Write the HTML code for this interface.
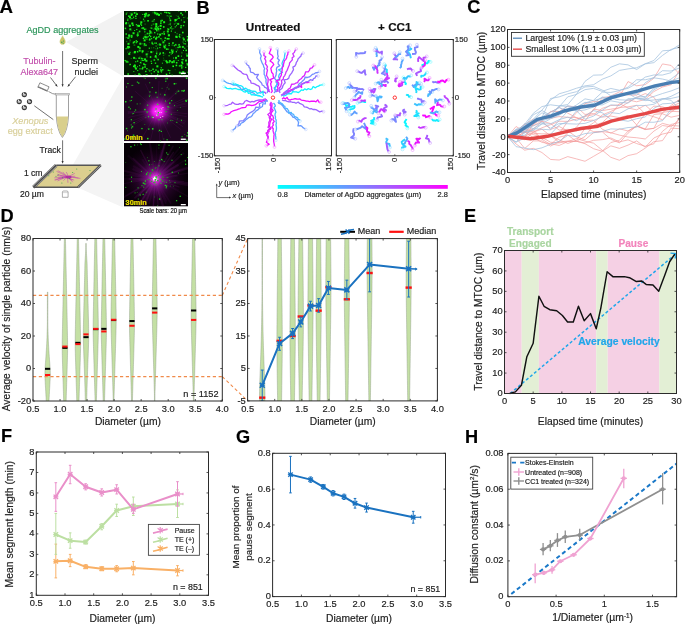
<!DOCTYPE html><html><head><meta charset="utf-8"><style>html,body{margin:0;padding:0;background:#fff;}svg{display:block;will-change:transform;}text{font-family:"Liberation Sans",sans-serif;}</style></head><body>
<svg width="685" height="624" viewBox="0 0 685 624">
<defs><radialGradient id="bead" cx="40%" cy="35%" r="70%"><stop offset="0" stop-color="#f0f0f0"/><stop offset="0.45" stop-color="#808080"/><stop offset="1" stop-color="#202020"/></radialGradient><radialGradient id="glow2" cx="50%" cy="50%" r="50%"><stop offset="0" stop-color="#ff50ff"/><stop offset="0.22" stop-color="#f818f8" stop-opacity="0.95"/><stop offset="0.42" stop-color="#c010c8" stop-opacity="0.6"/><stop offset="0.7" stop-color="#701078" stop-opacity="0.25"/><stop offset="1" stop-color="#400848" stop-opacity="0"/></radialGradient><radialGradient id="glow3" cx="50%" cy="50%" r="50%"><stop offset="0" stop-color="#ffd0ff"/><stop offset="0.15" stop-color="#f030f0" stop-opacity="0.95"/><stop offset="0.45" stop-color="#a018a8" stop-opacity="0.5"/><stop offset="1" stop-color="#500058" stop-opacity="0"/></radialGradient><radialGradient id="glow3b" cx="50%" cy="50%" r="50%"><stop offset="0" stop-color="#a020a8" stop-opacity="0.6"/><stop offset="0.5" stop-color="#701078" stop-opacity="0.3"/><stop offset="1" stop-color="#400040" stop-opacity="0"/></radialGradient><linearGradient id="cbar" x1="0" x2="1" y1="0" y2="0"><stop offset="0" stop-color="#00ffff"/><stop offset="1" stop-color="#ff00ff"/></linearGradient><clipPath id="clipI1"><rect x="124" y="11" width="64" height="64.3"/></clipPath><clipPath id="clipI2"><rect x="124" y="77.1" width="64" height="64.1"/></clipPath><clipPath id="clipI3"><rect x="124" y="143" width="64" height="63.6"/></clipPath></defs>
<path d="M66 42 L123.2 11 L123.2 76.5 Z" fill="#f2f2f2" stroke="none" stroke-width="1"/>
<path d="M72.5 165.5 L123.2 76.8 L123.2 207.5 L77.5 187.5 Z" fill="#f4f4f4" stroke="none" stroke-width="1"/>
<text x="-0.6" y="13.4" font-size="18.7" text-anchor="start" fill="#000" font-weight="bold" stroke="#000" stroke-width="0.18">A</text>
<text x="26.5" y="32.8" font-size="9.3" text-anchor="start" fill="#2b955a" stroke="#2b955a" stroke-width="0.18" textLength="72" lengthAdjust="spacingAndGlyphs">AgDD aggregates</text>
<path d="M62.6 35.6 C61.6 38 59.8 39.6 59.8 41.7 C59.8 43.4 61.1 44.6 62.6 44.6 C64.1 44.6 65.4 43.4 65.4 41.7 C65.4 39.6 63.6 38 62.6 35.6 Z" fill="#c9c565" stroke="#d8d49a" stroke-width="0.4"/>
<circle cx="61.8" cy="42.3" r="0.7" fill="#2e9a5c"/><circle cx="63.5" cy="41" r="0.6" fill="#2e9a5c"/><circle cx="63.2" cy="43.2" r="0.5" fill="#2e9a5c"/>
<text transform="translate(23.3 63.6) scale(0.94 1)" x="0" y="0" font-size="9.6" text-anchor="start" fill="#c24fac" stroke="#c24fac" stroke-width="0.19047619047619047">Tubulin-</text>
<text transform="translate(20.4 74.6) scale(0.94 1)" x="0" y="0" font-size="9.6" text-anchor="start" fill="#c24fac" stroke="#c24fac" stroke-width="0.19047619047619047">Alexa647</text>
<text transform="translate(71.6 63.6) scale(0.94 1)" x="0" y="0" font-size="9.6" text-anchor="start" fill="#2a2a2a" stroke="#2a2a2a" stroke-width="0.19047619047619047">Sperm</text>
<text transform="translate(74.5 74.6) scale(0.94 1)" x="0" y="0" font-size="9.6" text-anchor="start" fill="#2a2a2a" stroke="#2a2a2a" stroke-width="0.19047619047619047">nuclei</text>
<line x1="62.6" y1="51" x2="62.6" y2="86.5" stroke="#333" stroke-width="0.7"/>
<path d="M62.6 86.5 L61.5 84.3 L63.7 84.3 Z" fill="#333" stroke="none" stroke-width="1"/>
<line x1="50.5" y1="77.5" x2="57.3" y2="86.5" stroke="#333" stroke-width="0.7"/>
<path d="M57.3 86.5 L55.1 85.41 L56.85 84.08 Z" fill="#333" stroke="none" stroke-width="1"/>
<line x1="75.5" y1="76.8" x2="67.8" y2="86.5" stroke="#333" stroke-width="0.7"/>
<path d="M67.8 86.5 L68.31 84.09 L70.03 85.46 Z" fill="#333" stroke="none" stroke-width="1"/>
<g transform="rotate(24 43.5 87)"><rect x="38.5" y="84.6" width="10" height="4.2" fill="#fff" stroke="#555" stroke-width="0.6"/><line x1="38" y1="89.4" x2="49" y2="89.4" stroke="#666" stroke-width="0.9"/></g>
<path d="M48.5 91.5 L52.5 93.6 L55.5 94.2" fill="none" stroke="#666" stroke-width="0.7"/>
<path d="M56.3 95 L56.3 116 Q57.2 131 62.4 137.4 Q67.6 131 68.5 116 L68.5 95" fill="#fff" stroke="#777" stroke-width="0.7"/>
<path d="M56.65 116.4 L68.15 116.4 Q67.3 130.6 62.4 136.9 Q57.5 130.6 56.65 116.4 Z" fill="#d9cf8c"/>
<rect x="55.2" y="93.6" width="14.2" height="1.4" fill="#e2e2e2" stroke="#8a8a8a" stroke-width="0.5"/>
<circle cx="24.3" cy="94.6" r="2.6" fill="#3a3a3a"/>
<ellipse cx="24.3" cy="94.8" rx="1.7" ry="0.9" fill="#d8d8d8"/>
<circle cx="23.7" cy="93.3" r="0.7" fill="#fff"/>
<circle cx="19.2" cy="101.6" r="2.6" fill="#3a3a3a"/>
<ellipse cx="19.2" cy="101.8" rx="1.7" ry="0.9" fill="#d8d8d8"/>
<circle cx="18.6" cy="100.3" r="0.7" fill="#fff"/>
<circle cx="29.5" cy="101.6" r="2.6" fill="#3a3a3a"/>
<ellipse cx="29.5" cy="101.8" rx="1.7" ry="0.9" fill="#d8d8d8"/>
<circle cx="28.9" cy="100.3" r="0.7" fill="#fff"/>
<circle cx="24.3" cy="107.6" r="2.6" fill="#3a3a3a"/>
<ellipse cx="24.3" cy="107.8" rx="1.7" ry="0.9" fill="#d8d8d8"/>
<circle cx="23.7" cy="106.3" r="0.7" fill="#fff"/>
<line x1="34.3" y1="105.8" x2="53.3" y2="119.6" stroke="#333" stroke-width="0.7"/>
<text x="12.2" y="123.7" font-size="9.2" text-anchor="start" fill="#d8cf9a" font-style="italic" stroke="#d8cf9a" stroke-width="0.18">Xenopus</text>
<text x="7.7" y="134" font-size="9.1" text-anchor="start" fill="#d8cf9a" stroke="#d8cf9a" stroke-width="0.18">egg extract</text>
<text x="39.6" y="152.6" font-size="8.6" text-anchor="start" fill="#222" stroke="#222" stroke-width="0.18">Track</text>
<line x1="62.6" y1="140.3" x2="62.6" y2="163.3" stroke="#333" stroke-width="0.7"/>
<path d="M62.6 163.3 L61.5 161.1 L63.7 161.1 Z" fill="#333" stroke="none" stroke-width="1"/>
<path d="M33.4 187.3 L56.2 165.2 L100.8 165.2 L78 187.3 Z" fill="#dccf8f"/>
<path d="M33.4 187.3 L56.2 165.2" stroke="#4a4a4a" stroke-width="3.4"/>
<path d="M33.4 187.3 L56.2 165.2" stroke="#f4f4f4" stroke-width="0.55" transform="translate(0.75 0.75)"/>
<path d="M33.4 187.3 L56.2 165.2" stroke="#f4f4f4" stroke-width="0.55" transform="translate(-0.75 -0.75)"/>
<line x1="56.2" y1="165.3" x2="100.8" y2="165.3" stroke="#555" stroke-width="1.4"/>
<line x1="33.4" y1="187.2" x2="78" y2="187.2" stroke="#555" stroke-width="1.6"/>
<path d="M78 187.3 L100.8 165.2" stroke="#4a4a4a" stroke-width="2.4"/>
<path d="M78 187.3 L100.8 165.2" stroke="#eee" stroke-width="0.5"/>
<path d="M67.5 176.8 Q65.83 177.84 63.55 180.59" stroke="#c040b0" stroke-width="0.55" fill="none"/>
<path d="M67.5 176.8 Q61.4 176.24 57.07 175.65" stroke="#c040b0" stroke-width="0.55" fill="none"/>
<path d="M67.5 176.8 Q72.13 176.61 78.48 178.07" stroke="#c040b0" stroke-width="0.55" fill="none"/>
<path d="M67.5 176.8 Q60.19 177.86 54.39 180.03" stroke="#c040b0" stroke-width="0.55" fill="none"/>
<path d="M67.5 176.8 Q62.16 173.87 56.51 171.36" stroke="#c040b0" stroke-width="0.55" fill="none"/>
<path d="M67.5 176.8 Q72.13 176.1 75.32 176.24" stroke="#c040b0" stroke-width="0.55" fill="none"/>
<path d="M67.5 176.8 Q69.75 179.04 72.76 180.02" stroke="#c040b0" stroke-width="0.55" fill="none"/>
<path d="M67.5 176.8 Q70.43 179.28 72.81 182.28" stroke="#c040b0" stroke-width="0.55" fill="none"/>
<path d="M67.5 176.8 Q62.77 175.64 59.81 175.66" stroke="#c040b0" stroke-width="0.55" fill="none"/>
<path d="M67.5 176.8 Q64.75 174.53 62.74 171.91" stroke="#c040b0" stroke-width="0.55" fill="none"/>
<path d="M67.5 176.8 Q63.24 177.9 57.81 178.21" stroke="#c040b0" stroke-width="0.55" fill="none"/>
<path d="M67.5 176.8 Q67.78 180.55 67.96 182.81" stroke="#c040b0" stroke-width="0.55" fill="none"/>
<path d="M67.5 176.8 Q67.82 173.65 66.21 172.03" stroke="#c040b0" stroke-width="0.55" fill="none"/>
<path d="M67.5 176.8 Q60.66 178.45 55.2 180.14" stroke="#c040b0" stroke-width="0.55" fill="none"/>
<path d="M67.5 176.8 Q74.5 177.73 80.44 178.36" stroke="#c040b0" stroke-width="0.55" fill="none"/>
<path d="M67.5 176.8 Q71.52 175.26 74.77 173.33" stroke="#c040b0" stroke-width="0.55" fill="none"/>
<path d="M67.5 176.8 Q63.14 176.36 57.43 174.15" stroke="#c040b0" stroke-width="0.55" fill="none"/>
<path d="M67.5 176.8 Q60.05 177.72 54.36 177.84" stroke="#c040b0" stroke-width="0.55" fill="none"/>
<path d="M67.5 176.8 Q63.27 173.27 57.75 170.6" stroke="#c040b0" stroke-width="0.55" fill="none"/>
<path d="M67.5 176.8 Q61.52 178.83 57.44 181.01" stroke="#c040b0" stroke-width="0.55" fill="none"/>
<path d="M67.5 176.8 Q68.72 179.12 71.7 180.36" stroke="#c040b0" stroke-width="0.55" fill="none"/>
<path d="M67.5 176.8 Q70.61 179.23 74.15 180.17" stroke="#c040b0" stroke-width="0.55" fill="none"/>
<ellipse cx="68.5" cy="177" rx="3" ry="1.6" fill="#b0309f"/>
<circle cx="48.79" cy="175.64" r="0.5" fill="#2ea04a"/>
<circle cx="70.82" cy="183.02" r="0.5" fill="#2ea04a"/>
<circle cx="58.09" cy="175.06" r="0.5" fill="#2ea04a"/>
<circle cx="61.86" cy="183.03" r="0.5" fill="#2ea04a"/>
<circle cx="90.01" cy="170.57" r="0.5" fill="#2ea04a"/>
<circle cx="53.28" cy="171.94" r="0.5" fill="#2ea04a"/>
<circle cx="55.97" cy="176.24" r="0.5" fill="#2ea04a"/>
<circle cx="72.69" cy="172.47" r="0.5" fill="#2ea04a"/>
<circle cx="62.35" cy="177.63" r="0.5" fill="#2ea04a"/>
<circle cx="69.23" cy="178.5" r="0.5" fill="#2ea04a"/>
<circle cx="76.78" cy="168.92" r="0.5" fill="#2ea04a"/>
<text x="23.9" y="175.5" font-size="8.6" text-anchor="start" fill="#222" stroke="#222" stroke-width="0.18">1 cm</text>
<text x="19.9" y="197.4" font-size="8.6" text-anchor="start" fill="#222" stroke="#222" stroke-width="0.18">20 µm</text>
<path d="M62.4 197.3 L62.4 192.2 Q62.4 191 63.6 191 L66.9 191 Q68.1 191 68.1 192.2 L68.1 197.3 Z" fill="#fff" stroke="#777" stroke-width="0.6"/>
<line x1="62.4" y1="192.6" x2="68.1" y2="192.6" stroke="#999" stroke-width="0.4"/>
<g clip-path="url(#clipI1)">
<rect x="124" y="11" width="64" height="64.3" fill="#021c02" stroke="none" stroke-width="1"/>
<rect x="152.95" y="46.99" width="1.4" height="1.4" fill="#0a620a"/>
<rect x="156.5" y="48.77" width="1" height="1" fill="#0a790a"/>
<rect x="156.76" y="51.5" width="1" height="1" fill="#0a4c0a"/>
<rect x="152.58" y="20.12" width="1.8" height="1.8" fill="#0a790a"/>
<rect x="180.98" y="51.8" width="1.8" height="1.8" fill="#0a5f0a"/>
<rect x="185.74" y="53.05" width="1.8" height="1.8" fill="#0a6f0a"/>
<rect x="134.08" y="11.96" width="1.8" height="1.8" fill="#0a4a0a"/>
<rect x="127.81" y="23.23" width="1" height="1" fill="#0a6c0a"/>
<rect x="125.93" y="40.83" width="1.4" height="1.4" fill="#0a6b0a"/>
<rect x="177.92" y="44.38" width="1.8" height="1.8" fill="#0a580a"/>
<rect x="155.99" y="53.6" width="1.4" height="1.4" fill="#0a6f0a"/>
<rect x="141.8" y="75.15" width="1" height="1" fill="#0a730a"/>
<rect x="140.26" y="59.74" width="1.8" height="1.8" fill="#0a580a"/>
<rect x="125.9" y="47.21" width="1" height="1" fill="#0a5f0a"/>
<rect x="130.9" y="29.71" width="1" height="1" fill="#0a470a"/>
<rect x="178.23" y="11.04" width="1" height="1" fill="#0a810a"/>
<rect x="182.26" y="41.22" width="1.8" height="1.8" fill="#0a5f0a"/>
<rect x="150.87" y="47.41" width="1" height="1" fill="#0a770a"/>
<rect x="167.19" y="32.66" width="1.4" height="1.4" fill="#0a5b0a"/>
<rect x="124.97" y="37.37" width="1" height="1" fill="#0a4e0a"/>
<rect x="139.77" y="17.5" width="1" height="1" fill="#0a630a"/>
<rect x="175.01" y="22.42" width="1.8" height="1.8" fill="#0a520a"/>
<rect x="152.64" y="23.26" width="1.8" height="1.8" fill="#0a770a"/>
<rect x="132.38" y="52.39" width="1" height="1" fill="#0a5f0a"/>
<rect x="150.93" y="24.69" width="1.4" height="1.4" fill="#0a7d0a"/>
<rect x="186.14" y="62.66" width="1.4" height="1.4" fill="#0a7e0a"/>
<rect x="125.26" y="23.04" width="1.8" height="1.8" fill="#0a6f0a"/>
<rect x="160.93" y="13.71" width="1" height="1" fill="#0a530a"/>
<rect x="152.26" y="11.62" width="1.8" height="1.8" fill="#0a5b0a"/>
<rect x="177.14" y="35.83" width="1" height="1" fill="#0a4b0a"/>
<rect x="137.36" y="51.93" width="1" height="1" fill="#0a6c0a"/>
<rect x="147.6" y="51" width="1" height="1" fill="#0a6b0a"/>
<rect x="154.96" y="47.94" width="1.4" height="1.4" fill="#0a510a"/>
<rect x="164.14" y="30.99" width="1" height="1" fill="#0a7a0a"/>
<rect x="163.07" y="57.64" width="1" height="1" fill="#0a750a"/>
<rect x="164.25" y="46.62" width="1.8" height="1.8" fill="#0a820a"/>
<rect x="148.85" y="42.03" width="1" height="1" fill="#0a600a"/>
<rect x="127.03" y="18.01" width="1.8" height="1.8" fill="#0a560a"/>
<rect x="139.26" y="56.3" width="1.4" height="1.4" fill="#0a600a"/>
<rect x="176.72" y="49.35" width="1.4" height="1.4" fill="#0a670a"/>
<rect x="135.23" y="57.32" width="1" height="1" fill="#0a4e0a"/>
<rect x="138.62" y="46.97" width="1.8" height="1.8" fill="#0a6d0a"/>
<rect x="128.74" y="24.66" width="1" height="1" fill="#0a750a"/>
<rect x="125.06" y="28.31" width="1.4" height="1.4" fill="#0a550a"/>
<rect x="127.87" y="22.33" width="1.4" height="1.4" fill="#0a670a"/>
<rect x="160.62" y="19.46" width="1.4" height="1.4" fill="#0a4e0a"/>
<rect x="181.02" y="74.05" width="1.8" height="1.8" fill="#0a740a"/>
<rect x="168.24" y="48.58" width="1" height="1" fill="#0a6b0a"/>
<rect x="126.25" y="12.15" width="1.4" height="1.4" fill="#0a720a"/>
<rect x="143.96" y="13.16" width="1.8" height="1.8" fill="#0a6e0a"/>
<rect x="128.79" y="15.33" width="1.4" height="1.4" fill="#0a5a0a"/>
<rect x="132.74" y="15.66" width="1.4" height="1.4" fill="#0a680a"/>
<rect x="147.54" y="13.86" width="1.8" height="1.8" fill="#0a750a"/>
<rect x="169.04" y="62.01" width="1.4" height="1.4" fill="#0a5c0a"/>
<rect x="129.44" y="41.43" width="1" height="1" fill="#0a7d0a"/>
<rect x="178.87" y="71.71" width="1" height="1" fill="#0a7d0a"/>
<rect x="156" y="11.93" width="1.8" height="1.8" fill="#0a5e0a"/>
<rect x="148.27" y="11.8" width="1" height="1" fill="#0a4b0a"/>
<rect x="129.8" y="18.43" width="1.4" height="1.4" fill="#0a7e0a"/>
<rect x="150.64" y="32.23" width="1.8" height="1.8" fill="#0a720a"/>
<rect x="161.18" y="39.33" width="1.8" height="1.8" fill="#0a4b0a"/>
<rect x="157.2" y="44.08" width="1.4" height="1.4" fill="#0a6c0a"/>
<rect x="129.61" y="12.43" width="1.8" height="1.8" fill="#0a4d0a"/>
<rect x="155.82" y="50.51" width="1.4" height="1.4" fill="#0a560a"/>
<rect x="181.37" y="34.66" width="1" height="1" fill="#0a710a"/>
<rect x="163.15" y="44.33" width="1.4" height="1.4" fill="#0a700a"/>
<rect x="183.54" y="43.04" width="1" height="1" fill="#0a5a0a"/>
<rect x="149.9" y="27.11" width="1.8" height="1.8" fill="#0a610a"/>
<rect x="175.44" y="59.52" width="1" height="1" fill="#0a7e0a"/>
<rect x="137.71" y="25.12" width="1.4" height="1.4" fill="#0a530a"/>
<rect x="132.72" y="42.92" width="1" height="1" fill="#0a730a"/>
<rect x="128.1" y="74.04" width="1" height="1" fill="#0a4d0a"/>
<rect x="152.84" y="28.69" width="1" height="1" fill="#0a7b0a"/>
<rect x="150.5" y="51.23" width="1.4" height="1.4" fill="#0a710a"/>
<rect x="144.18" y="64.96" width="1.8" height="1.8" fill="#0a620a"/>
<rect x="144.5" y="64.29" width="1.4" height="1.4" fill="#0a7d0a"/>
<rect x="162.88" y="54.61" width="1.4" height="1.4" fill="#0a6a0a"/>
<rect x="146.67" y="52.75" width="1.8" height="1.8" fill="#0a470a"/>
<rect x="165.02" y="37.05" width="1" height="1" fill="#0a470a"/>
<rect x="173.23" y="28.13" width="1" height="1" fill="#0a780a"/>
<rect x="127" y="51.46" width="1.4" height="1.4" fill="#0a4c0a"/>
<rect x="164.32" y="53.12" width="1.4" height="1.4" fill="#0a4a0a"/>
<rect x="167.81" y="23.82" width="1.4" height="1.4" fill="#0a560a"/>
<rect x="135.44" y="11.69" width="1.4" height="1.4" fill="#0a680a"/>
<rect x="169.71" y="22.52" width="1.4" height="1.4" fill="#0a770a"/>
<rect x="146.13" y="55.84" width="1.8" height="1.8" fill="#0a660a"/>
<rect x="163.32" y="59.62" width="1.4" height="1.4" fill="#0a7c0a"/>
<rect x="174.68" y="69.27" width="1" height="1" fill="#0a600a"/>
<rect x="183.69" y="57.45" width="1" height="1" fill="#0a620a"/>
<rect x="153.03" y="51.22" width="1" height="1" fill="#0a5e0a"/>
<rect x="159.2" y="52.97" width="1.8" height="1.8" fill="#0a780a"/>
<rect x="176.44" y="33.06" width="1.4" height="1.4" fill="#0a6f0a"/>
<rect x="186.87" y="17.36" width="1.8" height="1.8" fill="#0a810a"/>
<rect x="169.93" y="24.71" width="1.4" height="1.4" fill="#0a4b0a"/>
<rect x="186.55" y="45.53" width="1.4" height="1.4" fill="#0a560a"/>
<rect x="182.24" y="66.03" width="1.4" height="1.4" fill="#0a660a"/>
<rect x="129.3" y="39.35" width="1.8" height="1.8" fill="#0a600a"/>
<rect x="173.17" y="42.34" width="1" height="1" fill="#0a530a"/>
<rect x="175.78" y="15.12" width="1" height="1" fill="#0a510a"/>
<rect x="158.12" y="55.15" width="1" height="1" fill="#0a640a"/>
<rect x="133.52" y="44.21" width="1.8" height="1.8" fill="#0a670a"/>
<rect x="177.76" y="55.33" width="1.4" height="1.4" fill="#0a6b0a"/>
<rect x="184.75" y="16.53" width="1" height="1" fill="#0a620a"/>
<rect x="157.71" y="29.66" width="1.8" height="1.8" fill="#0a690a"/>
<rect x="164.89" y="44.61" width="1.8" height="1.8" fill="#0a560a"/>
<rect x="143.95" y="35.51" width="1.8" height="1.8" fill="#0a530a"/>
<rect x="143.49" y="20.08" width="1.8" height="1.8" fill="#0a670a"/>
<rect x="141.47" y="43" width="1.4" height="1.4" fill="#0a680a"/>
<rect x="131.31" y="11.32" width="1.4" height="1.4" fill="#0a470a"/>
<rect x="158.45" y="13.83" width="1.4" height="1.4" fill="#0a680a"/>
<rect x="175.27" y="47.19" width="1.4" height="1.4" fill="#0a4b0a"/>
<rect x="168.22" y="15.24" width="1.8" height="1.8" fill="#0a630a"/>
<rect x="150.48" y="72.53" width="1.4" height="1.4" fill="#0a570a"/>
<rect x="139.76" y="42.7" width="1.4" height="1.4" fill="#0a610a"/>
<rect x="181.66" y="71.16" width="1.4" height="1.4" fill="#0a670a"/>
<rect x="144.3" y="23.31" width="1.8" height="1.8" fill="#0a470a"/>
<rect x="183.22" y="19.32" width="1" height="1" fill="#0a480a"/>
<rect x="136.42" y="25.61" width="1.8" height="1.8" fill="#0a580a"/>
<rect x="144.61" y="33.85" width="1.8" height="1.8" fill="#0a650a"/>
<rect x="130.71" y="58" width="1" height="1" fill="#0a7c0a"/>
<rect x="156.67" y="27.11" width="1.2" height="1.2" fill="#19f819"/>
<rect x="180.24" y="12.49" width="1.6" height="1.6" fill="#19f819"/>
<rect x="163.41" y="45.61" width="2" height="2" fill="#19ff19"/>
<rect x="137.97" y="24.9" width="2" height="2" fill="#19fe19"/>
<rect x="161.55" y="19.77" width="1.4" height="1.4" fill="#19e219"/>
<rect x="144.22" y="31.25" width="1.2" height="1.2" fill="#19e419"/>
<rect x="173.81" y="23.51" width="1" height="1" fill="#19df19"/>
<rect x="180.89" y="19.52" width="1" height="1" fill="#19e719"/>
<rect x="148.83" y="38.96" width="1.6" height="1.6" fill="#19f919"/>
<rect x="174.56" y="19.1" width="1.6" height="1.6" fill="#19ff19"/>
<rect x="167.85" y="12.14" width="1.2" height="1.2" fill="#19fb19"/>
<rect x="167.67" y="69.6" width="1.4" height="1.4" fill="#19de19"/>
<rect x="169.1" y="51.81" width="1.4" height="1.4" fill="#19f719"/>
<rect x="187.91" y="64.56" width="1" height="1" fill="#19f519"/>
<rect x="130.8" y="13.41" width="2" height="2" fill="#19fe19"/>
<rect x="156.95" y="47.57" width="1.2" height="1.2" fill="#19e319"/>
<rect x="135.81" y="24.11" width="1.2" height="1.2" fill="#19e919"/>
<rect x="183.32" y="17.12" width="1" height="1" fill="#19df19"/>
<rect x="184.9" y="40.71" width="1" height="1" fill="#19eb19"/>
<rect x="149.02" y="38.42" width="1.4" height="1.4" fill="#19f219"/>
<rect x="137.45" y="34.99" width="1" height="1" fill="#19e319"/>
<rect x="135.6" y="40.19" width="1.4" height="1.4" fill="#19f019"/>
<rect x="183" y="49.89" width="1" height="1" fill="#19f719"/>
<rect x="174.71" y="31.81" width="1" height="1" fill="#19ff19"/>
<rect x="184.13" y="47.63" width="1.2" height="1.2" fill="#19f719"/>
<rect x="161.42" y="32.92" width="1.4" height="1.4" fill="#19e819"/>
<rect x="182.32" y="58.87" width="1.2" height="1.2" fill="#19f019"/>
<rect x="132.53" y="32.21" width="2" height="2" fill="#19ee19"/>
<rect x="173.11" y="60.2" width="1.6" height="1.6" fill="#19e419"/>
<rect x="170.25" y="15.54" width="1.4" height="1.4" fill="#19ea19"/>
<rect x="154.01" y="11.68" width="1.4" height="1.4" fill="#19ff19"/>
<rect x="181.77" y="14.19" width="1.4" height="1.4" fill="#19ea19"/>
<rect x="145.62" y="53.42" width="2" height="2" fill="#19e219"/>
<rect x="158.12" y="36.05" width="1.6" height="1.6" fill="#19e419"/>
<rect x="168.88" y="59.98" width="2" height="2" fill="#19d819"/>
<rect x="131.35" y="17.95" width="1.2" height="1.2" fill="#19e719"/>
<rect x="152.39" y="43.46" width="1.2" height="1.2" fill="#19ef19"/>
<rect x="124.69" y="27.63" width="1.4" height="1.4" fill="#19ec19"/>
<rect x="159.2" y="43.65" width="2" height="2" fill="#19fb19"/>
<rect x="178.17" y="17.41" width="1.6" height="1.6" fill="#19db19"/>
<rect x="159.16" y="53.98" width="1" height="1" fill="#19ef19"/>
<rect x="183.53" y="21.28" width="1.6" height="1.6" fill="#19e119"/>
<rect x="178.76" y="45.85" width="2" height="2" fill="#19da19"/>
<rect x="151.49" y="42.8" width="1.4" height="1.4" fill="#19f819"/>
<rect x="149.51" y="31.09" width="2" height="2" fill="#19e919"/>
<rect x="154.93" y="28.35" width="1.4" height="1.4" fill="#19e919"/>
<rect x="125.72" y="60.67" width="2" height="2" fill="#19d919"/>
<rect x="164.51" y="37.29" width="1.6" height="1.6" fill="#19da19"/>
<rect x="181.44" y="59.12" width="1" height="1" fill="#19fc19"/>
<rect x="187.28" y="71.73" width="1" height="1" fill="#19e519"/>
<rect x="151.49" y="41.71" width="1.2" height="1.2" fill="#19d919"/>
<rect x="157.5" y="71.27" width="1.6" height="1.6" fill="#19e019"/>
<rect x="186.64" y="63.51" width="2" height="2" fill="#19de19"/>
<rect x="127.23" y="37.82" width="1" height="1" fill="#19e419"/>
<rect x="179.11" y="33.94" width="1.2" height="1.2" fill="#19de19"/>
<rect x="147.25" y="19.99" width="1.6" height="1.6" fill="#19f419"/>
<rect x="162.47" y="52.13" width="1.6" height="1.6" fill="#19ee19"/>
<rect x="173.79" y="45.13" width="1.2" height="1.2" fill="#19e919"/>
<rect x="170.99" y="26.33" width="1" height="1" fill="#19f719"/>
<rect x="181.13" y="61.43" width="2" height="2" fill="#19ed19"/>
<rect x="141.58" y="50.21" width="2" height="2" fill="#19fc19"/>
<rect x="136.16" y="28.92" width="1.2" height="1.2" fill="#19e319"/>
<rect x="184.92" y="43.29" width="1.2" height="1.2" fill="#19d919"/>
<rect x="164.22" y="11.61" width="1.4" height="1.4" fill="#19f219"/>
<rect x="125.72" y="13.45" width="1.2" height="1.2" fill="#19f919"/>
<rect x="141.81" y="59.6" width="1.2" height="1.2" fill="#19fa19"/>
<rect x="139.02" y="74.11" width="1.6" height="1.6" fill="#19f519"/>
<rect x="146.66" y="32.75" width="1.6" height="1.6" fill="#19df19"/>
<rect x="177.67" y="15.78" width="1" height="1" fill="#19f319"/>
<rect x="175.79" y="51.11" width="1.2" height="1.2" fill="#19f319"/>
<rect x="151.16" y="27.59" width="1.2" height="1.2" fill="#19ee19"/>
<rect x="133.82" y="64.78" width="2" height="2" fill="#19eb19"/>
<rect x="142.62" y="59.8" width="1.2" height="1.2" fill="#19f219"/>
<rect x="165.84" y="48.33" width="1.6" height="1.6" fill="#19eb19"/>
<rect x="129.02" y="16.34" width="2" height="2" fill="#19fb19"/>
<rect x="155.03" y="55.07" width="1.4" height="1.4" fill="#19d719"/>
<rect x="128.87" y="24.71" width="2" height="2" fill="#19dc19"/>
<rect x="168.49" y="42.81" width="1.4" height="1.4" fill="#19e919"/>
<rect x="180.43" y="25.07" width="1.4" height="1.4" fill="#19ee19"/>
<rect x="182" y="31.73" width="1.6" height="1.6" fill="#19fb19"/>
<rect x="162.07" y="69.02" width="1.4" height="1.4" fill="#19f319"/>
<rect x="157.93" y="74.81" width="1.6" height="1.6" fill="#19eb19"/>
<rect x="138.16" y="73.23" width="2" height="2" fill="#19e619"/>
<rect x="129.39" y="64.27" width="1" height="1" fill="#19ee19"/>
<rect x="167.33" y="48.6" width="1.2" height="1.2" fill="#19fb19"/>
<rect x="147.57" y="36.09" width="1.2" height="1.2" fill="#19fc19"/>
<rect x="160.02" y="22.35" width="1.6" height="1.6" fill="#19e919"/>
<rect x="175.96" y="25.23" width="1" height="1" fill="#19f919"/>
<rect x="134.16" y="30.03" width="1" height="1" fill="#19f219"/>
<rect x="128.1" y="46.16" width="2" height="2" fill="#19dc19"/>
<rect x="145.41" y="28.6" width="1" height="1" fill="#19eb19"/>
<rect x="129.42" y="51.77" width="1.2" height="1.2" fill="#19dd19"/>
<rect x="171.73" y="52.73" width="1.2" height="1.2" fill="#19e519"/>
<rect x="155.3" y="69.37" width="1.4" height="1.4" fill="#19f419"/>
<rect x="149.24" y="32.72" width="1.4" height="1.4" fill="#19df19"/>
<rect x="155.59" y="45.55" width="1" height="1" fill="#19fe19"/>
<rect x="182.56" y="37.4" width="1.4" height="1.4" fill="#19d719"/>
<rect x="175.58" y="64.62" width="1.6" height="1.6" fill="#19f919"/>
<rect x="164.98" y="44.68" width="1" height="1" fill="#19de19"/>
<rect x="150.98" y="38.04" width="1.2" height="1.2" fill="#19e619"/>
<rect x="171.44" y="74.72" width="1.6" height="1.6" fill="#19e119"/>
<rect x="144.54" y="36.03" width="2" height="2" fill="#19e919"/>
<rect x="141.54" y="67.98" width="1.6" height="1.6" fill="#19ea19"/>
<rect x="170.77" y="30.52" width="1.2" height="1.2" fill="#19e219"/>
<rect x="182.38" y="59.43" width="1" height="1" fill="#19fc19"/>
<rect x="154.79" y="62.47" width="1.4" height="1.4" fill="#19dd19"/>
<rect x="136.65" y="34.1" width="2" height="2" fill="#19e619"/>
<rect x="162.4" y="41.34" width="2" height="2" fill="#19e519"/>
<rect x="152.28" y="68.52" width="1.6" height="1.6" fill="#19e219"/>
<rect x="182.28" y="71.27" width="2" height="2" fill="#19fa19"/>
<rect x="154.69" y="27.75" width="1.6" height="1.6" fill="#19ec19"/>
<rect x="166.26" y="60.62" width="1" height="1" fill="#19f519"/>
<rect x="179.2" y="36.68" width="1.2" height="1.2" fill="#19df19"/>
<rect x="175.29" y="35.75" width="2" height="2" fill="#19f819"/>
<rect x="173.55" y="61.65" width="1" height="1" fill="#19e619"/>
<rect x="181.1" y="67.2" width="1.4" height="1.4" fill="#19f319"/>
<rect x="174.99" y="56.86" width="2" height="2" fill="#19e119"/>
<rect x="150.61" y="60.64" width="1.2" height="1.2" fill="#19e719"/>
<rect x="182.12" y="63.08" width="1.2" height="1.2" fill="#19ff19"/>
<rect x="171.47" y="50.83" width="2" height="2" fill="#19f919"/>
<rect x="127.39" y="47.77" width="1.2" height="1.2" fill="#19d719"/>
<rect x="137.08" y="69.91" width="1.2" height="1.2" fill="#19df19"/>
<rect x="129.28" y="28.36" width="2" height="2" fill="#19dd19"/>
<rect x="180.94" y="55.6" width="1" height="1" fill="#19fc19"/>
<rect x="158.78" y="43.53" width="1" height="1" fill="#19e319"/>
<rect x="150.69" y="69.95" width="1" height="1" fill="#19f319"/>
<rect x="137.34" y="45.94" width="2" height="2" fill="#19f619"/>
<rect x="134.08" y="64.5" width="1.4" height="1.4" fill="#19eb19"/>
<rect x="143.89" y="15.89" width="1.4" height="1.4" fill="#19f419"/>
<rect x="166.7" y="15.31" width="1" height="1" fill="#19df19"/>
<rect x="130.77" y="36.35" width="1.6" height="1.6" fill="#19de19"/>
<rect x="165.85" y="11.79" width="1.6" height="1.6" fill="#19f519"/>
<rect x="139.2" y="47.27" width="1.6" height="1.6" fill="#19d719"/>
<rect x="178.79" y="65.3" width="1.2" height="1.2" fill="#19fe19"/>
<rect x="133.74" y="51.37" width="2" height="2" fill="#19ea19"/>
<rect x="185.06" y="59.54" width="2" height="2" fill="#19dc19"/>
<rect x="140.41" y="23.86" width="1" height="1" fill="#19ec19"/>
<rect x="143.82" y="28.61" width="1.6" height="1.6" fill="#19ff19"/>
<rect x="145.23" y="64.17" width="1" height="1" fill="#19dd19"/>
<rect x="133.01" y="17.07" width="1.2" height="1.2" fill="#19e219"/>
<rect x="136.36" y="13.35" width="1.6" height="1.6" fill="#19fc19"/>
<rect x="169.05" y="17.46" width="1" height="1" fill="#19e119"/>
<rect x="187.19" y="38.89" width="1" height="1" fill="#19ec19"/>
<rect x="182.92" y="38.46" width="2" height="2" fill="#19df19"/>
<rect x="165.42" y="60.31" width="1.6" height="1.6" fill="#19f519"/>
<rect x="145.21" y="37.5" width="1" height="1" fill="#19f019"/>
<rect x="163.24" y="31.43" width="1.2" height="1.2" fill="#19fd19"/>
<rect x="157.91" y="27.76" width="1.2" height="1.2" fill="#19ec19"/>
<rect x="143.63" y="39.37" width="2" height="2" fill="#19ef19"/>
<rect x="137.11" y="32.4" width="1.4" height="1.4" fill="#19dd19"/>
<rect x="163.13" y="21.18" width="2" height="2" fill="#19ea19"/>
<rect x="159.09" y="33.67" width="2" height="2" fill="#19f719"/>
<rect x="133.07" y="56.87" width="2" height="2" fill="#19e319"/>
<rect x="160.31" y="12.72" width="1.2" height="1.2" fill="#19dc19"/>
<rect x="132.72" y="41.73" width="1.6" height="1.6" fill="#19ec19"/>
<rect x="145.07" y="70.74" width="1.4" height="1.4" fill="#19e819"/>
<rect x="153.63" y="18.97" width="1.2" height="1.2" fill="#19e619"/>
<rect x="181.86" y="45.94" width="2" height="2" fill="#19db19"/>
<rect x="159.86" y="28" width="1.4" height="1.4" fill="#19fd19"/>
<rect x="133.32" y="71.06" width="1" height="1" fill="#19e919"/>
<rect x="167.84" y="34.38" width="2" height="2" fill="#19ee19"/>
<rect x="177.17" y="22.93" width="2" height="2" fill="#19db19"/>
<rect x="153.08" y="36.94" width="1.2" height="1.2" fill="#19ea19"/>
<rect x="172.39" y="65.49" width="1.6" height="1.6" fill="#19fe19"/>
<rect x="161.88" y="62.69" width="1" height="1" fill="#19e119"/>
<rect x="136.77" y="41.09" width="1.2" height="1.2" fill="#19f819"/>
<rect x="148.73" y="47.62" width="1.2" height="1.2" fill="#19ec19"/>
<rect x="157.27" y="27.95" width="2" height="2" fill="#19ec19"/>
<rect x="127.42" y="61.41" width="1.2" height="1.2" fill="#19f019"/>
<rect x="185.4" y="49.59" width="1.6" height="1.6" fill="#19ed19"/>
<rect x="150.33" y="51.11" width="2" height="2" fill="#19f119"/>
<rect x="172.11" y="42.24" width="1.6" height="1.6" fill="#19f119"/>
<rect x="176.81" y="18.55" width="1" height="1" fill="#19f819"/>
<rect x="145.14" y="44.48" width="1.6" height="1.6" fill="#19d819"/>
<rect x="144.52" y="14.52" width="2" height="2" fill="#19f219"/>
<rect x="170.85" y="49.42" width="1.4" height="1.4" fill="#19fc19"/>
<rect x="180.13" y="26.71" width="1.6" height="1.6" fill="#19e619"/>
<rect x="156.17" y="36.51" width="1" height="1" fill="#19f519"/>
<rect x="168.47" y="44.84" width="1.2" height="1.2" fill="#19f919"/>
<rect x="143.6" y="36.43" width="1.2" height="1.2" fill="#19db19"/>
<rect x="187.95" y="57.99" width="1.4" height="1.4" fill="#19f919"/>
<rect x="150.97" y="62.78" width="1.2" height="1.2" fill="#19f119"/>
<rect x="160.28" y="69.09" width="1" height="1" fill="#19f819"/>
<rect x="174.71" y="18.96" width="2" height="2" fill="#19fb19"/>
<rect x="184.86" y="11.04" width="1.2" height="1.2" fill="#19ea19"/>
<rect x="125.53" y="22.06" width="1.6" height="1.6" fill="#19f319"/>
<rect x="176.19" y="36.54" width="1.4" height="1.4" fill="#19fc19"/>
<rect x="138.77" y="30.69" width="1.6" height="1.6" fill="#19eb19"/>
<rect x="143.7" y="43.05" width="1.6" height="1.6" fill="#19e419"/>
<rect x="136.97" y="66.23" width="1" height="1" fill="#19e319"/>
<rect x="144.22" y="66.25" width="1.6" height="1.6" fill="#19d819"/>
<rect x="135" y="67.57" width="2" height="2" fill="#19e319"/>
<rect x="158.12" y="26.19" width="1" height="1" fill="#19dd19"/>
<rect x="143.59" y="63.58" width="1.4" height="1.4" fill="#19f119"/>
<rect x="169.64" y="19.67" width="1.6" height="1.6" fill="#19f119"/>
<rect x="129.06" y="25.35" width="1.4" height="1.4" fill="#19de19"/>
<rect x="169.47" y="23.63" width="1.2" height="1.2" fill="#19e619"/>
<rect x="156.09" y="30" width="1.4" height="1.4" fill="#19ee19"/>
<rect x="175.44" y="44.72" width="1" height="1" fill="#19fc19"/>
<rect x="157.02" y="73.83" width="1.2" height="1.2" fill="#19e519"/>
<rect x="141.72" y="52.15" width="1" height="1" fill="#19f419"/>
<rect x="186.91" y="39.31" width="2" height="2" fill="#19db19"/>
<rect x="157.97" y="13.92" width="2" height="2" fill="#19fc19"/>
<rect x="142.21" y="27.13" width="2" height="2" fill="#19dc19"/>
<rect x="134.53" y="74.55" width="1.2" height="1.2" fill="#19e619"/>
<rect x="135.48" y="58.21" width="1" height="1" fill="#19e219"/>
<rect x="174.58" y="20.69" width="1" height="1" fill="#19fe19"/>
<rect x="153.54" y="59.26" width="1.6" height="1.6" fill="#19d719"/>
<rect x="183.47" y="43.14" width="1.2" height="1.2" fill="#19db19"/>
<rect x="159.58" y="52.47" width="1.4" height="1.4" fill="#19eb19"/>
<rect x="166.13" y="61.35" width="2" height="2" fill="#19e919"/>
<rect x="156.36" y="65.36" width="2" height="2" fill="#19f919"/>
<rect x="135.13" y="61.13" width="1.2" height="1.2" fill="#19de19"/>
<rect x="162.92" y="26.13" width="1.6" height="1.6" fill="#19fa19"/>
<rect x="173.47" y="61.58" width="1.2" height="1.2" fill="#19e719"/>
<rect x="155.3" y="25.23" width="2" height="2" fill="#19fd19"/>
<rect x="155.93" y="13.27" width="2" height="2" fill="#19da19"/>
<rect x="160.65" y="67.13" width="1.2" height="1.2" fill="#19eb19"/>
<rect x="133.72" y="12.14" width="1.6" height="1.6" fill="#19f219"/>
<rect x="156.24" y="57.5" width="1" height="1" fill="#19db19"/>
<rect x="131.31" y="22.46" width="2" height="2" fill="#19fc19"/>
<rect x="174.66" y="26.3" width="1.2" height="1.2" fill="#19da19"/>
<rect x="143.9" y="13.72" width="1.4" height="1.4" fill="#19fe19"/>
<rect x="171.26" y="61.2" width="2" height="2" fill="#19f619"/>
<rect x="129.66" y="63.76" width="1.2" height="1.2" fill="#19ef19"/>
<rect x="140.31" y="21.28" width="2" height="2" fill="#19f419"/>
<rect x="127.91" y="37.4" width="1.4" height="1.4" fill="#19e419"/>
<rect x="169.04" y="72.55" width="1.2" height="1.2" fill="#19f619"/>
<rect x="172.35" y="49.63" width="1.2" height="1.2" fill="#19e019"/>
<rect x="171.65" y="44.54" width="1" height="1" fill="#19d719"/>
<rect x="139.4" y="68.23" width="1.2" height="1.2" fill="#19dc19"/>
<rect x="149.15" y="30.17" width="1.6" height="1.6" fill="#19db19"/>
<rect x="186.19" y="54.71" width="2" height="2" fill="#19e519"/>
<rect x="142.92" y="18.64" width="1.2" height="1.2" fill="#19f119"/>
<rect x="153.54" y="70.96" width="1.4" height="1.4" fill="#19ea19"/>
<rect x="145.57" y="74.09" width="2" height="2" fill="#19e419"/>
<rect x="126.54" y="36.92" width="1" height="1" fill="#19ec19"/>
<rect x="160.31" y="69.64" width="2" height="2" fill="#19e219"/>
<rect x="153.61" y="36.27" width="1.2" height="1.2" fill="#19ef19"/>
<rect x="148.24" y="14.17" width="1.6" height="1.6" fill="#19ed19"/>
<rect x="139.78" y="62.01" width="1.2" height="1.2" fill="#19f519"/>
<rect x="137.03" y="24.79" width="1.6" height="1.6" fill="#19ea19"/>
<rect x="154.24" y="42.52" width="1.2" height="1.2" fill="#19f619"/>
<rect x="137.09" y="35.62" width="1" height="1" fill="#19da19"/>
<rect x="168.25" y="34.33" width="1.4" height="1.4" fill="#19fe19"/>
<rect x="125.19" y="22.71" width="1.4" height="1.4" fill="#19f719"/>
<rect x="149.15" y="70.39" width="1.2" height="1.2" fill="#19e819"/>
<rect x="130.62" y="14.68" width="1.4" height="1.4" fill="#19df19"/>
<rect x="173" y="57.52" width="1" height="1" fill="#19d819"/>
<rect x="187.87" y="64.94" width="1.6" height="1.6" fill="#19dc19"/>
<rect x="178.69" y="35.52" width="1.4" height="1.4" fill="#19f819"/>
<rect x="166.83" y="30.43" width="2" height="2" fill="#19e619"/>
<rect x="155.26" y="23.07" width="2" height="2" fill="#19fd19"/>
<rect x="132.17" y="24.41" width="1.6" height="1.6" fill="#19f219"/>
<rect x="154.63" y="55.63" width="2" height="2" fill="#19fa19"/>
<rect x="140.67" y="57.65" width="1.6" height="1.6" fill="#19e019"/>
<rect x="180.33" y="64.66" width="2" height="2" fill="#19f319"/>
<rect x="149.94" y="35.85" width="1.4" height="1.4" fill="#19e519"/>
<rect x="130.57" y="34.82" width="2" height="2" fill="#19e419"/>
<rect x="132.98" y="65.54" width="1.6" height="1.6" fill="#19fb19"/>
<rect x="124.73" y="59.97" width="1.4" height="1.4" fill="#19db19"/>
<rect x="182.82" y="24.9" width="1.4" height="1.4" fill="#19de19"/>
<rect x="185.13" y="66.84" width="1.2" height="1.2" fill="#19ff19"/>
<rect x="140.61" y="62.41" width="1" height="1" fill="#19f019"/>
<rect x="155.55" y="42.5" width="1.4" height="1.4" fill="#19e919"/>
<rect x="155.82" y="28.99" width="1.2" height="1.2" fill="#19f019"/>
<rect x="136.92" y="60.4" width="1.4" height="1.4" fill="#19e619"/>
<rect x="157.31" y="58.76" width="1.6" height="1.6" fill="#19e019"/>
<rect x="154.61" y="27.53" width="2" height="2" fill="#19ea19"/>
<rect x="168.81" y="12.48" width="1.6" height="1.6" fill="#19de19"/>
<rect x="147.31" y="15.05" width="1.6" height="1.6" fill="#19e819"/>
<rect x="127.5" y="42.86" width="2" height="2" fill="#19ea19"/>
<rect x="154.01" y="31.93" width="1.4" height="1.4" fill="#19db19"/>
<rect x="125.51" y="33.32" width="1.4" height="1.4" fill="#19fb19"/>
<rect x="143.03" y="63.41" width="1.2" height="1.2" fill="#19f519"/>
<rect x="148.6" y="32.95" width="1.4" height="1.4" fill="#19d819"/>
<rect x="160.87" y="71.6" width="1" height="1" fill="#19ff19"/>
<rect x="127.05" y="45.91" width="2" height="2" fill="#19f119"/>
<rect x="128.07" y="15.39" width="1.6" height="1.6" fill="#19f319"/>
<rect x="148.44" y="69.49" width="1" height="1" fill="#19df19"/>
<rect x="167.74" y="28.54" width="1.6" height="1.6" fill="#19ee19"/>
<rect x="154.27" y="12.36" width="2" height="2" fill="#19e319"/>
<rect x="141.27" y="27.6" width="1.2" height="1.2" fill="#19e619"/>
<rect x="157.32" y="70.57" width="1.6" height="1.6" fill="#19d719"/>
<rect x="139.32" y="42.74" width="2" height="2" fill="#19dc19"/>
<rect x="163.96" y="47.06" width="1.4" height="1.4" fill="#19e719"/>
<rect x="146.19" y="67.99" width="1.4" height="1.4" fill="#19e419"/>
<rect x="168.5" y="55.15" width="1.2" height="1.2" fill="#19e119"/>
<rect x="134.21" y="50.97" width="1.6" height="1.6" fill="#19fb19"/>
<rect x="142.8" y="37.67" width="1.4" height="1.4" fill="#19f919"/>
<rect x="155.9" y="52.55" width="1.4" height="1.4" fill="#19eb19"/>
<rect x="169.2" y="69.99" width="1.2" height="1.2" fill="#19db19"/>
<rect x="187.31" y="63.59" width="1.4" height="1.4" fill="#19de19"/>
<rect x="178.33" y="43.94" width="1.6" height="1.6" fill="#19d919"/>
<rect x="134.4" y="66.7" width="1.6" height="1.6" fill="#19da19"/>
<rect x="146.06" y="36.55" width="1.6" height="1.6" fill="#19e719"/>
<rect x="169.82" y="27.19" width="1.4" height="1.4" fill="#19e219"/>
<rect x="145.37" y="59.82" width="2" height="2" fill="#19df19"/>
<rect x="160.32" y="38.04" width="1.2" height="1.2" fill="#19fe19"/>
<rect x="171.38" y="28.29" width="1.2" height="1.2" fill="#19df19"/>
<rect x="136.85" y="50.94" width="1.4" height="1.4" fill="#19e519"/>
<rect x="165.73" y="73.62" width="1.6" height="1.6" fill="#19fc19"/>
<rect x="168.41" y="61.85" width="1.2" height="1.2" fill="#19e819"/>
<rect x="168.01" y="37.96" width="1.6" height="1.6" fill="#19ef19"/>
<rect x="183.74" y="74.58" width="1" height="1" fill="#19e119"/>
<rect x="169.65" y="18.61" width="1" height="1" fill="#19e319"/>
<rect x="142.31" y="58.02" width="1" height="1" fill="#19f019"/>
<rect x="145.12" y="12.71" width="2" height="2" fill="#19f519"/>
<rect x="134.96" y="15.33" width="1.6" height="1.6" fill="#19e919"/>
<rect x="138.31" y="57.42" width="1.6" height="1.6" fill="#19e019"/>
<rect x="186.78" y="36.04" width="1.2" height="1.2" fill="#19f919"/>
<rect x="142.09" y="66.73" width="1.6" height="1.6" fill="#19e219"/>
<rect x="177.37" y="46.76" width="1.4" height="1.4" fill="#19f619"/>
<rect x="151.69" y="20.76" width="1" height="1" fill="#19e819"/>
<rect x="160.22" y="20.24" width="1.6" height="1.6" fill="#19e819"/>
<rect x="144.62" y="16.21" width="1.2" height="1.2" fill="#19ee19"/>
<rect x="159.29" y="46.94" width="1.2" height="1.2" fill="#19db19"/>
<rect x="124.46" y="59.91" width="1" height="1" fill="#19d719"/>
<rect x="135.68" y="42.09" width="1.2" height="1.2" fill="#19f119"/>
<rect x="154.99" y="37.66" width="2" height="2" fill="#19f019"/>
<rect x="159.67" y="24.82" width="2" height="2" fill="#19fe19"/>
<rect x="140.16" y="23.13" width="1.4" height="1.4" fill="#19e619"/>
<rect x="187.63" y="39.5" width="1" height="1" fill="#19e219"/>
<rect x="178.87" y="71.74" width="2" height="2" fill="#19de19"/>
<rect x="167.19" y="28.43" width="1" height="1" fill="#19fa19"/>
<rect x="143.84" y="44.07" width="1" height="1" fill="#19e419"/>
<rect x="128.08" y="34.44" width="2" height="2" fill="#19e719"/>
<rect x="175.85" y="61.94" width="1.6" height="1.6" fill="#19f019"/>
<rect x="143.71" y="45.17" width="1" height="1" fill="#19f519"/>
<rect x="149.74" y="56.35" width="1.4" height="1.4" fill="#19fe19"/>
<rect x="125.5" y="48.09" width="1.2" height="1.2" fill="#19eb19"/>
<rect x="148.86" y="34.75" width="1.4" height="1.4" fill="#19ee19"/>
<rect x="164.12" y="39.92" width="1.4" height="1.4" fill="#19e819"/>
<rect x="128.27" y="53.01" width="2" height="2" fill="#19dd19"/>
<rect x="140.94" y="24.74" width="1.2" height="1.2" fill="#19e419"/>
<rect x="127" y="19.41" width="1.4" height="1.4" fill="#19e419"/>
<rect x="135.35" y="17.8" width="1.2" height="1.2" fill="#19ee19"/>
<rect x="146.42" y="38.7" width="1" height="1" fill="#19f019"/>
<rect x="156.16" y="36.94" width="1.4" height="1.4" fill="#19f919"/>
<rect x="177.75" y="59.96" width="1" height="1" fill="#19e219"/>
<rect x="144.54" y="59.49" width="1" height="1" fill="#19fc19"/>
<rect x="187.2" y="38.66" width="1.2" height="1.2" fill="#19f619"/>
<rect x="150.13" y="56.4" width="1.2" height="1.2" fill="#19e819"/>
<rect x="128.48" y="36.08" width="1.4" height="1.4" fill="#19e219"/>
<rect x="173.77" y="44.76" width="1" height="1" fill="#19e019"/>
<rect x="170.73" y="53.6" width="1" height="1" fill="#19e419"/>
<rect x="163.45" y="33.16" width="1.6" height="1.6" fill="#19ff19"/>
<rect x="151.14" y="73.33" width="1" height="1" fill="#19de19"/>
<rect x="177.6" y="55.36" width="1.6" height="1.6" fill="#19f219"/>
<rect x="166.59" y="37.97" width="1.6" height="1.6" fill="#19f719"/>
<rect x="138.72" y="49.62" width="2" height="2" fill="#19d919"/>
<rect x="156.97" y="13.07" width="1.6" height="1.6" fill="#19f319"/>
<rect x="142.19" y="13.97" width="1" height="1" fill="#19eb19"/>
<rect x="133.72" y="41.14" width="1.4" height="1.4" fill="#19fe19"/>
<rect x="144.03" y="58.37" width="2" height="2" fill="#19f019"/>
<rect x="127.36" y="73.25" width="1.6" height="1.6" fill="#19de19"/>
<rect x="138.98" y="65.03" width="1.2" height="1.2" fill="#19de19"/>
<rect x="175.05" y="43.9" width="1.4" height="1.4" fill="#19db19"/>
<rect x="135.83" y="13.46" width="1.4" height="1.4" fill="#19e719"/>
<rect x="157.13" y="33.43" width="1.2" height="1.2" fill="#19f919"/>
</g>
<rect x="180.8" y="72.6" width="5" height="1.4" fill="#fff" stroke="none" stroke-width="1"/>
<g clip-path="url(#clipI2)">
<rect x="124" y="77.1" width="64" height="64.1" fill="#1f0621" stroke="none" stroke-width="1"/>
<line x1="157.7" y1="111" x2="187.58" y2="113.7" stroke="#a018a8" stroke-width="0.7" stroke-opacity="0.18"/>
<line x1="157.7" y1="111" x2="130.81" y2="124.31" stroke="#a018a8" stroke-width="0.7" stroke-opacity="0.18"/>
<line x1="157.7" y1="111" x2="127.77" y2="113.06" stroke="#a018a8" stroke-width="0.7" stroke-opacity="0.18"/>
<line x1="157.7" y1="111" x2="186.84" y2="103.86" stroke="#a018a8" stroke-width="0.7" stroke-opacity="0.18"/>
<line x1="157.7" y1="111" x2="159.86" y2="140.92" stroke="#a018a8" stroke-width="0.7" stroke-opacity="0.18"/>
<line x1="157.7" y1="111" x2="181.14" y2="129.72" stroke="#a018a8" stroke-width="0.7" stroke-opacity="0.18"/>
<line x1="157.7" y1="111" x2="129.77" y2="121.96" stroke="#a018a8" stroke-width="0.7" stroke-opacity="0.18"/>
<line x1="157.7" y1="111" x2="159.03" y2="81.03" stroke="#a018a8" stroke-width="0.7" stroke-opacity="0.18"/>
<line x1="157.7" y1="111" x2="179.15" y2="90.03" stroke="#a018a8" stroke-width="0.7" stroke-opacity="0.18"/>
<line x1="157.7" y1="111" x2="184.67" y2="124.14" stroke="#a018a8" stroke-width="0.7" stroke-opacity="0.18"/>
<line x1="157.7" y1="111" x2="127.71" y2="111.63" stroke="#a018a8" stroke-width="0.7" stroke-opacity="0.18"/>
<line x1="157.7" y1="111" x2="185.87" y2="121.33" stroke="#a018a8" stroke-width="0.7" stroke-opacity="0.18"/>
<line x1="157.7" y1="111" x2="178.23" y2="89.12" stroke="#a018a8" stroke-width="0.7" stroke-opacity="0.18"/>
<line x1="157.7" y1="111" x2="187.26" y2="105.88" stroke="#a018a8" stroke-width="0.7" stroke-opacity="0.18"/>
<line x1="157.7" y1="111" x2="185.18" y2="123.04" stroke="#a018a8" stroke-width="0.7" stroke-opacity="0.18"/>
<line x1="157.7" y1="111" x2="185.71" y2="100.25" stroke="#a018a8" stroke-width="0.7" stroke-opacity="0.18"/>
<line x1="157.7" y1="111" x2="169.03" y2="83.22" stroke="#a018a8" stroke-width="0.7" stroke-opacity="0.18"/>
<line x1="157.7" y1="111" x2="170.72" y2="138.03" stroke="#a018a8" stroke-width="0.7" stroke-opacity="0.18"/>
<line x1="157.7" y1="111" x2="142.63" y2="136.94" stroke="#a018a8" stroke-width="0.7" stroke-opacity="0.18"/>
<line x1="157.7" y1="111" x2="184.75" y2="98.03" stroke="#a018a8" stroke-width="0.7" stroke-opacity="0.18"/>
<line x1="157.7" y1="111" x2="186.52" y2="102.68" stroke="#a018a8" stroke-width="0.7" stroke-opacity="0.18"/>
<line x1="157.7" y1="111" x2="163.4" y2="140.45" stroke="#a018a8" stroke-width="0.7" stroke-opacity="0.18"/>
<line x1="157.7" y1="111" x2="150.51" y2="140.13" stroke="#a018a8" stroke-width="0.7" stroke-opacity="0.18"/>
<line x1="157.7" y1="111" x2="131.78" y2="126.1" stroke="#a018a8" stroke-width="0.7" stroke-opacity="0.18"/>
<line x1="157.7" y1="111" x2="135.12" y2="91.25" stroke="#a018a8" stroke-width="0.7" stroke-opacity="0.18"/>
<line x1="157.7" y1="111" x2="187.13" y2="116.84" stroke="#a018a8" stroke-width="0.7" stroke-opacity="0.18"/>
<line x1="157.7" y1="111" x2="145.25" y2="83.71" stroke="#a018a8" stroke-width="0.7" stroke-opacity="0.18"/>
<line x1="157.7" y1="111" x2="128.39" y2="117.42" stroke="#a018a8" stroke-width="0.7" stroke-opacity="0.18"/>
<line x1="157.7" y1="111" x2="127.77" y2="113.04" stroke="#a018a8" stroke-width="0.7" stroke-opacity="0.18"/>
<line x1="157.7" y1="111" x2="183.2" y2="126.8" stroke="#a018a8" stroke-width="0.7" stroke-opacity="0.18"/>
<circle cx="157.7" cy="111" r="22" fill="url(#glow2)"/>
<rect x="165.53" y="111.06" width="1.1" height="1.1" fill="#1ec31e"/>
<rect x="159.84" y="140.64" width="1.3" height="1.3" fill="#1eab1e"/>
<rect x="176.26" y="121.79" width="1.1" height="1.1" fill="#1ec41e"/>
<rect x="168.47" y="88.56" width="0.9" height="0.9" fill="#1ebf1e"/>
<rect x="168.4" y="106.85" width="0.9" height="0.9" fill="#1ecd1e"/>
<rect x="131.43" y="137.23" width="1.5" height="1.5" fill="#1ed71e"/>
<rect x="143.66" y="77.51" width="0.7" height="0.7" fill="#1ec41e"/>
<rect x="171.12" y="100.06" width="1.1" height="1.1" fill="#1ede1e"/>
<rect x="136.81" y="81.57" width="1.1" height="1.1" fill="#1ee01e"/>
<rect x="147.98" y="116.21" width="1.1" height="1.1" fill="#1ee41e"/>
<rect x="132.56" y="84.91" width="0.7" height="0.7" fill="#1ed61e"/>
<rect x="156.89" y="103.74" width="1.3" height="1.3" fill="#1ef41e"/>
<rect x="131.52" y="84.88" width="1.1" height="1.1" fill="#1eb41e"/>
<rect x="167.31" y="106.12" width="1.3" height="1.3" fill="#1edb1e"/>
<rect x="136.72" y="103.5" width="0.9" height="0.9" fill="#1ee31e"/>
<rect x="164.94" y="100.49" width="1.1" height="1.1" fill="#1ece1e"/>
<rect x="161.39" y="119.14" width="1.1" height="1.1" fill="#1ecf1e"/>
<rect x="166.35" y="77.81" width="1.5" height="1.5" fill="#1ec91e"/>
<rect x="124.97" y="100.99" width="1.5" height="1.5" fill="#1eca1e"/>
<rect x="148.84" y="94.81" width="0.7" height="0.7" fill="#1ef51e"/>
<rect x="130.68" y="119.08" width="1.3" height="1.3" fill="#1ec41e"/>
<rect x="129.66" y="100.27" width="1.1" height="1.1" fill="#1ead1e"/>
<rect x="170.28" y="119.83" width="1.1" height="1.1" fill="#1eac1e"/>
<rect x="166.75" y="86.97" width="0.7" height="0.7" fill="#1ed81e"/>
<rect x="134.91" y="109.37" width="1.3" height="1.3" fill="#1eb11e"/>
<rect x="186.11" y="139.49" width="1.3" height="1.3" fill="#1ee11e"/>
<rect x="177.03" y="118.6" width="0.7" height="0.7" fill="#1eb11e"/>
<rect x="128.26" y="106.58" width="1.3" height="1.3" fill="#1ec51e"/>
<rect x="157.14" y="114.39" width="1.3" height="1.3" fill="#1ed91e"/>
<rect x="177.14" y="110" width="0.7" height="0.7" fill="#1eb41e"/>
<rect x="124.23" y="138.33" width="1.5" height="1.5" fill="#1eca1e"/>
<rect x="166.46" y="139.07" width="1.3" height="1.3" fill="#1eb91e"/>
<rect x="151.72" y="86.97" width="1.1" height="1.1" fill="#1ed81e"/>
<rect x="184.45" y="134.33" width="0.7" height="0.7" fill="#1eb71e"/>
<rect x="146.47" y="111.3" width="1.5" height="1.5" fill="#1eb81e"/>
<rect x="173.68" y="83.03" width="1.5" height="1.5" fill="#1ef21e"/>
<rect x="131.97" y="113.34" width="0.9" height="0.9" fill="#1eb51e"/>
<rect x="156.62" y="96.74" width="1.1" height="1.1" fill="#1ec91e"/>
<rect x="139.79" y="103.49" width="0.7" height="0.7" fill="#1ec51e"/>
<rect x="161.69" y="87.89" width="0.7" height="0.7" fill="#1ee41e"/>
<rect x="132.81" y="134.51" width="1.5" height="1.5" fill="#1ebd1e"/>
<rect x="133.21" y="113.12" width="0.9" height="0.9" fill="#1ede1e"/>
<rect x="163.55" y="138.66" width="0.7" height="0.7" fill="#1ede1e"/>
<rect x="176.63" y="91.65" width="0.7" height="0.7" fill="#1eda1e"/>
<rect x="134.02" y="110.99" width="0.7" height="0.7" fill="#1edd1e"/>
<rect x="131.06" y="96.25" width="1.5" height="1.5" fill="#1eaf1e"/>
<rect x="148.94" y="96.17" width="0.9" height="0.9" fill="#1ecb1e"/>
<rect x="158.35" y="119.06" width="1.3" height="1.3" fill="#1ed41e"/>
<rect x="181.32" y="90.03" width="1.5" height="1.5" fill="#1ebb1e"/>
<rect x="160.35" y="109.06" width="0.7" height="0.7" fill="#1edc1e"/>
<rect x="164.04" y="94.11" width="1.5" height="1.5" fill="#1ecb1e"/>
<rect x="138.08" y="82.41" width="1.3" height="1.3" fill="#1edb1e"/>
<rect x="146.94" y="104.55" width="1.3" height="1.3" fill="#1eb81e"/>
<rect x="127.17" y="130.48" width="0.7" height="0.7" fill="#1ebe1e"/>
<rect x="157.78" y="112.04" width="1.3" height="1.3" fill="#1ec61e"/>
<rect x="167.2" y="122.64" width="0.7" height="0.7" fill="#1ed21e"/>
<rect x="147.01" y="137.86" width="1.5" height="1.5" fill="#1eed1e"/>
<rect x="155.19" y="77.57" width="1.3" height="1.3" fill="#1ef51e"/>
<rect x="185.84" y="77.45" width="1.5" height="1.5" fill="#1ed71e"/>
<rect x="185.49" y="100.4" width="1.5" height="1.5" fill="#1ed91e"/>
<rect x="177.77" y="90.43" width="1.5" height="1.5" fill="#1eb11e"/>
<rect x="144.17" y="108.85" width="1.5" height="1.5" fill="#1ed61e"/>
<rect x="127.39" y="82.94" width="1.1" height="1.1" fill="#1ef51e"/>
<rect x="141.29" y="127.92" width="1.3" height="1.3" fill="#1ed91e"/>
<rect x="149.75" y="95.29" width="0.7" height="0.7" fill="#1eb41e"/>
<rect x="149.39" y="91.42" width="1.1" height="1.1" fill="#1ed41e"/>
<rect x="126.08" y="86.56" width="0.9" height="0.9" fill="#1ece1e"/>
<rect x="165.11" y="80.63" width="1.3" height="1.3" fill="#1eb01e"/>
<rect x="149.29" y="82.36" width="0.9" height="0.9" fill="#1ed51e"/>
<rect x="164.88" y="78.43" width="0.9" height="0.9" fill="#1ef41e"/>
<rect x="159" y="129.72" width="1.3" height="1.3" fill="#1edf1e"/>
<rect x="145.47" y="117.03" width="0.7" height="0.7" fill="#1ec01e"/>
<rect x="174.01" y="105.19" width="0.9" height="0.9" fill="#1eda1e"/>
<rect x="172.44" y="120.34" width="0.7" height="0.7" fill="#1ee21e"/>
<rect x="144.47" y="124.02" width="0.7" height="0.7" fill="#1eb81e"/>
<rect x="185.22" y="99.78" width="1.5" height="1.5" fill="#1eb81e"/>
<rect x="168.99" y="102.42" width="1.5" height="1.5" fill="#1eb81e"/>
<rect x="183.03" y="90.51" width="1.3" height="1.3" fill="#1ed31e"/>
<rect x="158.33" y="130.71" width="0.7" height="0.7" fill="#1ebd1e"/>
<rect x="179.92" y="107.23" width="0.7" height="0.7" fill="#1ee11e"/>
<rect x="183.55" y="89.82" width="1.3" height="1.3" fill="#1ee91e"/>
<rect x="151.95" y="128.12" width="1.5" height="1.5" fill="#1ee71e"/>
<rect x="130.73" y="124.51" width="0.9" height="0.9" fill="#1ef41e"/>
<rect x="144.74" y="77.94" width="0.9" height="0.9" fill="#1ed61e"/>
<rect x="148.13" y="128.39" width="1.3" height="1.3" fill="#1ee31e"/>
<rect x="160.75" y="130.91" width="1.1" height="1.1" fill="#1ef41e"/>
<rect x="133.46" y="122.05" width="1.3" height="1.3" fill="#1ed31e"/>
<rect x="129.79" y="108.33" width="1.1" height="1.1" fill="#1ed61e"/>
<rect x="170.75" y="113.8" width="1.1" height="1.1" fill="#1eb21e"/>
<rect x="175.37" y="93.31" width="0.9" height="0.9" fill="#1ec51e"/>
<rect x="151.69" y="116.53" width="1.5" height="1.5" fill="#1ec11e"/>
<rect x="186.45" y="135.22" width="1.3" height="1.3" fill="#1edb1e"/>
<rect x="155.16" y="91.8" width="1.5" height="1.5" fill="#1eb71e"/>
<rect x="167.48" y="109.04" width="0.9" height="0.9" fill="#1eae1e"/>
<rect x="187.58" y="99.52" width="0.9" height="0.9" fill="#1ef01e"/>
<rect x="155.37" y="108.33" width="1.3" height="1.3" fill="#1ed71e"/>
<rect x="175.57" y="83.25" width="0.9" height="0.9" fill="#1ec51e"/>
<rect x="187.11" y="132.11" width="1.5" height="1.5" fill="#1ed61e"/>
<rect x="131.73" y="125.95" width="1.5" height="1.5" fill="#1ebf1e"/>
<rect x="181.56" y="136.13" width="1.1" height="1.1" fill="#1ed81e"/>
<rect x="130.97" y="127.4" width="1.1" height="1.1" fill="#1ecb1e"/>
<rect x="131.07" y="99.91" width="0.9" height="0.9" fill="#1eee1e"/>
<rect x="180.92" y="119.74" width="1.1" height="1.1" fill="#1eca1e"/>
<rect x="159.89" y="93.81" width="0.7" height="0.7" fill="#1ecc1e"/>
<rect x="125.86" y="127.79" width="1.5" height="1.5" fill="#1ebd1e"/>
<rect x="162.49" y="107.08" width="0.9" height="0.9" fill="#ffd0ff"/>
<rect x="162.32" y="116.11" width="0.9" height="0.9" fill="#ffd0ff"/>
<rect x="159.31" y="112.07" width="0.9" height="0.9" fill="#ffd0ff"/>
<rect x="160.81" y="111.95" width="0.9" height="0.9" fill="#ffd0ff"/>
<rect x="159.92" y="116.95" width="0.9" height="0.9" fill="#ffd0ff"/>
<rect x="161.3" y="108.38" width="0.9" height="0.9" fill="#ffd0ff"/>
<rect x="152.65" y="117.18" width="0.9" height="0.9" fill="#ffd0ff"/>
<rect x="156.35" y="115.23" width="0.9" height="0.9" fill="#ffd0ff"/>
<rect x="154.8" y="110.89" width="0.9" height="0.9" fill="#ffd0ff"/>
<rect x="156.45" y="114.48" width="0.9" height="0.9" fill="#ffd0ff"/>
</g>
<text x="125.6" y="139.6" font-size="7.3" text-anchor="start" fill="#ece000" font-weight="bold" stroke="#ece000" stroke-width="0.18">0min</text>
<rect x="180.8" y="138.6" width="5" height="1.3" fill="#fff" stroke="none" stroke-width="1"/>
<g clip-path="url(#clipI3)">
<rect x="124" y="143" width="64" height="63.6" fill="#060006" stroke="none" stroke-width="1"/>
<circle cx="155.2" cy="178.8" r="34" fill="url(#glow3b)"/>
<line x1="155.2" y1="178.8" x2="186.74" y2="167.14" stroke="#a020a8" stroke-width="1.79" stroke-opacity="0.09"/>
<line x1="155.2" y1="178.8" x2="160.1" y2="222.37" stroke="#a020a8" stroke-width="1.15" stroke-opacity="0.14"/>
<line x1="155.2" y1="178.8" x2="142.17" y2="159.06" stroke="#a020a8" stroke-width="2.26" stroke-opacity="0.07"/>
<line x1="155.2" y1="178.8" x2="132.51" y2="168.91" stroke="#a020a8" stroke-width="2.38" stroke-opacity="0.09"/>
<line x1="155.2" y1="178.8" x2="171.45" y2="161.95" stroke="#a020a8" stroke-width="1.93" stroke-opacity="0.07"/>
<line x1="155.2" y1="178.8" x2="189.72" y2="185.31" stroke="#a020a8" stroke-width="2.38" stroke-opacity="0.12"/>
<line x1="155.2" y1="178.8" x2="179.81" y2="147.2" stroke="#a020a8" stroke-width="1.73" stroke-opacity="0.07"/>
<line x1="155.2" y1="178.8" x2="129.33" y2="174.37" stroke="#a020a8" stroke-width="1.74" stroke-opacity="0.09"/>
<line x1="155.2" y1="178.8" x2="128.66" y2="178.97" stroke="#a020a8" stroke-width="1.99" stroke-opacity="0.1"/>
<line x1="155.2" y1="178.8" x2="131.48" y2="180.91" stroke="#a020a8" stroke-width="1.68" stroke-opacity="0.11"/>
<line x1="155.2" y1="178.8" x2="189.6" y2="172.81" stroke="#a020a8" stroke-width="1.19" stroke-opacity="0.09"/>
<line x1="155.2" y1="178.8" x2="135.65" y2="211.56" stroke="#a020a8" stroke-width="2.31" stroke-opacity="0.15"/>
<line x1="155.2" y1="178.8" x2="196.36" y2="165.41" stroke="#a020a8" stroke-width="2.2" stroke-opacity="0.14"/>
<line x1="155.2" y1="178.8" x2="188.2" y2="183.01" stroke="#a020a8" stroke-width="1.83" stroke-opacity="0.12"/>
<line x1="155.2" y1="178.8" x2="127.78" y2="155.31" stroke="#a020a8" stroke-width="2.31" stroke-opacity="0.07"/>
<line x1="155.2" y1="178.8" x2="111.45" y2="173.48" stroke="#a020a8" stroke-width="1.04" stroke-opacity="0.07"/>
<line x1="155.2" y1="178.8" x2="185.14" y2="146.54" stroke="#a020a8" stroke-width="1.03" stroke-opacity="0.06"/>
<line x1="155.2" y1="178.8" x2="173.37" y2="145.62" stroke="#a020a8" stroke-width="1.73" stroke-opacity="0.11"/>
<line x1="155.2" y1="178.8" x2="157.08" y2="138.26" stroke="#a020a8" stroke-width="1" stroke-opacity="0.07"/>
<line x1="155.2" y1="178.8" x2="167.37" y2="136.07" stroke="#a020a8" stroke-width="2.17" stroke-opacity="0.1"/>
<line x1="155.2" y1="178.8" x2="139.85" y2="204.55" stroke="#a020a8" stroke-width="1.02" stroke-opacity="0.13"/>
<line x1="155.2" y1="178.8" x2="152.47" y2="214.16" stroke="#a020a8" stroke-width="1.74" stroke-opacity="0.09"/>
<line x1="155.2" y1="178.8" x2="140.44" y2="149.88" stroke="#a020a8" stroke-width="1.33" stroke-opacity="0.14"/>
<line x1="155.2" y1="178.8" x2="166.65" y2="201.53" stroke="#a020a8" stroke-width="1.35" stroke-opacity="0.1"/>
<line x1="155.2" y1="178.8" x2="161.43" y2="149.8" stroke="#a020a8" stroke-width="1.33" stroke-opacity="0.12"/>
<line x1="155.2" y1="178.8" x2="153.01" y2="212.75" stroke="#a020a8" stroke-width="1.36" stroke-opacity="0.14"/>
<line x1="155.2" y1="178.8" x2="166.13" y2="203.86" stroke="#a020a8" stroke-width="1.42" stroke-opacity="0.09"/>
<line x1="155.2" y1="178.8" x2="149.67" y2="141.71" stroke="#a020a8" stroke-width="2.11" stroke-opacity="0.11"/>
<line x1="155.2" y1="178.8" x2="190.04" y2="197.55" stroke="#a020a8" stroke-width="1.34" stroke-opacity="0.08"/>
<line x1="155.2" y1="178.8" x2="116.76" y2="201.74" stroke="#a020a8" stroke-width="1.52" stroke-opacity="0.09"/>
<line x1="155.2" y1="178.8" x2="193.16" y2="155.04" stroke="#a020a8" stroke-width="1.54" stroke-opacity="0.07"/>
<line x1="155.2" y1="178.8" x2="165.05" y2="140.04" stroke="#a020a8" stroke-width="1.47" stroke-opacity="0.13"/>
<line x1="155.2" y1="178.8" x2="134.41" y2="198.45" stroke="#a020a8" stroke-width="1.83" stroke-opacity="0.13"/>
<line x1="155.2" y1="178.8" x2="114.85" y2="184.97" stroke="#a020a8" stroke-width="1.02" stroke-opacity="0.1"/>
<line x1="155.2" y1="178.8" x2="138.03" y2="194.84" stroke="#a020a8" stroke-width="2.28" stroke-opacity="0.07"/>
<line x1="155.2" y1="178.8" x2="166.82" y2="219.36" stroke="#a020a8" stroke-width="2.34" stroke-opacity="0.14"/>
<line x1="155.2" y1="178.8" x2="131.5" y2="215.17" stroke="#a020a8" stroke-width="1.2" stroke-opacity="0.12"/>
<line x1="155.2" y1="178.8" x2="180.1" y2="169.94" stroke="#a020a8" stroke-width="1.19" stroke-opacity="0.12"/>
<line x1="155.2" y1="178.8" x2="183.84" y2="152.75" stroke="#a020a8" stroke-width="2.33" stroke-opacity="0.1"/>
<line x1="155.2" y1="178.8" x2="137.99" y2="196.6" stroke="#a020a8" stroke-width="1.38" stroke-opacity="0.14"/>
<line x1="155.2" y1="178.8" x2="178.84" y2="190.22" stroke="#a020a8" stroke-width="1.49" stroke-opacity="0.06"/>
<line x1="155.2" y1="178.8" x2="146.02" y2="203.34" stroke="#a020a8" stroke-width="1.17" stroke-opacity="0.11"/>
<line x1="155.2" y1="178.8" x2="121.26" y2="170.01" stroke="#a020a8" stroke-width="2.07" stroke-opacity="0.11"/>
<line x1="155.2" y1="178.8" x2="177.77" y2="171.01" stroke="#a020a8" stroke-width="1.31" stroke-opacity="0.07"/>
<line x1="155.2" y1="178.8" x2="140.8" y2="215.58" stroke="#a020a8" stroke-width="2.29" stroke-opacity="0.11"/>
<line x1="155.2" y1="178.8" x2="171.01" y2="203.82" stroke="#a020a8" stroke-width="1.8" stroke-opacity="0.09"/>
<line x1="155.2" y1="178.8" x2="166.99" y2="136.03" stroke="#a020a8" stroke-width="1.64" stroke-opacity="0.11"/>
<line x1="155.2" y1="178.8" x2="173.75" y2="151.87" stroke="#a020a8" stroke-width="1.27" stroke-opacity="0.14"/>
<line x1="155.2" y1="178.8" x2="177.54" y2="175.68" stroke="#a020a8" stroke-width="2.07" stroke-opacity="0.1"/>
<line x1="155.2" y1="178.8" x2="179.59" y2="187.05" stroke="#a020a8" stroke-width="1.24" stroke-opacity="0.13"/>
<line x1="155.2" y1="178.8" x2="160.57" y2="200.6" stroke="#a020a8" stroke-width="1.31" stroke-opacity="0.13"/>
<line x1="155.2" y1="178.8" x2="118.19" y2="178.99" stroke="#a020a8" stroke-width="1.65" stroke-opacity="0.08"/>
<line x1="155.2" y1="178.8" x2="184.07" y2="181.56" stroke="#a020a8" stroke-width="1.06" stroke-opacity="0.08"/>
<line x1="155.2" y1="178.8" x2="132.81" y2="158.1" stroke="#a020a8" stroke-width="1.66" stroke-opacity="0.12"/>
<line x1="155.2" y1="178.8" x2="142.84" y2="206.36" stroke="#a020a8" stroke-width="2.24" stroke-opacity="0.11"/>
<line x1="155.2" y1="178.8" x2="125.36" y2="195.96" stroke="#a020a8" stroke-width="1.64" stroke-opacity="0.09"/>
<line x1="155.2" y1="178.8" x2="178.64" y2="164.68" stroke="#a020a8" stroke-width="2.31" stroke-opacity="0.14"/>
<line x1="155.2" y1="178.8" x2="174.18" y2="161.42" stroke="#a020a8" stroke-width="1.71" stroke-opacity="0.15"/>
<line x1="155.2" y1="178.8" x2="148.96" y2="203.97" stroke="#a020a8" stroke-width="2.01" stroke-opacity="0.08"/>
<line x1="155.2" y1="178.8" x2="133.03" y2="165.95" stroke="#a020a8" stroke-width="2.33" stroke-opacity="0.09"/>
<circle cx="155.2" cy="178.8" r="18" fill="url(#glow3)"/>
<circle cx="155.2" cy="178.8" r="2.2" fill="#ffe8ff"/>
<rect x="145.88" y="192.12" width="0.7" height="0.7" fill="#1ed51e"/>
<rect x="154.86" y="167.46" width="1.3" height="1.3" fill="#1e961e"/>
<rect x="148.34" y="178.9" width="1.3" height="1.3" fill="#1e9d1e"/>
<rect x="164.68" y="184.81" width="1.3" height="1.3" fill="#1ed31e"/>
<rect x="161.79" y="179.94" width="1.3" height="1.3" fill="#1e9c1e"/>
<rect x="157.56" y="180.19" width="0.7" height="0.7" fill="#1eb41e"/>
<rect x="166.17" y="181.74" width="0.9" height="0.9" fill="#1ed61e"/>
<rect x="160.44" y="182.73" width="1.1" height="1.1" fill="#1edd1e"/>
<rect x="158.19" y="175.16" width="0.9" height="0.9" fill="#1ebb1e"/>
<rect x="154.47" y="180.45" width="1.1" height="1.1" fill="#1eaf1e"/>
<rect x="143.86" y="182.8" width="1.1" height="1.1" fill="#1ea61e"/>
<rect x="148.92" y="164.26" width="1.1" height="1.1" fill="#1ebc1e"/>
<rect x="156.21" y="176.45" width="1.1" height="1.1" fill="#1eb51e"/>
<rect x="162.58" y="180.9" width="0.7" height="0.7" fill="#1ed71e"/>
<rect x="150.25" y="172.49" width="1.3" height="1.3" fill="#1e9e1e"/>
<rect x="167.35" y="176.98" width="0.9" height="0.9" fill="#1ea41e"/>
<rect x="154.7" y="179.22" width="1.1" height="1.1" fill="#1ead1e"/>
<rect x="146.97" y="171.96" width="1.1" height="1.1" fill="#1ea61e"/>
<rect x="155.1" y="178.84" width="1.3" height="1.3" fill="#1ec81e"/>
<rect x="159.46" y="159.94" width="0.7" height="0.7" fill="#1ede1e"/>
<rect x="156.42" y="178.17" width="0.9" height="0.9" fill="#1ec71e"/>
<rect x="151.54" y="164.14" width="0.7" height="0.7" fill="#1e981e"/>
<rect x="166.49" y="177.32" width="0.9" height="0.9" fill="#1ea51e"/>
<rect x="151.7" y="169.19" width="1.3" height="1.3" fill="#1ebe1e"/>
<rect x="174.41" y="182.08" width="1.1" height="1.1" fill="#1ea31e"/>
<rect x="153.2" y="182.41" width="0.7" height="0.7" fill="#1e991e"/>
<rect x="149.29" y="173.3" width="1.3" height="1.3" fill="#1e9d1e"/>
<rect x="139.71" y="205.66" width="1.1" height="1.1" fill="#1eb11e"/>
<rect x="169.72" y="182.08" width="0.7" height="0.7" fill="#1ed21e"/>
<rect x="155.29" y="176.68" width="0.9" height="0.9" fill="#1eba1e"/>
<rect x="155.49" y="184.17" width="1.1" height="1.1" fill="#1ec81e"/>
<rect x="169.93" y="185.73" width="0.7" height="0.7" fill="#1ec31e"/>
<rect x="159.73" y="173.09" width="1.3" height="1.3" fill="#1eb11e"/>
<rect x="134.6" y="192.47" width="0.9" height="0.9" fill="#1ed21e"/>
<rect x="151.08" y="180.76" width="1.3" height="1.3" fill="#1ecb1e"/>
<rect x="155.41" y="176.17" width="1.1" height="1.1" fill="#1ee11e"/>
<rect x="112.59" y="171.3" width="0.9" height="0.9" fill="#1ead1e"/>
<rect x="156.36" y="167.4" width="0.7" height="0.7" fill="#1ea91e"/>
<rect x="158.41" y="165.3" width="1.1" height="1.1" fill="#1eb81e"/>
<rect x="158.53" y="147.65" width="0.7" height="0.7" fill="#1e9d1e"/>
<rect x="165.65" y="187.07" width="1.3" height="1.3" fill="#1eae1e"/>
<rect x="158.77" y="177.75" width="0.7" height="0.7" fill="#1edc1e"/>
<rect x="152.02" y="170.07" width="1.3" height="1.3" fill="#1ea61e"/>
<rect x="159.64" y="178.67" width="1.3" height="1.3" fill="#1edf1e"/>
<rect x="156.04" y="176.87" width="0.9" height="0.9" fill="#1eca1e"/>
<rect x="164.31" y="181.53" width="0.9" height="0.9" fill="#1eb51e"/>
<rect x="168.99" y="180.26" width="0.7" height="0.7" fill="#1ec81e"/>
<rect x="154.59" y="173.87" width="0.7" height="0.7" fill="#1eb01e"/>
<rect x="130.94" y="180.84" width="1.1" height="1.1" fill="#1ea51e"/>
<rect x="151.46" y="185.06" width="0.7" height="0.7" fill="#1eb21e"/>
<rect x="145.81" y="173.87" width="1.3" height="1.3" fill="#1eae1e"/>
<rect x="154.37" y="196.64" width="0.7" height="0.7" fill="#1eb81e"/>
<rect x="144.35" y="183.34" width="1.3" height="1.3" fill="#1ecd1e"/>
<rect x="153.62" y="182.42" width="0.7" height="0.7" fill="#1eca1e"/>
<rect x="165.9" y="185.5" width="1.3" height="1.3" fill="#1edc1e"/>
<rect x="142.71" y="182.46" width="1.3" height="1.3" fill="#1ed61e"/>
<rect x="136.82" y="191.9" width="0.7" height="0.7" fill="#1eb31e"/>
<rect x="154.23" y="182.03" width="1.3" height="1.3" fill="#1ecd1e"/>
<rect x="153.15" y="177.3" width="0.7" height="0.7" fill="#1edb1e"/>
<rect x="146.1" y="173.28" width="1.1" height="1.1" fill="#1ede1e"/>
<rect x="154.71" y="179.09" width="1.3" height="1.3" fill="#1eb71e"/>
<rect x="157.16" y="180.05" width="1.3" height="1.3" fill="#1eb21e"/>
<rect x="162.12" y="176.83" width="1.3" height="1.3" fill="#1e9d1e"/>
<rect x="146.92" y="178.9" width="0.7" height="0.7" fill="#1eb11e"/>
<rect x="149.5" y="175.17" width="1.1" height="1.1" fill="#1ec41e"/>
<rect x="161.05" y="158.85" width="1.3" height="1.3" fill="#1edb1e"/>
<rect x="134.06" y="144.59" width="1.1" height="1.1" fill="#1ed71e"/>
<rect x="184.82" y="160.29" width="1.1" height="1.1" fill="#1ed91e"/>
<rect x="185.01" y="163.6" width="1.3" height="1.3" fill="#1ed41e"/>
<rect x="142.51" y="193.78" width="1.3" height="1.3" fill="#1ea81e"/>
<rect x="130.28" y="146.04" width="1.3" height="1.3" fill="#1ed91e"/>
<rect x="159.66" y="170.7" width="0.7" height="0.7" fill="#1ebb1e"/>
<rect x="146.57" y="190.81" width="0.7" height="0.7" fill="#1e971e"/>
<rect x="143.22" y="186.59" width="1.1" height="1.1" fill="#1eb11e"/>
<rect x="148.33" y="160.24" width="1.1" height="1.1" fill="#1ee01e"/>
<rect x="158.39" y="144.52" width="1.1" height="1.1" fill="#1ec81e"/>
<rect x="166.06" y="152.36" width="1.1" height="1.1" fill="#1eb51e"/>
<rect x="137.22" y="144.6" width="0.7" height="0.7" fill="#1e991e"/>
<rect x="171.3" y="159.66" width="1.3" height="1.3" fill="#1e9d1e"/>
<rect x="168.5" y="144.77" width="1.1" height="1.1" fill="#1ec01e"/>
<rect x="137.52" y="187.32" width="1.1" height="1.1" fill="#1ec11e"/>
<rect x="175.94" y="199.98" width="1.3" height="1.3" fill="#1ebe1e"/>
<rect x="125.77" y="200.8" width="1.1" height="1.1" fill="#1ed61e"/>
<rect x="187.17" y="157.07" width="0.9" height="0.9" fill="#1ebe1e"/>
<rect x="133.61" y="203.75" width="1.1" height="1.1" fill="#1ece1e"/>
<rect x="180.75" y="154.06" width="0.9" height="0.9" fill="#1ee11e"/>
<rect x="167.33" y="153.8" width="1.1" height="1.1" fill="#1ec21e"/>
<rect x="137.83" y="198.61" width="0.9" height="0.9" fill="#1ed31e"/>
<rect x="147.31" y="157.41" width="0.7" height="0.7" fill="#1e9e1e"/>
<rect x="173.07" y="185.86" width="0.7" height="0.7" fill="#1ea21e"/>
<rect x="144.74" y="180.39" width="1.3" height="1.3" fill="#1eda1e"/>
<rect x="179.19" y="146.95" width="0.7" height="0.7" fill="#1ecb1e"/>
<rect x="125.34" y="186.91" width="0.9" height="0.9" fill="#1edc1e"/>
<rect x="141.45" y="185.02" width="1.1" height="1.1" fill="#1e9c1e"/>
<rect x="153.92" y="161.21" width="0.7" height="0.7" fill="#1ec31e"/>
<rect x="139.98" y="143.22" width="1.1" height="1.1" fill="#1ebc1e"/>
<rect x="140.7" y="144.02" width="1.1" height="1.1" fill="#1ecb1e"/>
<rect x="161.89" y="159.93" width="0.7" height="0.7" fill="#1eaa1e"/>
<rect x="178.15" y="172.55" width="0.9" height="0.9" fill="#1ebd1e"/>
<rect x="158.88" y="198.46" width="1.3" height="1.3" fill="#1ed61e"/>
<rect x="139.63" y="194.46" width="1.1" height="1.1" fill="#1ed61e"/>
<rect x="141" y="170.97" width="0.9" height="0.9" fill="#1eba1e"/>
<rect x="125.42" y="161.97" width="0.7" height="0.7" fill="#1e9b1e"/>
<rect x="163.7" y="160.99" width="0.9" height="0.9" fill="#1ec51e"/>
<rect x="179.59" y="195.68" width="1.3" height="1.3" fill="#1ec51e"/>
<rect x="171.65" y="171.64" width="1.3" height="1.3" fill="#1ed61e"/>
<rect x="159.38" y="198.47" width="0.9" height="0.9" fill="#1e9f1e"/>
<rect x="131.01" y="176.66" width="1.1" height="1.1" fill="#1edb1e"/>
<rect x="151.3" y="178.04" width="0.7" height="0.7" fill="#1ebb1e"/>
<rect x="157.08" y="205.39" width="0.7" height="0.7" fill="#1eda1e"/>
</g>
<text x="125.6" y="205.2" font-size="7.3" text-anchor="start" fill="#ece000" font-weight="bold" stroke="#ece000" stroke-width="0.18">30min</text>
<rect x="180.8" y="204" width="5" height="1.3" fill="#fff" stroke="none" stroke-width="1"/>
<text transform="translate(186.8 212.7) scale(0.93 1)" x="0" y="0" font-size="6.3" text-anchor="end" fill="#111" stroke="#111" stroke-width="0.1935483870967742">Scale bars: 20 µm</text>
<text x="196.5" y="13.6" font-size="18.2" text-anchor="start" fill="#000" font-weight="bold" stroke="#000" stroke-width="0.18">B</text>
<text x="273" y="30.8" font-size="11.7" text-anchor="middle" fill="#111" font-weight="bold" stroke="#111" stroke-width="0.18">Untreated</text>
<text x="394.8" y="30.8" font-size="11.7" text-anchor="middle" fill="#111" font-weight="bold" stroke="#111" stroke-width="0.18">+ CC1</text>
<path d="M259.5 49 L259.83 50.8 L259.66 52.71 L260.55 54.39 L261.27 56.11 L260.45 58.15 L260.98 59.91 L261.63 61.65 L262.27 63.38 L263.4 65.02 L263.72 66.82 L264.68 68.49 L264.03 70.49 L264.23 72.32 L264.12 74.21 L265.07 75.89 L265.31 77.71 L266.16 79.4 L265.94 81.32 L266.21 83.13 L266.75 84.89 L267.59 86.58 L267.96 88.37 L269.12 90 L268.5 92" fill="none" stroke="#6699ff" stroke-width="1.3" fill="none" stroke-linejoin="round"/>
<circle cx="259.5" cy="49" r="1.4" fill="#fff" fill-opacity="0.6" stroke="#6699ff" stroke-opacity="0.45" stroke-width="0.5"/>
<path d="M270.4 47.7 L270.92 49.58 L270.01 51.48 L269.2 53.38 L272 55.23 L273.24 57.1 L271.89 59.01 L270.02 60.92 L272.7 62.77 L273.74 64.65 L272.08 66.56 L270.84 68.46 L271.3 70.34 L271.63 72.23 L273.15 74.09 L273.11 75.98 L274.02 77.86 L269.73 79.8 L271.66 81.66 L270.63 83.57 L270.94 85.45 L271.6 87.33 L271.61 89.22 L272.31 91.09 L271 93" fill="none" stroke="#f20dff" stroke-width="1.3" fill="none" stroke-linejoin="round"/>
<circle cx="270.4" cy="47.7" r="1.4" fill="#fff" fill-opacity="0.6" stroke="#f20dff" stroke-opacity="0.45" stroke-width="0.5"/>
<path d="M277.2 49 L277.8 50.89 L277.62 52.72 L277.7 54.57 L278.2 56.44 L277.37 58.23 L279.39 60.22 L278.2 61.97 L278.14 63.81 L279.79 65.78 L276.86 67.41 L276.33 69.21 L276.68 71.08 L276.22 72.89 L276.14 74.73 L275.49 76.52 L274.43 78.29 L276.28 80.26 L275.96 82.08 L277.91 84.07 L276.04 85.78 L274.92 87.54 L274.64 89.36 L275.54 91.27 L274 93" fill="none" stroke="#738cff" stroke-width="1.3" fill="none" stroke-linejoin="round"/>
<circle cx="277.2" cy="49" r="1.4" fill="#fff" fill-opacity="0.6" stroke="#738cff" stroke-opacity="0.45" stroke-width="0.5"/>
<path d="M296.3 49 L295.06 50.58 L294.39 52.39 L292.78 53.83 L294 56.4 L292.14 57.74 L292.33 59.89 L290.94 61.41 L289.55 62.94 L289.35 64.94 L288.48 66.67 L287.83 68.49 L287.16 70.3 L286.07 71.94 L285.51 73.8 L284.77 75.59 L283.48 77.15 L283.29 79.16 L281.38 80.47 L281.87 82.74 L281.21 84.56 L280.71 86.44 L279.27 87.94 L279.13 89.97 L279 92" fill="none" stroke="#cc33ff" stroke-width="1.3" fill="none" stroke-linejoin="round"/>
<circle cx="296.3" cy="49" r="1.4" fill="#fff" fill-opacity="0.6" stroke="#cc33ff" stroke-opacity="0.45" stroke-width="0.5"/>
<path d="M303.1 53.1 L301.35 54.31 L300.81 56.21 L299.35 57.59 L298.02 59.04 L297.44 60.92 L296.32 62.49 L295.85 64.44 L294.81 66.06 L292.87 67.16 L293.51 69.74 L292.52 71.39 L291.6 73.08 L290.33 74.57 L289.31 76.19 L288.79 78.11 L287.09 79.35 L284.03 79.79 L285.21 82.7 L283.93 84.18 L282.87 85.78 L282.39 87.72 L281.05 89.17 L279.23 90.33 L280 93" fill="none" stroke="#9966ff" stroke-width="1.3" fill="none" stroke-linejoin="round"/>
<circle cx="303.1" cy="53.1" r="1.4" fill="#fff" fill-opacity="0.6" stroke="#9966ff" stroke-opacity="0.45" stroke-width="0.5"/>
<path d="M232.2 65.4 L234.04 66.08 L235.22 67.55 L236.62 68.75 L237.94 70.04 L239.61 70.92 L241.22 71.88 L242.43 73.31 L244.17 74.1 L246.42 74.29 L247.44 75.95 L247.92 78.24 L249.03 79.78 L250.56 80.83 L251.12 83.02 L253.22 83.4 L255.04 84.11 L256.63 85.08 L258.44 85.79 L259.64 87.23 L259.77 89.94 L260.55 91.88 L262.66 92.23 L265.06 92.26 L266 94" fill="none" stroke="#a659ff" stroke-width="1.3" fill="none" stroke-linejoin="round"/>
<circle cx="232.2" cy="65.4" r="1.4" fill="#fff" fill-opacity="0.6" stroke="#a659ff" stroke-opacity="0.45" stroke-width="0.5"/>
<path d="M245.9 62.1 L246.31 63.71 L247.28 64.94 L248.76 65.81 L249.13 67.45 L250.24 68.58 L250.21 70.48 L250.6 72.11 L252.69 72.57 L254.02 73.55 L255.14 74.67 L258.41 74.32 L256.6 77.45 L257.46 78.75 L258.54 79.9 L259.58 81.08 L260.78 82.14 L261.71 83.4 L262.18 84.97 L263.82 85.73 L264.56 87.11 L266.25 87.85 L267.27 89.04 L267.95 90.46 L267 93" fill="none" stroke="#8080ff" stroke-width="1.3" fill="none" stroke-linejoin="round"/>
<circle cx="245.9" cy="62.1" r="1.4" fill="#fff" fill-opacity="0.6" stroke="#8080ff" stroke-opacity="0.45" stroke-width="0.5"/>
<path d="M314.5 64.9 L313.19 66.25 L312.08 67.82 L310.09 68.42 L309.4 70.45 L308.18 71.91 L305.57 71.81 L305.05 74.04 L304.17 75.86 L302.53 76.85 L301.53 78.54 L299.93 79.56 L298.49 80.78 L297.62 82.62 L295.66 83.24 L294 84.19 L291.53 84.26 L290.89 86.35 L290.04 88.22 L288.37 89.17 L287.12 90.58 L285.53 91.61 L284.01 92.74 L282.83 94.23 L281 95" fill="none" stroke="#d926ff" stroke-width="1.3" fill="none" stroke-linejoin="round"/>
<circle cx="314.5" cy="64.9" r="1.4" fill="#fff" fill-opacity="0.6" stroke="#d926ff" stroke-opacity="0.45" stroke-width="0.5"/>
<path d="M319.4 71.4 L317.9 72.58 L315.76 72.77 L314.15 73.77 L312.3 74.41 L310.93 75.79 L309.43 76.97 L307.5 77.48 L305.09 77.25 L304.3 79.53 L302.8 80.71 L301.49 82.19 L299.87 83.18 L298.5 84.57 L297.76 86.94 L295.67 87.2 L294.02 88.15 L292.53 89.34 L290.94 90.38 L289.07 90.99 L286.68 90.77 L285.52 92.48 L284.02 93.67 L282.77 95.24 L281 96" fill="none" stroke="#738cff" stroke-width="1.3" fill="none" stroke-linejoin="round"/>
<circle cx="319.4" cy="71.4" r="1.4" fill="#fff" fill-opacity="0.6" stroke="#738cff" stroke-opacity="0.45" stroke-width="0.5"/>
<path d="M222.7 80.4 L224.29 80.95 L225.68 82 L227.14 82.88 L228.74 83.43 L230.48 83.62 L232 84.36 L233.54 85.04 L235.31 85.18 L237.01 85.47 L238.39 86.53 L239.88 87.35 L240.88 89.33 L242.83 89.04 L244.35 89.77 L245.81 90.62 L247.28 91.48 L249.39 90.81 L250.63 92.22 L252.29 92.59 L253.89 93.15 L255.12 94.57 L256.65 95.29 L258.4 95.46 L260 96" fill="none" stroke="#59a6ff" stroke-width="1.3" fill="none" stroke-linejoin="round"/>
<circle cx="222.7" cy="80.4" r="1.4" fill="#fff" fill-opacity="0.6" stroke="#59a6ff" stroke-opacity="0.45" stroke-width="0.5"/>
<path d="M224.1 86.6 L225.62 87.4 L227.08 88.44 L228.77 88.63 L230.57 88.37 L232.12 89.07 L233.98 88.64 L235.75 88.49 L237.32 89.14 L238.9 89.69 L240.63 89.72 L242.15 90.52 L243.61 91.59 L245.21 92.1 L247.33 90.66 L248.34 93.36 L250.2 92.91 L251.4 94.91 L253.18 94.75 L254.82 95.1 L256.56 95.1 L258.1 95.86 L259.82 95.91 L261.35 96.69 L263 97" fill="none" stroke="#0df2ff" stroke-width="1.3" fill="none" stroke-linejoin="round"/>
<circle cx="224.1" cy="86.6" r="1.4" fill="#fff" fill-opacity="0.6" stroke="#0df2ff" stroke-opacity="0.45" stroke-width="0.5"/>
<path d="M323.5 84.5 L321.79 84.9 L320.04 85.15 L318.49 86.11 L316.82 86.67 L315.33 87.82 L313.13 86.52 L311.95 88.79 L310.33 89.5 L308.26 88.63 L306.77 89.8 L304.69 88.9 L303.26 90.3 L301.35 89.96 L299.93 91.39 L298.45 92.61 L296.41 91.86 L294.62 91.97 L292.7 91.62 L291.48 93.74 L289.61 93.58 L287.84 93.77 L286.32 94.83 L284.74 95.69 L283 96" fill="none" stroke="#0df2ff" stroke-width="1.3" fill="none" stroke-linejoin="round"/>
<circle cx="323.5" cy="84.5" r="1.4" fill="#fff" fill-opacity="0.6" stroke="#0df2ff" stroke-opacity="0.45" stroke-width="0.5"/>
<path d="M309.9 81.7 L308.81 82.32 L307.56 82.62 L306.09 82.46 L304.79 82.64 L303.59 83.05 L302.53 83.71 L301.35 84.16 L301.63 87.54 L299.38 85.81 L298.36 86.57 L297.24 87.13 L296.19 87.82 L295.03 88.29 L293.98 88.99 L292.74 89.32 L291.54 89.71 L290.37 90.17 L289.38 90.97 L288.18 91.37 L287.34 92.49 L286.36 93.34 L285.17 93.75 L284.07 94.35 L283 95" fill="none" stroke="#f20dff" stroke-width="1.3" fill="none" stroke-linejoin="round"/>
<circle cx="309.9" cy="81.7" r="1.4" fill="#fff" fill-opacity="0.6" stroke="#f20dff" stroke-opacity="0.45" stroke-width="0.5"/>
<path d="M224.1 105.7 L225.89 105.69 L227.61 105.26 L229.28 104.48 L231.02 104.22 L232.5 102.25 L234.55 103.86 L236.43 104.46 L238.22 104.41 L239.88 103.64 L241.74 104.06 L243.46 103.63 L244.88 101.28 L246.54 100.46 L248.48 101.39 L250.38 102.08 L252.06 101.4 L253.93 101.89 L255.55 100.85 L257.25 100.28 L259 100 L260.76 99.81 L262.58 99.99 L264.24 99.2 L266 99" fill="none" stroke="#a659ff" stroke-width="1.3" fill="none" stroke-linejoin="round"/>
<circle cx="224.1" cy="105.7" r="1.4" fill="#fff" fill-opacity="0.6" stroke="#a659ff" stroke-opacity="0.45" stroke-width="0.5"/>
<path d="M224.1 114.4 L225.93 113.92 L227.99 114.06 L229.75 113.37 L231.2 111.76 L232.92 110.97 L234.75 110.47 L236.59 109.99 L238.29 109.12 L240.09 108.52 L241.83 107.77 L243.81 107.7 L245.67 107.29 L246.89 105.03 L248.82 104.83 L251.05 105.48 L253.04 105.46 L254.88 104.97 L256.51 103.89 L258 102.42 L259.57 101.19 L261.71 101.56 L263.38 100.61 L265.2 100.08 L267 99.5" fill="none" stroke="#f20dff" stroke-width="1.3" fill="none" stroke-linejoin="round"/>
<circle cx="224.1" cy="114.4" r="1.4" fill="#fff" fill-opacity="0.6" stroke="#f20dff" stroke-opacity="0.45" stroke-width="0.5"/>
<path d="M320.8 102.2 L319.15 102.52 L317.73 99.9 L315.95 101.77 L314.37 101.23 L312.74 101.25 L311.11 101.26 L309.46 101.52 L307.86 101.18 L306.24 101.09 L304.64 100.74 L303.04 100.39 L301.43 100.19 L299.91 98.88 L298.26 99.17 L296.65 99.01 L295.04 98.72 L293.38 99.2 L291.74 99.29 L290.04 100.14 L288.45 99.72 L287.02 97.36 L285.26 99 L283.73 97.73 L282 99" fill="none" stroke="#f20dff" stroke-width="1.3" fill="none" stroke-linejoin="round"/>
<circle cx="320.8" cy="102.2" r="1.4" fill="#fff" fill-opacity="0.6" stroke="#f20dff" stroke-opacity="0.45" stroke-width="0.5"/>
<path d="M323.5 111.7 L321.8 111.12 L319.73 111.83 L318.12 110.92 L316.54 109.89 L314.8 109.45 L312.92 109.49 L311.32 108.56 L309.39 108.79 L307.83 107.71 L306.15 107.04 L304.31 106.94 L303 104.95 L301.39 104.05 L299.68 103.49 L298.22 102.04 L296.02 103.24 L294.38 102.45 L292.53 102.38 L290.84 101.74 L288.93 101.9 L287.24 101.29 L285.57 100.58 L283.7 100.58 L282 100" fill="none" stroke="#9966ff" stroke-width="1.3" fill="none" stroke-linejoin="round"/>
<circle cx="323.5" cy="111.7" r="1.4" fill="#fff" fill-opacity="0.6" stroke="#9966ff" stroke-opacity="0.45" stroke-width="0.5"/>
<path d="M232.2 130.8 L233.61 129.46 L235.21 128.35 L236.03 126.3 L238.26 125.94 L240.05 125.07 L241.05 123.23 L242.93 122.45 L244.45 121.25 L245.81 119.85 L247.36 118.67 L248.88 117.46 L250.91 116.87 L252.26 115.46 L253.2 113.56 L254.79 112.44 L256.03 110.89 L257.76 109.94 L259.14 108.56 L260.76 107.48 L262.45 106.47 L262.77 103.81 L265.35 103.89 L265.39 100.9 L268 101" fill="none" stroke="#6699ff" stroke-width="1.3" fill="none" stroke-linejoin="round"/>
<circle cx="232.2" cy="130.8" r="1.4" fill="#fff" fill-opacity="0.6" stroke="#6699ff" stroke-opacity="0.45" stroke-width="0.5"/>
<path d="M266.3 145.8 L269.23 144.29 L266.4 142.21 L267.12 140.48 L267.57 138.72 L268.37 137 L267.68 135.13 L265.98 133.17 L269.08 131.67 L268.78 129.84 L271.03 128.26 L269.4 126.3 L269.75 124.53 L270 122.76 L270.62 121.02 L271.62 119.31 L269.97 117.35 L271 115.65 L270.93 113.85 L271.3 112.08 L270.12 110.16 L270.67 108.42 L271.36 106.69 L270.81 104.83 L270.5 103" fill="none" stroke="#f20dff" stroke-width="1.3" fill="none" stroke-linejoin="round"/>
<circle cx="266.3" cy="145.8" r="1.4" fill="#fff" fill-opacity="0.6" stroke="#f20dff" stroke-opacity="0.45" stroke-width="0.5"/>
<path d="M275.8 140.3 L275.83 138.74 L275.86 137.18 L275.47 135.64 L275.54 134.08 L275.2 132.54 L276.11 130.92 L276.36 129.34 L276.49 127.78 L276.23 126.23 L275.99 124.69 L276.41 123.1 L276.02 121.57 L276.19 119.99 L275.3 118.49 L275.57 116.91 L275.02 115.39 L275.09 113.82 L275.9 112.21 L275.4 110.68 L274.81 109.16 L273.83 107.66 L275.38 106 L274.81 104.48 L273.5 103" fill="none" stroke="#4cb2ff" stroke-width="1.3" fill="none" stroke-linejoin="round"/>
<circle cx="275.8" cy="140.3" r="1.4" fill="#fff" fill-opacity="0.6" stroke="#4cb2ff" stroke-opacity="0.45" stroke-width="0.5"/>
<path d="M305.8 129.4 L304.44 128.46 L302.93 127.68 L301.9 126.4 L300.47 125.54 L297.9 125.83 L298.57 122.83 L298.03 121.06 L297.05 119.74 L295.67 118.83 L294.63 117.56 L292.83 117.07 L291.97 115.62 L290.69 114.61 L289.89 113.1 L288.32 112.39 L286.8 111.61 L285.88 110.22 L284.84 108.96 L283.8 107.7 L283.03 106.17 L281.88 105.01 L280.61 103.98 L278.82 103.48 L278 102" fill="none" stroke="#6699ff" stroke-width="1.3" fill="none" stroke-linejoin="round"/>
<circle cx="305.8" cy="129.4" r="1.4" fill="#fff" fill-opacity="0.6" stroke="#6699ff" stroke-opacity="0.45" stroke-width="0.5"/>
<path d="M274.5 147.1 L274.41 145.26 L274.07 143.44 L273.7 141.62 L273.6 139.78 L273.85 137.92 L273.86 136.08 L274.19 134.21 L273.45 132.41 L272.97 130.6 L273.3 128.73 L271.88 126.97 L273.36 125.04 L272.74 123.24 L274.33 121.3 L272.9 119.54 L273.47 117.66 L272.75 115.86 L270.6 114.14 L271.7 112.23 L273.18 110.31 L271.6 108.55 L271.89 106.69 L272 104.84 L272 103" fill="none" stroke="#e619ff" stroke-width="1.3" fill="none" stroke-linejoin="round"/>
<circle cx="274.5" cy="147.1" r="1.4" fill="#fff" fill-opacity="0.6" stroke="#e619ff" stroke-opacity="0.45" stroke-width="0.5"/>
<path d="M285 52 L284.97 53.75 L284.63 55.42 L284.49 57.14 L284.08 58.8 L283.25 60.36 L282.46 61.93 L282.01 63.59 L282.65 65.48 L282.13 67.11 L281.53 68.73 L278.58 69.82 L282.46 72.44 L279.92 73.62 L279.01 75.17 L278.63 76.83 L279.66 78.81 L277.35 80.05 L277.74 81.89 L277.1 83.49 L276.6 85.13 L276.16 86.78 L274.1 88.07 L277.36 90.56 L276 92" fill="none" stroke="#33ccff" stroke-width="1.3" fill="none" stroke-linejoin="round"/>
<circle cx="285" cy="52" r="1.4" fill="#fff" fill-opacity="0.6" stroke="#33ccff" stroke-opacity="0.45" stroke-width="0.5"/>
<path d="M268 140 L268.15 138.42 L267.85 136.79 L266.79 135.1 L268.18 133.63 L267.52 131.97 L267.74 130.4 L270.44 129.05 L267.96 127.22 L268.76 125.7 L268.94 124.12 L268.76 122.51 L269.46 120.97 L270 119.43 L269.26 117.76 L269.31 116.17 L267.75 114.43 L269.86 113.03 L270.52 111.49 L271.4 109.98 L270.87 108.33 L271.41 106.78 L270.02 105.06 L270.4 103.5 L271.5 102" fill="none" stroke="#d926ff" stroke-width="1.3" fill="none" stroke-linejoin="round"/>
<circle cx="268" cy="140" r="1.4" fill="#fff" fill-opacity="0.6" stroke="#d926ff" stroke-opacity="0.45" stroke-width="0.5"/>
<path d="M237 126 L238.01 124.64 L239.06 123.32 L239.36 121.15 L241.29 120.85 L243.48 120.85 L244.34 119.32 L245.76 118.43 L246.56 116.82 L247.24 115.08 L248.48 113.99 L249.8 112.99 L251.26 112.14 L252.76 111.35 L254.03 110.29 L255.14 109.04 L255.72 107.2 L258.12 107.43 L259.91 106.97 L259.34 103.79 L260.84 103 L262.56 102.46 L264.13 101.74 L265.66 100.97 L267 100" fill="none" stroke="#8080ff" stroke-width="1.3" fill="none" stroke-linejoin="round"/>
<circle cx="237" cy="126" r="1.4" fill="#fff" fill-opacity="0.6" stroke="#8080ff" stroke-opacity="0.45" stroke-width="0.5"/>
<path d="M300 121 L299.53 119.72 L298.15 119.35 L297.75 118 L296.69 117.31 L295.48 116.77 L294.22 116.28 L293.89 114.86 L292.97 114.03 L291.68 113.57 L291.16 112.34 L288.57 113.18 L288.9 111.1 L288.17 110.08 L287.54 108.96 L286.31 108.44 L284.95 108.05 L284.88 106.37 L283.72 105.78 L283.03 104.72 L282.21 103.79 L281.07 103.18 L280.09 102.41 L278.89 101.86 L279 100" fill="none" stroke="#4cb2ff" stroke-width="1.3" fill="none" stroke-linejoin="round"/>
<circle cx="300" cy="121" r="1.4" fill="#fff" fill-opacity="0.6" stroke="#4cb2ff" stroke-opacity="0.45" stroke-width="0.5"/>
<path d="M233 82 L233.43 84.5 L235.3 83.8 L236.55 84.47 L237.9 84.91 L239.17 85.56 L240.69 85.63 L241.96 86.27 L243.06 87.27 L243.86 88.94 L245.8 88.1 L246.89 89.13 L248.13 89.82 L249.63 89.94 L250.84 90.7 L252.15 91.24 L253.73 91.2 L255.2 91.37 L256.33 92.33 L257.37 93.47 L259.29 92.65 L260.6 93.19 L263.05 91.22 L263.06 94.64 L264 96" fill="none" stroke="#1ae6ff" stroke-width="1.3" fill="none" stroke-linejoin="round"/>
<circle cx="233" cy="82" r="1.4" fill="#fff" fill-opacity="0.6" stroke="#1ae6ff" stroke-opacity="0.45" stroke-width="0.5"/>
<path d="M318 76 L315.98 75.81 L315.15 77.87 L313.58 78.53 L312.65 80.4 L310.38 79.72 L309.05 80.85 L307.58 81.7 L305.8 81.96 L304.48 83.1 L302.96 83.83 L301.38 84.48 L299.87 85.25 L298.95 87.14 L297.34 87.73 L295.71 88.27 L294.18 89 L292.94 90.29 L291.22 90.66 L289.8 91.61 L288.51 92.8 L286.61 92.84 L285.1 93.61 L283.39 94 L282 95" fill="none" stroke="#8c73ff" stroke-width="1.3" fill="none" stroke-linejoin="round"/>
<circle cx="318" cy="76" r="1.4" fill="#fff" fill-opacity="0.6" stroke="#8c73ff" stroke-opacity="0.45" stroke-width="0.5"/>
<path d="M264 52 L264.12 53.69 L263.81 55.44 L265.82 56.84 L264.63 58.72 L265.7 60.27 L265.88 61.94 L265.26 63.74 L266.57 65.25 L267.47 66.82 L266.76 68.63 L267.47 70.23 L267.04 71.99 L266.68 73.75 L266.56 75.47 L267.45 77.05 L268.23 78.63 L268.05 80.36 L268.01 82.07 L267.45 83.86 L267.66 85.53 L268.14 87.17 L268.13 88.87 L268.17 90.57 L270 92" fill="none" stroke="#d926ff" stroke-width="1.3" fill="none" stroke-linejoin="round"/>
<circle cx="264" cy="52" r="1.4" fill="#fff" fill-opacity="0.6" stroke="#d926ff" stroke-opacity="0.45" stroke-width="0.5"/>
<path d="M289 51 L287.92 52.54 L287.79 54.35 L286.92 55.96 L286.69 57.74 L285.81 59.34 L284.37 60.77 L283.99 62.52 L283.51 64.23 L283.43 66.06 L282.33 67.59 L282.2 69.41 L281.99 71.2 L281.36 72.87 L281.44 74.75 L280.72 76.4 L279.68 77.95 L279.67 79.8 L276.55 80.74 L278.83 83.26 L278.63 85.06 L277.52 86.59 L277.99 88.58 L277.22 90.21 L277 92" fill="none" stroke="#e619ff" stroke-width="1.3" fill="none" stroke-linejoin="round"/>
<circle cx="289" cy="51" r="1.4" fill="#fff" fill-opacity="0.6" stroke="#e619ff" stroke-opacity="0.45" stroke-width="0.5"/>
<circle cx="272.95" cy="97.65" r="1.7" fill="none" stroke="#ff1a1a" stroke-width="0.9"/>
<path d="M384.56 71.89 L385.36 72.9 L387 73.18 L387.11 74.8 L387.68 76.03 L384.39 80.67 L389.7 77.7" fill="none" stroke="#ca35ff" stroke-width="1.9" fill="none" stroke-linejoin="round"/>
<circle cx="384.56" cy="71.89" r="1.5" fill="#fff" fill-opacity="0.6" stroke="#ca35ff" stroke-opacity="0.5" stroke-width="0.55"/>
<path d="M430.53 61.94 L428.52 60.96 L427.61 63.18 L425.9 63.08 L424.53 63.97 L423.23 65.07 L421.53 65.01" fill="none" stroke="#09f6ff" stroke-width="1.9" fill="none" stroke-linejoin="round"/>
<circle cx="430.53" cy="61.94" r="1.5" fill="#fff" fill-opacity="0.6" stroke="#09f6ff" stroke-opacity="0.5" stroke-width="0.55"/>
<path d="M422.95 104.34 L421.5 104.12 L420 104.49 L418.55 104.27 L416.99 105.31 L415.6 104.38 L414.2 103.58" fill="none" stroke="#3cc3ff" stroke-width="1.9" fill="none" stroke-linejoin="round"/>
<circle cx="422.95" cy="104.34" r="1.5" fill="#fff" fill-opacity="0.6" stroke="#3cc3ff" stroke-opacity="0.5" stroke-width="0.55"/>
<path d="M421.09 83.87 L419.65 84.52 L418.11 83.98 L416.62 83.97 L415.2 84.84 L413.91 87.11 L412.2 84.65" fill="none" stroke="#6897ff" stroke-width="1.9" fill="none" stroke-linejoin="round"/>
<circle cx="421.09" cy="83.87" r="1.5" fill="#fff" fill-opacity="0.6" stroke="#6897ff" stroke-opacity="0.5" stroke-width="0.55"/>
<path d="M394.29 53.3 L394.65 54.52 L395.41 55.52 L396.51 56.33 L393.53 59.39 L396.54 59.14 L397.89 59.81" fill="none" stroke="#9f60ff" stroke-width="1.9" fill="none" stroke-linejoin="round"/>
<circle cx="394.29" cy="53.3" r="1.5" fill="#fff" fill-opacity="0.6" stroke="#9f60ff" stroke-opacity="0.5" stroke-width="0.55"/>
<path d="M379.47 63.21 L379.55 65.02 L377.83 65.61 L377.21 66.94 L376.69 68.34 L372.88 67.52 L374.59 70.43" fill="none" stroke="#6897ff" stroke-width="1.9" fill="none" stroke-linejoin="round"/>
<circle cx="379.47" cy="63.21" r="1.5" fill="#fff" fill-opacity="0.6" stroke="#6897ff" stroke-opacity="0.5" stroke-width="0.55"/>
<path d="M343.5 103.09 L345.19 103.54 L346.27 106.11 L348.33 105.25 L349.72 106.76 L351.51 106.85 L353.58 105.95" fill="none" stroke="#0df2ff" stroke-width="1.9" fill="none" stroke-linejoin="round"/>
<circle cx="343.5" cy="103.09" r="1.5" fill="#fff" fill-opacity="0.6" stroke="#0df2ff" stroke-opacity="0.5" stroke-width="0.55"/>
<path d="M444.21 106.53 L442.51 106.61 L441.05 106.37 L440.42 105.03 L439.13 104.56 L437.01 105.19 L437.94 101.79" fill="none" stroke="#e11eff" stroke-width="1.9" fill="none" stroke-linejoin="round"/>
<circle cx="444.21" cy="106.53" r="1.5" fill="#fff" fill-opacity="0.6" stroke="#e11eff" stroke-opacity="0.5" stroke-width="0.55"/>
<path d="M379.71 87.58 L380.46 86.56 L381.35 85.77 L382.27 85.02 L383.66 85.05 L385.7 86.13 L385.7 83.9" fill="none" stroke="#d926ff" stroke-width="1.9" fill="none" stroke-linejoin="round"/>
<circle cx="379.71" cy="87.58" r="1.5" fill="#fff" fill-opacity="0.6" stroke="#d926ff" stroke-opacity="0.5" stroke-width="0.55"/>
<path d="M370.07 91.52 L371.43 92.38 L371.87 90.19 L372.86 89.83 L373.73 89.05 L374.8 88.95 L376.13 89.67" fill="none" stroke="#7e81ff" stroke-width="1.9" fill="none" stroke-linejoin="round"/>
<circle cx="370.07" cy="91.52" r="1.5" fill="#fff" fill-opacity="0.6" stroke="#7e81ff" stroke-opacity="0.5" stroke-width="0.55"/>
<path d="M396.66 76.44 L396.66 77.34 L396.78 78.25 L395.26 79.11 L395.67 80.02 L394.96 80.9 L396.51 81.84" fill="none" stroke="#b54aff" stroke-width="1.9" fill="none" stroke-linejoin="round"/>
<circle cx="396.66" cy="76.44" r="1.5" fill="#fff" fill-opacity="0.6" stroke="#b54aff" stroke-opacity="0.5" stroke-width="0.55"/>
<path d="M375.72 83.57 L377.64 82.5 L379.15 82.16 L379.4 84.08 L381.2 83.24 L381.84 84.45 L381.77 86.95" fill="none" stroke="#4fb0ff" stroke-width="1.9" fill="none" stroke-linejoin="round"/>
<circle cx="375.72" cy="83.57" r="1.5" fill="#fff" fill-opacity="0.6" stroke="#4fb0ff" stroke-opacity="0.5" stroke-width="0.55"/>
<path d="M403.45 77.42 L403.47 78.76 L404.63 79.8 L404.59 81.16 L404.86 82.43 L405.93 83.49 L405.43 84.97" fill="none" stroke="#05faff" stroke-width="1.9" fill="none" stroke-linejoin="round"/>
<circle cx="403.45" cy="77.42" r="1.5" fill="#fff" fill-opacity="0.6" stroke="#05faff" stroke-opacity="0.5" stroke-width="0.55"/>
<path d="M346.65 111.31 L346.25 109.7 L344.96 107.69 L347.72 107.45 L349.22 106.65 L348.95 105.09 L349.82 104.02" fill="none" stroke="#629dff" stroke-width="1.9" fill="none" stroke-linejoin="round"/>
<circle cx="346.65" cy="111.31" r="1.5" fill="#fff" fill-opacity="0.6" stroke="#629dff" stroke-opacity="0.5" stroke-width="0.55"/>
<path d="M425.33 60.23 L424.94 61.87 L424.93 63.73 L424.69 65.46 L423.07 66.37 L422.08 67.66 L420.44 68.56" fill="none" stroke="#ea15ff" stroke-width="1.9" fill="none" stroke-linejoin="round"/>
<circle cx="425.33" cy="60.23" r="1.5" fill="#fff" fill-opacity="0.6" stroke="#ea15ff" stroke-opacity="0.5" stroke-width="0.55"/>
<path d="M369.67 88.91 L370.66 90.49 L371.63 91.6 L372.5 90.86 L373.5 92.57 L374.37 91.82 L375.11 88.62" fill="none" stroke="#bd42ff" stroke-width="1.9" fill="none" stroke-linejoin="round"/>
<circle cx="369.67" cy="88.91" r="1.5" fill="#fff" fill-opacity="0.6" stroke="#bd42ff" stroke-opacity="0.5" stroke-width="0.55"/>
<path d="M413.04 70.94 L412.12 70.39 L411.34 69.28 L410.48 68.46 L409.34 68.74 L408.28 68.74 L407.04 69.38" fill="none" stroke="#ae51ff" stroke-width="1.9" fill="none" stroke-linejoin="round"/>
<circle cx="413.04" cy="70.94" r="1.5" fill="#fff" fill-opacity="0.6" stroke="#ae51ff" stroke-opacity="0.5" stroke-width="0.55"/>
<path d="M407.32 128.4 L407.81 126.77 L405.49 125.38 L406.05 123.74 L404.54 122.28 L405.59 120.6 L406.54 118.94" fill="none" stroke="#09f6ff" stroke-width="1.9" fill="none" stroke-linejoin="round"/>
<circle cx="407.32" cy="128.4" r="1.5" fill="#fff" fill-opacity="0.6" stroke="#09f6ff" stroke-opacity="0.5" stroke-width="0.55"/>
<path d="M426.98 72.51 L425.78 73.11 L425.21 74.41 L424.19 75.21 L423.07 75.89 L421.26 75.8 L421.18 77.65" fill="none" stroke="#22ddff" stroke-width="1.9" fill="none" stroke-linejoin="round"/>
<circle cx="426.98" cy="72.51" r="1.5" fill="#fff" fill-opacity="0.6" stroke="#22ddff" stroke-opacity="0.5" stroke-width="0.55"/>
<path d="M449.26 103.7 L449.1 101.92 L448.28 100.53 L447.58 99.06 L446.15 98.02 L444.84 96.9 L444.41 95.28" fill="none" stroke="#be41ff" stroke-width="1.9" fill="none" stroke-linejoin="round"/>
<circle cx="449.26" cy="103.7" r="1.5" fill="#fff" fill-opacity="0.6" stroke="#be41ff" stroke-opacity="0.5" stroke-width="0.55"/>
<path d="M374.83 124.03 L370.78 123.23 L373.56 121.85 L371.05 120.92 L373.97 119.52 L374.13 118.37 L374.25 117.21" fill="none" stroke="#12edff" stroke-width="1.9" fill="none" stroke-linejoin="round"/>
<circle cx="374.83" cy="124.03" r="1.5" fill="#fff" fill-opacity="0.6" stroke="#12edff" stroke-opacity="0.5" stroke-width="0.55"/>
<path d="M357.94 121.56 L359.27 120.72 L361.35 121.75 L362.23 119.77 L363.55 118.92 L364.89 118.1 L366.56 118.12" fill="none" stroke="#ba45ff" stroke-width="1.9" fill="none" stroke-linejoin="round"/>
<circle cx="357.94" cy="121.56" r="1.5" fill="#fff" fill-opacity="0.6" stroke="#ba45ff" stroke-opacity="0.5" stroke-width="0.55"/>
<path d="M411.13 75.45 L409.98 76.45 L408.39 76.1 L407.22 77.04 L406.26 78.69 L404.52 77.84 L403.1 78.02" fill="none" stroke="#37c8ff" stroke-width="1.9" fill="none" stroke-linejoin="round"/>
<circle cx="411.13" cy="75.45" r="1.5" fill="#fff" fill-opacity="0.6" stroke="#37c8ff" stroke-opacity="0.5" stroke-width="0.55"/>
<path d="M384.61 111.33 L386 110.17 L383.56 109.07 L384.37 107.92 L386.83 106.75 L386.38 105.62 L384.5 104.51" fill="none" stroke="#a55aff" stroke-width="1.9" fill="none" stroke-linejoin="round"/>
<circle cx="384.61" cy="111.33" r="1.5" fill="#fff" fill-opacity="0.6" stroke="#a55aff" stroke-opacity="0.5" stroke-width="0.55"/>
<path d="M376.01 110.32 L374.56 109.48 L376.88 108.42 L376.15 107.54 L378.29 106.5 L375.7 105.72 L375.71 104.8" fill="none" stroke="#8a75ff" stroke-width="1.9" fill="none" stroke-linejoin="round"/>
<circle cx="376.01" cy="110.32" r="1.5" fill="#fff" fill-opacity="0.6" stroke="#8a75ff" stroke-opacity="0.5" stroke-width="0.55"/>
<path d="M425.65 127.68 L424.49 127.04 L423.22 127.26 L421.93 127.55 L420.64 127.89 L419.44 127.55 L418.31 126.67" fill="none" stroke="#c53aff" stroke-width="1.9" fill="none" stroke-linejoin="round"/>
<circle cx="425.65" cy="127.68" r="1.5" fill="#fff" fill-opacity="0.6" stroke="#c53aff" stroke-opacity="0.5" stroke-width="0.55"/>
<path d="M403.27 80.48 L403.34 82.07 L401.84 82.28 L402.28 84.2 L401.94 85.43 L400.8 85.95 L398.71 85.63" fill="none" stroke="#ba45ff" stroke-width="1.9" fill="none" stroke-linejoin="round"/>
<circle cx="403.27" cy="80.48" r="1.5" fill="#fff" fill-opacity="0.6" stroke="#ba45ff" stroke-opacity="0.5" stroke-width="0.55"/>
<path d="M342.37 103.33 L343.49 103.99 L344.88 103.49 L346.23 103.18 L347.56 102.93 L348.71 103.45 L349.61 105.03" fill="none" stroke="#5ea1ff" stroke-width="1.9" fill="none" stroke-linejoin="round"/>
<circle cx="342.37" cy="103.33" r="1.5" fill="#fff" fill-opacity="0.6" stroke="#5ea1ff" stroke-opacity="0.5" stroke-width="0.55"/>
<path d="M408.61 47.7 L411.37 48.95 L406.53 51.85 L409.18 53.13 L410.14 54.77 L410.43 56.56 L410.92 58.3" fill="none" stroke="#33ccff" stroke-width="1.9" fill="none" stroke-linejoin="round"/>
<circle cx="408.61" cy="47.7" r="1.5" fill="#fff" fill-opacity="0.6" stroke="#33ccff" stroke-opacity="0.5" stroke-width="0.55"/>
<path d="M404.77 146.36 L403.11 144.51 L405.01 143.12 L405.44 141.55 L406.7 140.08 L407.38 138.53 L406.05 136.72" fill="none" stroke="#55aaff" stroke-width="1.9" fill="none" stroke-linejoin="round"/>
<circle cx="404.77" cy="146.36" r="1.5" fill="#fff" fill-opacity="0.6" stroke="#55aaff" stroke-opacity="0.5" stroke-width="0.55"/>
<path d="M354.36 97.49 L355.28 95.93 L356.2 94.37 L357.67 93.52 L358.47 91.82 L362.16 93.83 L362.33 91.31" fill="none" stroke="#5fa0ff" stroke-width="1.9" fill="none" stroke-linejoin="round"/>
<circle cx="354.36" cy="97.49" r="1.5" fill="#fff" fill-opacity="0.6" stroke="#5fa0ff" stroke-opacity="0.5" stroke-width="0.55"/>
<path d="M349.2 110.91 L349.68 109.63 L351.07 109.15 L352.73 108.9 L353.9 108.23 L354.62 107.15 L354.28 105.15" fill="none" stroke="#16e9ff" stroke-width="1.9" fill="none" stroke-linejoin="round"/>
<circle cx="349.2" cy="110.91" r="1.5" fill="#fff" fill-opacity="0.6" stroke="#16e9ff" stroke-opacity="0.5" stroke-width="0.55"/>
<path d="M418.24 117.48 L418.65 116.03 L414.24 116.06 L418.73 113.36 L416.27 112.79 L416.83 111.3 L416.01 110.22" fill="none" stroke="#1de2ff" stroke-width="1.9" fill="none" stroke-linejoin="round"/>
<circle cx="418.24" cy="117.48" r="1.5" fill="#fff" fill-opacity="0.6" stroke="#1de2ff" stroke-opacity="0.5" stroke-width="0.55"/>
<path d="M442.87 100.39 L441.07 99.59 L439.59 99.55 L438.4 100.19 L437.44 101.36 L435.09 99.27 L435.45 103.55" fill="none" stroke="#5ba4ff" stroke-width="1.9" fill="none" stroke-linejoin="round"/>
<circle cx="442.87" cy="100.39" r="1.5" fill="#fff" fill-opacity="0.6" stroke="#5ba4ff" stroke-opacity="0.5" stroke-width="0.55"/>
<path d="M345.79 88.1 L347.07 87.56 L348.35 86.74 L349.62 88.03 L350.9 87.02 L352.17 87.99 L353.44 88.12" fill="none" stroke="#57a8ff" stroke-width="1.9" fill="none" stroke-linejoin="round"/>
<circle cx="345.79" cy="88.1" r="1.5" fill="#fff" fill-opacity="0.6" stroke="#57a8ff" stroke-opacity="0.5" stroke-width="0.55"/>
<path d="M349.8 114.63 L351.15 114.95 L352.35 114.14 L353.52 113.09 L354.62 111.6 L356.14 113.18 L357.51 113.6" fill="none" stroke="#5fa0ff" stroke-width="1.9" fill="none" stroke-linejoin="round"/>
<circle cx="349.8" cy="114.63" r="1.5" fill="#fff" fill-opacity="0.6" stroke="#5fa0ff" stroke-opacity="0.5" stroke-width="0.55"/>
<path d="M419.53 82.68 L418.42 83.09 L416.5 82.04 L416.85 85.08 L416.08 86.1 L415.16 86.85 L413.39 86.07" fill="none" stroke="#37c8ff" stroke-width="1.9" fill="none" stroke-linejoin="round"/>
<circle cx="419.53" cy="82.68" r="1.5" fill="#fff" fill-opacity="0.6" stroke="#37c8ff" stroke-opacity="0.5" stroke-width="0.55"/>
<path d="M375.67 47.89 L377.05 49.32 L375.53 50.98 L376.83 52.41 L376.45 53.98 L376.9 55.47 L376.42 57.05" fill="none" stroke="#54abff" stroke-width="1.9" fill="none" stroke-linejoin="round"/>
<circle cx="375.67" cy="47.89" r="1.5" fill="#fff" fill-opacity="0.6" stroke="#54abff" stroke-opacity="0.5" stroke-width="0.55"/>
<path d="M432.28 92.05 L431.03 92.3 L430.07 92.89 L429.91 94.43 L428.35 94.31 L428.28 95.96 L427.17 96.38" fill="none" stroke="#46b9ff" stroke-width="1.9" fill="none" stroke-linejoin="round"/>
<circle cx="432.28" cy="92.05" r="1.5" fill="#fff" fill-opacity="0.6" stroke="#46b9ff" stroke-opacity="0.5" stroke-width="0.55"/>
<path d="M382.06 57.08 L381.68 58.46 L381.19 59.78 L379.48 60.57 L379.7 62.2 L379.13 63.49 L378.68 64.83" fill="none" stroke="#6e91ff" stroke-width="1.9" fill="none" stroke-linejoin="round"/>
<circle cx="382.06" cy="57.08" r="1.5" fill="#fff" fill-opacity="0.6" stroke="#6e91ff" stroke-opacity="0.5" stroke-width="0.55"/>
<path d="M370.32 96.05 L371.32 95.79 L372.28 95 L373.35 95.53 L374.42 95.91 L375.49 96.33 L376.44 95.49" fill="none" stroke="#728dff" stroke-width="1.9" fill="none" stroke-linejoin="round"/>
<circle cx="370.32" cy="96.05" r="1.5" fill="#fff" fill-opacity="0.6" stroke="#728dff" stroke-opacity="0.5" stroke-width="0.55"/>
<path d="M384.36 64.2 L385.78 65.31 L384.86 67.28 L385.25 68.77 L386.96 69.77 L386.57 71.55 L387.53 72.83" fill="none" stroke="#22ddff" stroke-width="1.9" fill="none" stroke-linejoin="round"/>
<circle cx="384.36" cy="64.2" r="1.5" fill="#fff" fill-opacity="0.6" stroke="#22ddff" stroke-opacity="0.5" stroke-width="0.55"/>
<path d="M424.72 102.45 L423.8 101.07 L421.74 101.99 L421.35 99.54 L419.84 99.34 L418.51 98.79 L416.99 98.61" fill="none" stroke="#8d72ff" stroke-width="1.9" fill="none" stroke-linejoin="round"/>
<circle cx="424.72" cy="102.45" r="1.5" fill="#fff" fill-opacity="0.6" stroke="#8d72ff" stroke-opacity="0.5" stroke-width="0.55"/>
<path d="M426.71 56.45 L425.27 57.33 L423.5 57.7 L423.64 61.09 L419.13 57.12 L418.17 58.76 L418.12 61.86" fill="none" stroke="#ba45ff" stroke-width="1.9" fill="none" stroke-linejoin="round"/>
<circle cx="426.71" cy="56.45" r="1.5" fill="#fff" fill-opacity="0.6" stroke="#ba45ff" stroke-opacity="0.5" stroke-width="0.55"/>
<path d="M414.86 145.52 L415.26 143.84 L415.96 142.37 L419.08 142.65 L416.34 138.68 L419.49 138.99 L420.5 137.74" fill="none" stroke="#e817ff" stroke-width="1.9" fill="none" stroke-linejoin="round"/>
<circle cx="414.86" cy="145.52" r="1.5" fill="#fff" fill-opacity="0.6" stroke="#e817ff" stroke-opacity="0.5" stroke-width="0.55"/>
<path d="M438.25 115.7 L436.32 115.33 L435.21 113.89 L433.46 113.27 L431.84 112.49 L434.1 106.62 L429.85 109.3" fill="none" stroke="#f609ff" stroke-width="1.9" fill="none" stroke-linejoin="round"/>
<circle cx="438.25" cy="115.7" r="1.5" fill="#fff" fill-opacity="0.6" stroke="#f609ff" stroke-opacity="0.5" stroke-width="0.55"/>
<path d="M371.55 112.19 L372.76 113.45 L373.61 111.17 L374.72 111.45 L375.85 111.92 L376.97 112.34 L377.97 111.56" fill="none" stroke="#43bcff" stroke-width="1.9" fill="none" stroke-linejoin="round"/>
<circle cx="371.55" cy="112.19" r="1.5" fill="#fff" fill-opacity="0.6" stroke="#43bcff" stroke-opacity="0.5" stroke-width="0.55"/>
<path d="M374.6 50.26 L375.81 50.96 L377.47 50.92 L378.33 52.2 L379.64 52.74 L381.97 51.57 L381.78 54.59" fill="none" stroke="#9d62ff" stroke-width="1.9" fill="none" stroke-linejoin="round"/>
<circle cx="374.6" cy="50.26" r="1.5" fill="#fff" fill-opacity="0.6" stroke="#9d62ff" stroke-opacity="0.5" stroke-width="0.55"/>
<path d="M389.98 147.46 L389.62 145.78 L389.45 144.01 L386.67 143.51 L386.19 141.89 L387.56 139.37 L385.6 138.46" fill="none" stroke="#3fc0ff" stroke-width="1.9" fill="none" stroke-linejoin="round"/>
<circle cx="389.98" cy="147.46" r="1.5" fill="#fff" fill-opacity="0.6" stroke="#3fc0ff" stroke-opacity="0.5" stroke-width="0.55"/>
<path d="M438.5 89.36 L436.8 88.84 L435.25 89.44 L433.74 90.22 L432.05 89.84 L430.86 92.92 L428.92 90.76" fill="none" stroke="#6b94ff" stroke-width="1.9" fill="none" stroke-linejoin="round"/>
<circle cx="438.5" cy="89.36" r="1.5" fill="#fff" fill-opacity="0.6" stroke="#6b94ff" stroke-opacity="0.5" stroke-width="0.55"/>
<path d="M356.28 56.82 L356.02 52.96 L358.54 53.57 L360.49 53.26 L362.64 53.26 L364.72 53.15 L365.55 51.04" fill="none" stroke="#7d82ff" stroke-width="1.9" fill="none" stroke-linejoin="round"/>
<circle cx="356.28" cy="56.82" r="1.5" fill="#fff" fill-opacity="0.6" stroke="#7d82ff" stroke-opacity="0.5" stroke-width="0.55"/>
<path d="M402.49 149.34 L402.02 147.44 L405.45 146.61 L402.29 143.97 L401.63 142.01 L403.1 140.64 L405.2 139.45" fill="none" stroke="#2cd3ff" stroke-width="1.9" fill="none" stroke-linejoin="round"/>
<circle cx="402.49" cy="149.34" r="1.5" fill="#fff" fill-opacity="0.6" stroke="#2cd3ff" stroke-opacity="0.5" stroke-width="0.55"/>
<path d="M404.72 114.61 L404.26 113.71 L403.75 112.81 L405.73 111.99 L403.02 111.02 L403.23 110.14 L404.88 109.3" fill="none" stroke="#956aff" stroke-width="1.9" fill="none" stroke-linejoin="round"/>
<circle cx="404.72" cy="114.61" r="1.5" fill="#fff" fill-opacity="0.6" stroke="#956aff" stroke-opacity="0.5" stroke-width="0.55"/>
<path d="M349.25 83.13 L350.2 84.83 L351.44 86.04 L352.56 87.43 L354.23 87.87 L356.1 87.95 L357.94 88.1" fill="none" stroke="#7a85ff" stroke-width="1.9" fill="none" stroke-linejoin="round"/>
<circle cx="349.25" cy="83.13" r="1.5" fill="#fff" fill-opacity="0.6" stroke="#7a85ff" stroke-opacity="0.5" stroke-width="0.55"/>
<path d="M373.3 65.52 L375.37 66.15 L376.07 67.54 L376.81 68.91 L377.47 70.34 L377.36 72.18 L377.9 73.67" fill="none" stroke="#cc33ff" stroke-width="1.9" fill="none" stroke-linejoin="round"/>
<circle cx="373.3" cy="65.52" r="1.5" fill="#fff" fill-opacity="0.6" stroke="#cc33ff" stroke-opacity="0.5" stroke-width="0.55"/>
<path d="M402.48 58.62 L402.7 60.4 L401.77 61.84 L401.54 63.49 L401 65.05 L401.06 66.78 L399.76 68.12" fill="none" stroke="#57a8ff" stroke-width="1.9" fill="none" stroke-linejoin="round"/>
<circle cx="402.48" cy="58.62" r="1.5" fill="#fff" fill-opacity="0.6" stroke="#57a8ff" stroke-opacity="0.5" stroke-width="0.55"/>
<path d="M391.31 120.55 L392.08 119.17 L393.42 119.12 L395.99 121.92 L394.7 115.75 L396.22 116.11 L398.21 117.57" fill="none" stroke="#7887ff" stroke-width="1.9" fill="none" stroke-linejoin="round"/>
<circle cx="391.31" cy="120.55" r="1.5" fill="#fff" fill-opacity="0.6" stroke="#7887ff" stroke-opacity="0.5" stroke-width="0.55"/>
<path d="M351.84 100.12 L353.69 100.01 L355.6 100 L357.34 99.68 L358.45 98.22 L360.09 97.73 L360.65 95.28" fill="none" stroke="#c03fff" stroke-width="1.9" fill="none" stroke-linejoin="round"/>
<circle cx="351.84" cy="100.12" r="1.5" fill="#fff" fill-opacity="0.6" stroke="#c03fff" stroke-opacity="0.5" stroke-width="0.55"/>
<path d="M357.21 71.11 L358.73 71.67 L360.12 72.47 L361.68 72.93 L364.8 70.19 L365.03 73.38 L365.86 75.33" fill="none" stroke="#916eff" stroke-width="1.9" fill="none" stroke-linejoin="round"/>
<circle cx="357.21" cy="71.11" r="1.5" fill="#fff" fill-opacity="0.6" stroke="#916eff" stroke-opacity="0.5" stroke-width="0.55"/>
<path d="M357.51 102.9 L358.91 102.4 L360.34 102.23 L361.73 101.63 L363.14 101.29 L364.66 102.11 L366.1 102.09" fill="none" stroke="#06f9ff" stroke-width="1.9" fill="none" stroke-linejoin="round"/>
<circle cx="357.51" cy="102.9" r="1.5" fill="#fff" fill-opacity="0.6" stroke="#06f9ff" stroke-opacity="0.5" stroke-width="0.55"/>
<path d="M439.47 112.27 L437.86 112.4 L436.19 111.36 L434.62 112.69 L433.02 113.38 L431.37 112.75 L429.74 112.63" fill="none" stroke="#4eb1ff" stroke-width="1.9" fill="none" stroke-linejoin="round"/>
<circle cx="439.47" cy="112.27" r="1.5" fill="#fff" fill-opacity="0.6" stroke="#4eb1ff" stroke-opacity="0.5" stroke-width="0.55"/>
<path d="M383.58 67.06 L384.53 68.34 L384.77 69.78 L384.21 71.4 L381.78 73.45 L384.48 74.32 L385.54 75.57" fill="none" stroke="#7986ff" stroke-width="1.9" fill="none" stroke-linejoin="round"/>
<circle cx="383.58" cy="67.06" r="1.5" fill="#fff" fill-opacity="0.6" stroke="#7986ff" stroke-opacity="0.5" stroke-width="0.55"/>
<path d="M439.69 82.46 L438.38 82.83 L437.17 82.53 L435.99 82.05 L434.72 82.12 L433.44 82.3 L432.32 81.36" fill="none" stroke="#8778ff" stroke-width="1.9" fill="none" stroke-linejoin="round"/>
<circle cx="439.69" cy="82.46" r="1.5" fill="#fff" fill-opacity="0.6" stroke="#8778ff" stroke-opacity="0.5" stroke-width="0.55"/>
<path d="M422.54 87.01 L420.56 87.05 L420.71 89.34 L419 89.66 L415.39 87.97 L416.49 91.28 L416.15 93.04" fill="none" stroke="#21deff" stroke-width="1.9" fill="none" stroke-linejoin="round"/>
<circle cx="422.54" cy="87.01" r="1.5" fill="#fff" fill-opacity="0.6" stroke="#21deff" stroke-opacity="0.5" stroke-width="0.55"/>
<path d="M389.09 151.94 L388.05 150.59 L387.39 149.14 L387.15 147.56 L386.91 145.99 L386.69 144.41 L386.58 142.8" fill="none" stroke="#a25dff" stroke-width="1.9" fill="none" stroke-linejoin="round"/>
<circle cx="389.09" cy="151.94" r="1.5" fill="#fff" fill-opacity="0.6" stroke="#a25dff" stroke-opacity="0.5" stroke-width="0.55"/>
<path d="M354.5 91.26 L356.1 91.2 L357.45 89.02 L359.03 88.8 L360.68 89.09 L362.27 88.95 L364.02 90.11" fill="none" stroke="#847bff" stroke-width="1.9" fill="none" stroke-linejoin="round"/>
<circle cx="354.5" cy="91.26" r="1.5" fill="#fff" fill-opacity="0.6" stroke="#847bff" stroke-opacity="0.5" stroke-width="0.55"/>
<path d="M395.13 115.3 L396.33 115.42 L397.36 115.15 L398.47 115.08 L399.78 115.42 L400.07 113.52 L400.87 112.73" fill="none" stroke="#ac53ff" stroke-width="1.9" fill="none" stroke-linejoin="round"/>
<circle cx="395.13" cy="115.3" r="1.5" fill="#fff" fill-opacity="0.6" stroke="#ac53ff" stroke-opacity="0.5" stroke-width="0.55"/>
<path d="M416.94 44.77 L417.65 47.12 L414.85 47.61 L414.87 49.6 L415.94 52.14 L415.43 53.85 L412.04 54.03" fill="none" stroke="#7d82ff" stroke-width="1.9" fill="none" stroke-linejoin="round"/>
<circle cx="416.94" cy="44.77" r="1.5" fill="#fff" fill-opacity="0.6" stroke="#7d82ff" stroke-opacity="0.5" stroke-width="0.55"/>
<path d="M378.54 113.23 L379.18 111.95 L379.99 110.98 L380.54 109.55 L381.74 109.27 L384.41 111.61 L384.72 109.76" fill="none" stroke="#ca35ff" stroke-width="1.9" fill="none" stroke-linejoin="round"/>
<circle cx="378.54" cy="113.23" r="1.5" fill="#fff" fill-opacity="0.6" stroke="#ca35ff" stroke-opacity="0.5" stroke-width="0.55"/>
<path d="M439.65 119.55 L438.24 121 L437.02 119.87 L435.65 120.78 L434.36 120.43 L433.06 120.45 L431.85 119.01" fill="none" stroke="#12edff" stroke-width="1.9" fill="none" stroke-linejoin="round"/>
<circle cx="439.65" cy="119.55" r="1.5" fill="#fff" fill-opacity="0.6" stroke="#12edff" stroke-opacity="0.5" stroke-width="0.55"/>
<path d="M412.57 150 L412.54 148.01 L411.54 146.56 L410.7 145.02 L409.22 143.82 L409.28 141.78 L407.51 140.75" fill="none" stroke="#d827ff" stroke-width="1.9" fill="none" stroke-linejoin="round"/>
<circle cx="412.57" cy="150" r="1.5" fill="#fff" fill-opacity="0.6" stroke="#d827ff" stroke-opacity="0.5" stroke-width="0.55"/>
<path d="M377.09 119.84 L377.28 118.59 L377.69 117.49 L379.24 117.16 L380.72 116.78 L382.12 116.35 L380.92 114.16" fill="none" stroke="#8f70ff" stroke-width="1.9" fill="none" stroke-linejoin="round"/>
<circle cx="377.09" cy="119.84" r="1.5" fill="#fff" fill-opacity="0.6" stroke="#8f70ff" stroke-opacity="0.5" stroke-width="0.55"/>
<path d="M381.33 79.85 L381.65 82.21 L383.59 81.31 L384.76 81.95 L386.63 81.18 L387.64 82.14 L388.5 83.4" fill="none" stroke="#8877ff" stroke-width="1.9" fill="none" stroke-linejoin="round"/>
<circle cx="381.33" cy="79.85" r="1.5" fill="#fff" fill-opacity="0.6" stroke="#8877ff" stroke-opacity="0.5" stroke-width="0.55"/>
<path d="M421.45 67.82 L420.51 69.04 L421.04 71.04 L419.26 71.8 L417.58 72.62 L415.99 73.48 L417.14 75.83" fill="none" stroke="#a857ff" stroke-width="1.9" fill="none" stroke-linejoin="round"/>
<circle cx="421.45" cy="67.82" r="1.5" fill="#fff" fill-opacity="0.6" stroke="#a857ff" stroke-opacity="0.5" stroke-width="0.55"/>
<path d="M371.16 105.9 L371.46 107.84 L372.71 108.1 L373.51 109.13 L374.39 110.04 L375.45 110.62 L377.5 109.44" fill="none" stroke="#5ca3ff" stroke-width="1.9" fill="none" stroke-linejoin="round"/>
<circle cx="371.16" cy="105.9" r="1.5" fill="#fff" fill-opacity="0.6" stroke="#5ca3ff" stroke-opacity="0.5" stroke-width="0.55"/>
<path d="M359.42 101.19 L360.6 101.6 L361.29 100.34 L362.42 100.6 L363.48 100.6 L364.7 101.12 L365.27 99.46" fill="none" stroke="#c43bff" stroke-width="1.9" fill="none" stroke-linejoin="round"/>
<circle cx="359.42" cy="101.19" r="1.5" fill="#fff" fill-opacity="0.6" stroke="#c43bff" stroke-opacity="0.5" stroke-width="0.55"/>
<path d="M410.05 45.29 L407.67 46.3 L408.58 48.76 L407.4 50.3 L405.97 51.73 L408.98 55.11 L405.51 55.65" fill="none" stroke="#718eff" stroke-width="1.9" fill="none" stroke-linejoin="round"/>
<circle cx="410.05" cy="45.29" r="1.5" fill="#fff" fill-opacity="0.6" stroke="#718eff" stroke-opacity="0.5" stroke-width="0.55"/>
<path d="M411.14 97.15 L410.42 96.5 L409.1 96.92 L408.61 95.87 L408.09 94.86 L406.93 95.02 L406.2 94.38" fill="none" stroke="#19e6ff" stroke-width="1.9" fill="none" stroke-linejoin="round"/>
<circle cx="411.14" cy="97.15" r="1.5" fill="#fff" fill-opacity="0.6" stroke="#19e6ff" stroke-opacity="0.5" stroke-width="0.55"/>
<path d="M448.38 79.73 L446.52 79.88 L444.97 82.16 L442.83 80.46 L440.99 80.74 L439.32 82.24 L437.31 81.35" fill="none" stroke="#fa05ff" stroke-width="1.9" fill="none" stroke-linejoin="round"/>
<circle cx="448.38" cy="79.73" r="1.5" fill="#fff" fill-opacity="0.6" stroke="#fa05ff" stroke-opacity="0.5" stroke-width="0.55"/>
<path d="M355.3 138.77 L351.03 137.62 L353.84 135.45 L354.1 133.65 L353.23 132.01 L353.26 130.25 L353.82 128.4" fill="none" stroke="#7d82ff" stroke-width="1.9" fill="none" stroke-linejoin="round"/>
<circle cx="355.3" cy="138.77" r="1.5" fill="#fff" fill-opacity="0.6" stroke="#7d82ff" stroke-opacity="0.5" stroke-width="0.55"/>
<path d="M399.87 52.19 L400.26 54.12 L398.5 54.26 L397.9 55.35 L397.16 56.34 L395.88 56.87 L395.15 57.86" fill="none" stroke="#5ea1ff" stroke-width="1.9" fill="none" stroke-linejoin="round"/>
<circle cx="399.87" cy="52.19" r="1.5" fill="#fff" fill-opacity="0.6" stroke="#5ea1ff" stroke-opacity="0.5" stroke-width="0.55"/>
<path d="M430.11 142.98 L429.3 141.75 L429.03 140.33 L428.57 138.97 L425.94 138.39 L427.1 136.46 L427.24 134.9" fill="none" stroke="#aa55ff" stroke-width="1.9" fill="none" stroke-linejoin="round"/>
<circle cx="430.11" cy="142.98" r="1.5" fill="#fff" fill-opacity="0.6" stroke="#aa55ff" stroke-opacity="0.5" stroke-width="0.55"/>
<path d="M375.77 95.85 L376.79 96.65 L377.61 101.34 L378.91 97.11 L380.02 96.22 L381.02 97.56 L382.16 96.19" fill="none" stroke="#49b6ff" stroke-width="1.9" fill="none" stroke-linejoin="round"/>
<circle cx="375.77" cy="95.85" r="1.5" fill="#fff" fill-opacity="0.6" stroke="#49b6ff" stroke-opacity="0.5" stroke-width="0.55"/>
<path d="M429.57 77.95 L429.05 79.17 L428.44 80.27 L427.14 80.41 L424.47 78.65 L424.71 80.94 L424.04 81.94" fill="none" stroke="#df20ff" stroke-width="1.9" fill="none" stroke-linejoin="round"/>
<circle cx="429.57" cy="77.95" r="1.5" fill="#fff" fill-opacity="0.6" stroke="#df20ff" stroke-opacity="0.5" stroke-width="0.55"/>
<path d="M355.42 129.41 L357.38 129 L359.1 128.28 L360.81 127.54 L362.13 126.31 L366.97 129.62 L363.99 122.81" fill="none" stroke="#6c93ff" stroke-width="1.9" fill="none" stroke-linejoin="round"/>
<circle cx="355.42" cy="129.41" r="1.5" fill="#fff" fill-opacity="0.6" stroke="#6c93ff" stroke-opacity="0.5" stroke-width="0.55"/>
<path d="M430.25 117.45 L429.26 115.91 L427.66 116.54 L426.03 117.25 L425.1 115.5 L423.62 115.68 L422.33 115.18" fill="none" stroke="#f609ff" stroke-width="1.9" fill="none" stroke-linejoin="round"/>
<circle cx="430.25" cy="117.45" r="1.5" fill="#fff" fill-opacity="0.6" stroke="#f609ff" stroke-opacity="0.5" stroke-width="0.55"/>
<path d="M400.12 81.94 L401.76 83.33 L399.3 83.61 L400.19 84.79 L398.52 85.28 L399.05 86.36 L398.68 87.21" fill="none" stroke="#e51aff" stroke-width="1.9" fill="none" stroke-linejoin="round"/>
<circle cx="400.12" cy="81.94" r="1.5" fill="#fff" fill-opacity="0.6" stroke="#e51aff" stroke-opacity="0.5" stroke-width="0.55"/>
<path d="M369.29 136.14 L368.26 134.76 L369.46 132.52 L367.15 131.63 L366.96 129.93 L367.46 127.96 L365.75 126.84" fill="none" stroke="#e31cff" stroke-width="1.9" fill="none" stroke-linejoin="round"/>
<circle cx="369.29" cy="136.14" r="1.5" fill="#fff" fill-opacity="0.6" stroke="#e31cff" stroke-opacity="0.5" stroke-width="0.55"/>
<circle cx="394.8" cy="97.65" r="1.7" fill="none" stroke="#ff1a1a" stroke-width="0.9"/>
<rect x="214.4" y="39.5" width="117.1" height="116.3" fill="none" stroke="#2b2b2b" stroke-width="1"/>
<line x1="214.4" y1="155.8" x2="214.4" y2="154.3" stroke="#2b2b2b" stroke-width="0.7"/>
<line x1="214.4" y1="39.5" x2="214.4" y2="41" stroke="#2b2b2b" stroke-width="0.7"/>
<line x1="214.4" y1="155.8" x2="215.9" y2="155.8" stroke="#2b2b2b" stroke-width="0.7"/>
<line x1="331.5" y1="155.8" x2="330" y2="155.8" stroke="#2b2b2b" stroke-width="0.7"/>
<line x1="272.95" y1="155.8" x2="272.95" y2="154.3" stroke="#2b2b2b" stroke-width="0.7"/>
<line x1="272.95" y1="39.5" x2="272.95" y2="41" stroke="#2b2b2b" stroke-width="0.7"/>
<line x1="214.4" y1="97.65" x2="215.9" y2="97.65" stroke="#2b2b2b" stroke-width="0.7"/>
<line x1="331.5" y1="97.65" x2="330" y2="97.65" stroke="#2b2b2b" stroke-width="0.7"/>
<line x1="331.5" y1="155.8" x2="331.5" y2="154.3" stroke="#2b2b2b" stroke-width="0.7"/>
<line x1="331.5" y1="39.5" x2="331.5" y2="41" stroke="#2b2b2b" stroke-width="0.7"/>
<line x1="214.4" y1="39.5" x2="215.9" y2="39.5" stroke="#2b2b2b" stroke-width="0.7"/>
<line x1="331.5" y1="39.5" x2="330" y2="39.5" stroke="#2b2b2b" stroke-width="0.7"/>
<rect x="336.3" y="39.5" width="117" height="116.3" fill="none" stroke="#2b2b2b" stroke-width="1"/>
<line x1="336.3" y1="155.8" x2="336.3" y2="154.3" stroke="#2b2b2b" stroke-width="0.7"/>
<line x1="336.3" y1="39.5" x2="336.3" y2="41" stroke="#2b2b2b" stroke-width="0.7"/>
<line x1="336.3" y1="155.8" x2="337.8" y2="155.8" stroke="#2b2b2b" stroke-width="0.7"/>
<line x1="453.3" y1="155.8" x2="451.8" y2="155.8" stroke="#2b2b2b" stroke-width="0.7"/>
<line x1="394.8" y1="155.8" x2="394.8" y2="154.3" stroke="#2b2b2b" stroke-width="0.7"/>
<line x1="394.8" y1="39.5" x2="394.8" y2="41" stroke="#2b2b2b" stroke-width="0.7"/>
<line x1="336.3" y1="97.65" x2="337.8" y2="97.65" stroke="#2b2b2b" stroke-width="0.7"/>
<line x1="453.3" y1="97.65" x2="451.8" y2="97.65" stroke="#2b2b2b" stroke-width="0.7"/>
<line x1="453.3" y1="155.8" x2="453.3" y2="154.3" stroke="#2b2b2b" stroke-width="0.7"/>
<line x1="453.3" y1="39.5" x2="453.3" y2="41" stroke="#2b2b2b" stroke-width="0.7"/>
<line x1="336.3" y1="39.5" x2="337.8" y2="39.5" stroke="#2b2b2b" stroke-width="0.7"/>
<line x1="453.3" y1="39.5" x2="451.8" y2="39.5" stroke="#2b2b2b" stroke-width="0.7"/>
<text x="213.4" y="41.9" font-size="7.8" text-anchor="end" fill="#222" stroke="#222" stroke-width="0.18">150</text>
<text x="454.8" y="41.9" font-size="7.8" text-anchor="start" fill="#222" stroke="#222" stroke-width="0.18">150</text>
<text x="213.4" y="100.05" font-size="7.8" text-anchor="end" fill="#222" stroke="#222" stroke-width="0.18">0</text>
<text x="454.8" y="100.05" font-size="7.8" text-anchor="start" fill="#222" stroke="#222" stroke-width="0.18">0</text>
<text x="213.4" y="158.2" font-size="7.8" text-anchor="end" fill="#222" stroke="#222" stroke-width="0.18">-150</text>
<text x="454.8" y="158.2" font-size="7.8" text-anchor="start" fill="#222" stroke="#222" stroke-width="0.18">-150</text>
<text x="219.8" y="157.6" font-size="7.8" text-anchor="end" fill="#222" transform="rotate(-90 219.8 157.6)" stroke="#222" stroke-width="0.18">-150</text>
<text x="275.55" y="157.6" font-size="7.8" text-anchor="end" fill="#222" transform="rotate(-90 275.55 157.6)" stroke="#222" stroke-width="0.18">0</text>
<text x="331.2" y="157.6" font-size="7.8" text-anchor="end" fill="#222" transform="rotate(-90 331.2 157.6)" stroke="#222" stroke-width="0.18">150</text>
<text x="341.7" y="157.6" font-size="7.8" text-anchor="end" fill="#222" transform="rotate(-90 341.7 157.6)" stroke="#222" stroke-width="0.18">-150</text>
<text x="397.4" y="157.6" font-size="7.8" text-anchor="end" fill="#222" transform="rotate(-90 397.4 157.6)" stroke="#222" stroke-width="0.18">0</text>
<text x="453" y="157.6" font-size="7.8" text-anchor="end" fill="#222" transform="rotate(-90 453 157.6)" stroke="#222" stroke-width="0.18">150</text>
<line x1="216.7" y1="184.6" x2="216.7" y2="197.6" stroke="#333" stroke-width="0.7"/>
<line x1="216.7" y1="197.6" x2="230" y2="197.6" stroke="#333" stroke-width="0.7"/>
<path d="M231.2 197.6 L229 196.6 L229 198.6 Z" fill="#333" stroke="none" stroke-width="1"/>
<path d="M216.7 183.6 L215.8 185.6 L217.6 185.6 Z" fill="#333" stroke="none" stroke-width="1"/>
<text x="218.6" y="185.3" font-size="7.4" text-anchor="start" fill="#222" stroke="#222" stroke-width="0.18"><tspan font-style="italic">y</tspan> (µm)</text>
<text x="232.4" y="197.6" font-size="7.4" text-anchor="start" fill="#222" stroke="#222" stroke-width="0.18"><tspan font-style="italic">x</tspan> (µm)</text>
<rect x="277.7" y="185" width="170.1" height="3.8" fill="url(#cbar)" stroke="none" stroke-width="1"/>
<text x="277.6" y="197" font-size="7.4" text-anchor="start" fill="#222" stroke="#222" stroke-width="0.18">0.8</text>
<text x="447.8" y="197" font-size="7.4" text-anchor="end" fill="#222" stroke="#222" stroke-width="0.18">2.8</text>
<text x="362.8" y="197" font-size="7.45" text-anchor="middle" fill="#222" stroke="#222" stroke-width="0.18">Diameter of AgDD aggregates (µm)</text>
<text x="467.3" y="13.4" font-size="18.2" text-anchor="start" fill="#000" font-weight="bold" stroke="#000" stroke-width="0.18">C</text>
<clipPath id="clipC"><rect x="507.5" y="29.5" width="172.2" height="143"/></clipPath>
<g clip-path="url(#clipC)">
<path d="M507.5 136.75 L516.11 138.27 L524.72 139.64 L533.33 132.08 L541.94 139.08 L550.55 135.51 L559.16 142.32 L567.77 132.64 L576.38 127.37 L584.99 116.42 L593.6 114.63 L602.21 108.4 L610.82 105.53 L619.43 104.88 L628.04 99.89 L636.65 101.8 L645.26 99.27 L653.87 91.57 L662.48 87.01 L671.09 84.76 L679.7 69.72" fill="none" stroke="#f39a9a" stroke-width="0.85" fill="none" stroke-opacity="0.8"/>
<path d="M507.5 136.75 L516.11 134.69 L524.72 135.78 L533.33 133.17 L541.94 133.86 L550.55 133.82 L559.16 133.52 L567.77 121.46 L576.38 119.14 L584.99 115.96 L593.6 110.23 L602.21 97.79 L610.82 96.25 L619.43 96.57 L628.04 81.57 L636.65 85.81 L645.26 84.61 L653.87 78.26 L662.48 63.91 L671.09 65.43 L679.7 74.19" fill="none" stroke="#f39a9a" stroke-width="0.85" fill="none" stroke-opacity="0.8"/>
<path d="M507.5 136.75 L516.11 131.51 L524.72 132.09 L533.33 132 L541.94 127.75 L550.55 124.66 L559.16 121.24 L567.77 121.37 L576.38 113.05 L584.99 103.66 L593.6 101.52 L602.21 101.75 L610.82 96.16 L619.43 91.82 L628.04 94.95 L636.65 95.22 L645.26 88.08 L653.87 86.56 L662.48 86.19 L671.09 83.16 L679.7 81.34" fill="none" stroke="#f39a9a" stroke-width="0.85" fill="none" stroke-opacity="0.8"/>
<path d="M507.5 136.75 L516.11 137.88 L524.72 148.47 L533.33 140.9 L541.94 140.88 L550.55 146.05 L559.16 141.96 L567.77 141.03 L576.38 141.38 L584.99 136.49 L593.6 125.46 L602.21 122.66 L610.82 114.6 L619.43 103.57 L628.04 108 L636.65 109.85 L645.26 105.18 L653.87 112.62 L662.48 112.9 L671.09 105.46 L679.7 99.21" fill="none" stroke="#f39a9a" stroke-width="0.85" fill="none" stroke-opacity="0.8"/>
<path d="M507.5 136.75 L516.11 131.33 L524.72 138.07 L533.33 123.95 L541.94 118.67 L550.55 112.32 L559.16 107.32 L567.77 113.18 L576.38 117.66 L584.99 121.07 L593.6 109.07 L602.21 110.58 L610.82 109.2 L619.43 107.88 L628.04 102.5 L636.65 97.47 L645.26 93.58 L653.87 97.21 L662.48 110.07 L671.09 106.68 L679.7 102.79" fill="none" stroke="#f39a9a" stroke-width="0.85" fill="none" stroke-opacity="0.8"/>
<path d="M507.5 136.75 L516.11 130.04 L524.72 129.85 L533.33 132.08 L541.94 129.2 L550.55 135.85 L559.16 139.82 L567.77 143.43 L576.38 140.49 L584.99 128.48 L593.6 122.78 L602.21 114.99 L610.82 111.43 L619.43 107.46 L628.04 106.88 L636.65 105.29 L645.26 114.1 L653.87 116.76 L662.48 119.73 L671.09 112.19 L679.7 105.47" fill="none" stroke="#f39a9a" stroke-width="0.85" fill="none" stroke-opacity="0.8"/>
<path d="M507.5 136.75 L516.11 131.44 L524.72 124.07 L533.33 125.82 L541.94 120.84 L550.55 111.36 L559.16 111.46 L567.77 106.09 L576.38 106.77 L584.99 114.46 L593.6 113.53 L602.21 117.12 L610.82 116.02 L619.43 117.63 L628.04 115.29 L636.65 124.95 L645.26 113.77 L653.87 106.09 L662.48 106.77 L671.09 110.16 L679.7 109.04" fill="none" stroke="#f39a9a" stroke-width="0.85" fill="none" stroke-opacity="0.8"/>
<path d="M507.5 136.75 L516.11 133.64 L524.72 131.71 L533.33 129.76 L541.94 139.29 L550.55 144.46 L559.16 137.19 L567.77 135.02 L576.38 141.16 L584.99 143.71 L593.6 148.72 L602.21 151.23 L610.82 142.53 L619.43 140.35 L628.04 131.16 L636.65 126.29 L645.26 129.54 L653.87 128.3 L662.48 112.25 L671.09 111.31 L679.7 111.72" fill="none" stroke="#f39a9a" stroke-width="0.85" fill="none" stroke-opacity="0.8"/>
<path d="M507.5 136.75 L516.11 130.23 L524.72 129.4 L533.33 129 L541.94 121.16 L550.55 129.35 L559.16 126.52 L567.77 130.92 L576.38 136.91 L584.99 139.78 L593.6 132.63 L602.21 131.77 L610.82 139.24 L619.43 142.91 L628.04 133.2 L636.65 125.87 L645.26 129.02 L653.87 114.43 L662.48 113.76 L671.09 117.2 L679.7 115.3" fill="none" stroke="#f39a9a" stroke-width="0.85" fill="none" stroke-opacity="0.8"/>
<path d="M507.5 136.75 L516.11 132.27 L524.72 124.33 L533.33 119.18 L541.94 121.14 L550.55 123.52 L559.16 130.08 L567.77 129.34 L576.38 130.84 L584.99 127.69 L593.6 131.7 L602.21 131.5 L610.82 132.7 L619.43 135.1 L628.04 137.02 L636.65 137.74 L645.26 138.98 L653.87 131.15 L662.48 125.49 L671.09 126.82 L679.7 118.88" fill="none" stroke="#f39a9a" stroke-width="0.85" fill="none" stroke-opacity="0.8"/>
<path d="M507.5 136.75 L516.11 137.25 L524.72 131.81 L533.33 134.59 L541.94 137.3 L550.55 142.25 L559.16 142.89 L567.77 141.42 L576.38 141.28 L584.99 143 L593.6 140.31 L602.21 139.68 L610.82 137.97 L619.43 141.9 L628.04 139.83 L636.65 143.55 L645.26 146.29 L653.87 143.79 L662.48 131.37 L671.09 124.44 L679.7 122.45" fill="none" stroke="#f39a9a" stroke-width="0.85" fill="none" stroke-opacity="0.8"/>
<path d="M507.5 136.75 L516.11 137.35 L524.72 132.04 L533.33 124.68 L541.94 118.04 L550.55 118.34 L559.16 116.6 L567.77 117.29 L576.38 117.56 L584.99 120.48 L593.6 120.15 L602.21 129.16 L610.82 133.16 L619.43 128.78 L628.04 131.01 L636.65 125.68 L645.26 129.41 L653.87 128.37 L662.48 123.38 L671.09 125.53 L679.7 126.03" fill="none" stroke="#f39a9a" stroke-width="0.85" fill="none" stroke-opacity="0.8"/>
<path d="M507.5 136.75 L516.11 126.49 L524.72 132.03 L533.33 137.6 L541.94 142.35 L550.55 143.85 L559.16 145.43 L567.77 141.65 L576.38 138.55 L584.99 141.14 L593.6 143.17 L602.21 150.2 L610.82 157.3 L619.43 160.29 L628.04 155.59 L636.65 153.69 L645.26 148.13 L653.87 141.67 L662.48 140.63 L671.09 128.1 L679.7 128.71" fill="none" stroke="#f39a9a" stroke-width="0.85" fill="none" stroke-opacity="0.8"/>
<path d="M507.5 136.75 L516.11 144.01 L524.72 150.2 L533.33 148.32 L541.94 152.56 L550.55 159.46 L559.16 160.04 L567.77 156.6 L576.38 158.88 L584.99 161.27 L593.6 156.33 L602.21 151.29 L610.82 145.83 L619.43 148.37 L628.04 145.1 L636.65 140.93 L645.26 147.18 L653.87 137.99 L662.48 134.07 L671.09 132.17 L679.7 117.09" fill="none" stroke="#f39a9a" stroke-width="0.85" fill="none" stroke-opacity="0.8"/>
<path d="M507.5 136.75 L516.11 129.3 L524.72 125.67 L533.33 119.21 L541.94 110.09 L550.55 99.98 L559.16 93.81 L567.77 91.32 L576.38 88.25 L584.99 85.88 L593.6 84.71 L602.21 79.19 L610.82 75.91 L619.43 70.41 L628.04 68.92 L636.65 67.75 L645.26 63.72 L653.87 60.52 L662.48 50.81 L671.09 50.17 L679.7 44.69" fill="none" stroke="#9dbddc" stroke-width="0.85" fill="none" stroke-opacity="0.85"/>
<path d="M507.5 136.75 L516.11 130.39 L524.72 129.6 L533.33 119.95 L541.94 112.83 L550.55 115.74 L559.16 106.95 L567.77 96.83 L576.38 94.47 L584.99 81.36 L593.6 75.17 L602.21 74.88 L610.82 67.25 L619.43 63.83 L628.04 64.85 L636.65 69.54 L645.26 63.9 L653.87 62.65 L662.48 55.44 L671.09 49.41 L679.7 47.38" fill="none" stroke="#9dbddc" stroke-width="0.85" fill="none" stroke-opacity="0.85"/>
<path d="M507.5 136.75 L516.11 135.5 L524.72 124.22 L533.33 113.25 L541.94 106.55 L550.55 104.8 L559.16 105.91 L567.77 104.55 L576.38 94.39 L584.99 89.65 L593.6 88.38 L602.21 91.37 L610.82 88.45 L619.43 90.26 L628.04 88.34 L636.65 83.36 L645.26 77.08 L653.87 74.96 L662.48 75.04 L671.09 72.68 L679.7 63.46" fill="none" stroke="#9dbddc" stroke-width="0.85" fill="none" stroke-opacity="0.85"/>
<path d="M507.5 136.75 L516.11 131.07 L524.72 133.18 L533.33 122.44 L541.94 117.47 L550.55 98.49 L559.16 96.89 L567.77 93.79 L576.38 91.74 L584.99 86.91 L593.6 86.43 L602.21 90.05 L610.82 95.78 L619.43 93.83 L628.04 93.74 L636.65 94.08 L645.26 82.76 L653.87 77.33 L662.48 70.69 L671.09 71.04 L679.7 67.93" fill="none" stroke="#9dbddc" stroke-width="0.85" fill="none" stroke-opacity="0.85"/>
<path d="M507.5 136.75 L516.11 133.69 L524.72 130.62 L533.33 123.47 L541.94 117.01 L550.55 111.97 L559.16 107.73 L567.77 110.57 L576.38 110.49 L584.99 105.7 L593.6 104.34 L602.21 104.96 L610.82 100.8 L619.43 102.39 L628.04 103.04 L636.65 97.06 L645.26 96.61 L653.87 88.48 L662.48 84.37 L671.09 79.07 L679.7 72.4" fill="none" stroke="#9dbddc" stroke-width="0.85" fill="none" stroke-opacity="0.85"/>
<path d="M507.5 136.75 L516.11 141.99 L524.72 138.19 L533.33 139.72 L541.94 137.73 L550.55 134.27 L559.16 125.07 L567.77 121.61 L576.38 110.98 L584.99 109.95 L593.6 107.05 L602.21 103.68 L610.82 96.77 L619.43 94.37 L628.04 94.58 L636.65 93.69 L645.26 97.58 L653.87 90 L662.48 84.73 L671.09 80.9 L679.7 77.76" fill="none" stroke="#9dbddc" stroke-width="0.85" fill="none" stroke-opacity="0.85"/>
<path d="M507.5 136.75 L516.11 136.35 L524.72 135.11 L533.33 128.65 L541.94 129.22 L550.55 129.86 L559.16 120.36 L567.77 111.09 L576.38 107.48 L584.99 102.99 L593.6 100.18 L602.21 92.17 L610.82 92.44 L619.43 90.6 L628.04 87.18 L636.65 79.75 L645.26 79.77 L653.87 77.81 L662.48 79.06 L671.09 81.08 L679.7 83.12" fill="none" stroke="#9dbddc" stroke-width="0.85" fill="none" stroke-opacity="0.85"/>
<path d="M507.5 136.75 L516.11 131.96 L524.72 123.71 L533.33 122.36 L541.94 120.69 L550.55 118.28 L559.16 112.71 L567.77 105.79 L576.38 107.45 L584.99 102.34 L593.6 103.25 L602.21 96.94 L610.82 98.05 L619.43 99.84 L628.04 100.2 L636.65 97.88 L645.26 99.71 L653.87 96.44 L662.48 93.53 L671.09 90.95 L679.7 87.59" fill="none" stroke="#9dbddc" stroke-width="0.85" fill="none" stroke-opacity="0.85"/>
<path d="M507.5 136.75 L516.11 129.49 L524.72 129.18 L533.33 125.76 L541.94 122.56 L550.55 128.19 L559.16 123.42 L567.77 123.78 L576.38 124.07 L584.99 123.36 L593.6 120.48 L602.21 116.78 L610.82 112.58 L619.43 113.63 L628.04 108.85 L636.65 105.4 L645.26 105.57 L653.87 104.24 L662.48 99.45 L671.09 96.31 L679.7 92.06" fill="none" stroke="#9dbddc" stroke-width="0.85" fill="none" stroke-opacity="0.85"/>
<path d="M507.5 136.75 L516.11 133.89 L524.72 126.61 L533.33 114.74 L541.94 110.54 L550.55 115.28 L559.16 105.85 L567.77 106.43 L576.38 110.65 L584.99 119.28 L593.6 116.08 L602.21 110.18 L610.82 104.85 L619.43 105.64 L628.04 98.73 L636.65 98.5 L645.26 100.61 L653.87 99.99 L662.48 98.82 L671.09 98.42 L679.7 96.53" fill="none" stroke="#9dbddc" stroke-width="0.85" fill="none" stroke-opacity="0.85"/>
<path d="M507.5 136.75 L516.11 142.31 L524.72 131.76 L533.33 130.45 L541.94 123.97 L550.55 123.83 L559.16 119.68 L567.77 117.13 L576.38 120.76 L584.99 116.13 L593.6 110.6 L602.21 112.75 L610.82 119.29 L619.43 119.77 L628.04 121.24 L636.65 118.78 L645.26 116.98 L653.87 108.3 L662.48 103.83 L671.09 103.3 L679.7 101" fill="none" stroke="#9dbddc" stroke-width="0.85" fill="none" stroke-opacity="0.85"/>
<path d="M507.5 136.75 L516.11 146.65 L524.72 148.1 L533.33 149.67 L541.94 147.83 L550.55 144.26 L559.16 141.27 L567.77 135.32 L576.38 136.51 L584.99 133.58 L593.6 132.71 L602.21 131.39 L610.82 128.93 L619.43 129.22 L628.04 127.54 L636.65 127.07 L645.26 122.19 L653.87 122.28 L662.48 120.66 L671.09 109.27 L679.7 106.36" fill="none" stroke="#9dbddc" stroke-width="0.85" fill="none" stroke-opacity="0.85"/>
<path d="M507.5 136.75 L516.11 132.59 L524.72 126.04 L533.33 128.48 L541.94 123.64 L550.55 118.73 L559.16 115.27 L567.77 109.67 L576.38 105.03 L584.99 98.82 L593.6 100.64 L602.21 98.03 L610.82 99.79 L619.43 94.06 L628.04 93.22 L636.65 98.67 L645.26 98.21 L653.87 102.61 L662.48 98.6 L671.09 100.29 L679.7 109.94" fill="none" stroke="#9dbddc" stroke-width="0.85" fill="none" stroke-opacity="0.85"/>
<path d="M508 136.3 L517.1 132.9 L527.2 126.2 L537.3 119.4 L550.8 116.1 L564.2 111 L581 107 L594.5 105.3 L611.3 97.6 L624.8 94.2 L638.2 90.8 L655.1 85.8 L671.9 82.4 L680.3 81.4" fill="none" stroke="#4a7fb3" stroke-width="3.4" fill="none" stroke-linejoin="round"/>
<path d="M508 136.3 L517 137.3 L530.6 138.8 L547.4 136.3 L564.2 132.2 L581 128.5 L597.9 126.2 L611.3 121.1 L628.1 117.1 L645 113.7 L661.8 109.4 L680.3 107" fill="none" stroke="#e44848" stroke-width="3.4" fill="none" stroke-linejoin="round"/>
</g>
<rect x="511.5" y="32.5" width="132.8" height="23.8" fill="#fff" stroke="#333" stroke-width="0.9"/>
<line x1="513" y1="38.2" x2="522" y2="38.2" stroke="#4a7fb3" stroke-width="1.2"/>
<line x1="513" y1="49.2" x2="522" y2="49.2" stroke="#e86060" stroke-width="1.6"/>
<text x="525.4" y="40.9" font-size="8.8" text-anchor="start" fill="#222" stroke="#222" stroke-width="0.18">Largest 10% (1.9 ± 0.03 µm)</text>
<text x="525.4" y="52" font-size="8.8" text-anchor="start" fill="#222" stroke="#222" stroke-width="0.18">Smallest 10% (1.1 ± 0.03 µm)</text>
<rect x="507.5" y="29.5" width="172.2" height="143" fill="none" stroke="#2b2b2b" stroke-width="1"/>
<line x1="507.5" y1="172.5" x2="507.5" y2="170.5" stroke="#2b2b2b" stroke-width="0.8"/>
<line x1="507.5" y1="29.5" x2="507.5" y2="31.5" stroke="#2b2b2b" stroke-width="0.8"/>
<text x="507.5" y="182.7" font-size="9.3" text-anchor="middle" fill="#222" stroke="#222" stroke-width="0.18">0</text>
<line x1="550.55" y1="172.5" x2="550.55" y2="170.5" stroke="#2b2b2b" stroke-width="0.8"/>
<line x1="550.55" y1="29.5" x2="550.55" y2="31.5" stroke="#2b2b2b" stroke-width="0.8"/>
<text x="550.55" y="182.7" font-size="9.3" text-anchor="middle" fill="#222" stroke="#222" stroke-width="0.18">5</text>
<line x1="593.6" y1="172.5" x2="593.6" y2="170.5" stroke="#2b2b2b" stroke-width="0.8"/>
<line x1="593.6" y1="29.5" x2="593.6" y2="31.5" stroke="#2b2b2b" stroke-width="0.8"/>
<text x="593.6" y="182.7" font-size="9.3" text-anchor="middle" fill="#222" stroke="#222" stroke-width="0.18">10</text>
<line x1="636.65" y1="172.5" x2="636.65" y2="170.5" stroke="#2b2b2b" stroke-width="0.8"/>
<line x1="636.65" y1="29.5" x2="636.65" y2="31.5" stroke="#2b2b2b" stroke-width="0.8"/>
<text x="636.65" y="182.7" font-size="9.3" text-anchor="middle" fill="#222" stroke="#222" stroke-width="0.18">15</text>
<line x1="679.7" y1="172.5" x2="679.7" y2="170.5" stroke="#2b2b2b" stroke-width="0.8"/>
<line x1="679.7" y1="29.5" x2="679.7" y2="31.5" stroke="#2b2b2b" stroke-width="0.8"/>
<text x="679.7" y="182.7" font-size="9.3" text-anchor="middle" fill="#222" stroke="#222" stroke-width="0.18">20</text>
<line x1="507.5" y1="172.5" x2="509.5" y2="172.5" stroke="#2b2b2b" stroke-width="0.8"/>
<line x1="679.7" y1="172.5" x2="677.7" y2="172.5" stroke="#2b2b2b" stroke-width="0.8"/>
<text x="505.7" y="175.4" font-size="9.3" text-anchor="end" fill="#222" stroke="#222" stroke-width="0.18">-40</text>
<line x1="507.5" y1="154.62" x2="509.5" y2="154.62" stroke="#2b2b2b" stroke-width="0.8"/>
<line x1="679.7" y1="154.62" x2="677.7" y2="154.62" stroke="#2b2b2b" stroke-width="0.8"/>
<text x="505.7" y="157.53" font-size="9.3" text-anchor="end" fill="#222" stroke="#222" stroke-width="0.18">-20</text>
<line x1="507.5" y1="136.75" x2="509.5" y2="136.75" stroke="#2b2b2b" stroke-width="0.8"/>
<line x1="679.7" y1="136.75" x2="677.7" y2="136.75" stroke="#2b2b2b" stroke-width="0.8"/>
<text x="505.7" y="139.65" font-size="9.3" text-anchor="end" fill="#222" stroke="#222" stroke-width="0.18">0</text>
<line x1="507.5" y1="118.88" x2="509.5" y2="118.88" stroke="#2b2b2b" stroke-width="0.8"/>
<line x1="679.7" y1="118.88" x2="677.7" y2="118.88" stroke="#2b2b2b" stroke-width="0.8"/>
<text x="505.7" y="121.78" font-size="9.3" text-anchor="end" fill="#222" stroke="#222" stroke-width="0.18">20</text>
<line x1="507.5" y1="101" x2="509.5" y2="101" stroke="#2b2b2b" stroke-width="0.8"/>
<line x1="679.7" y1="101" x2="677.7" y2="101" stroke="#2b2b2b" stroke-width="0.8"/>
<text x="505.7" y="103.9" font-size="9.3" text-anchor="end" fill="#222" stroke="#222" stroke-width="0.18">40</text>
<line x1="507.5" y1="83.12" x2="509.5" y2="83.12" stroke="#2b2b2b" stroke-width="0.8"/>
<line x1="679.7" y1="83.12" x2="677.7" y2="83.12" stroke="#2b2b2b" stroke-width="0.8"/>
<text x="505.7" y="86.03" font-size="9.3" text-anchor="end" fill="#222" stroke="#222" stroke-width="0.18">60</text>
<line x1="507.5" y1="65.25" x2="509.5" y2="65.25" stroke="#2b2b2b" stroke-width="0.8"/>
<line x1="679.7" y1="65.25" x2="677.7" y2="65.25" stroke="#2b2b2b" stroke-width="0.8"/>
<text x="505.7" y="68.15" font-size="9.3" text-anchor="end" fill="#222" stroke="#222" stroke-width="0.18">80</text>
<line x1="507.5" y1="47.38" x2="509.5" y2="47.38" stroke="#2b2b2b" stroke-width="0.8"/>
<line x1="679.7" y1="47.38" x2="677.7" y2="47.38" stroke="#2b2b2b" stroke-width="0.8"/>
<text x="505.7" y="50.27" font-size="9.3" text-anchor="end" fill="#222" stroke="#222" stroke-width="0.18">100</text>
<line x1="507.5" y1="29.5" x2="509.5" y2="29.5" stroke="#2b2b2b" stroke-width="0.8"/>
<line x1="679.7" y1="29.5" x2="677.7" y2="29.5" stroke="#2b2b2b" stroke-width="0.8"/>
<text x="505.7" y="32.4" font-size="9.3" text-anchor="end" fill="#222" stroke="#222" stroke-width="0.18">120</text>
<text x="593.7" y="198.4" font-size="10.3" text-anchor="middle" fill="#222" stroke="#222" stroke-width="0.18">Elapsed time (minutes)</text>
<text x="485.3" y="100.9" font-size="10.3" text-anchor="middle" fill="#222" transform="rotate(-90 485.3 100.9)" stroke="#222" stroke-width="0.18">Travel distance to MTOC (µm)</text>
<text x="0.5" y="221.6" font-size="18.2" text-anchor="start" fill="#000" font-weight="bold" stroke="#000" stroke-width="0.18">D</text>
<clipPath id="clip140634828842736"><rect x="33" y="238.5" width="189.3" height="162.5"/></clipPath>
<clipPath id="clip140634828842688"><rect x="247.6" y="238.6" width="189.8" height="162.3"/></clipPath>
<g clip-path="url(#clip140634828842736)">
<path d="M48.6 409.12 L48.66 407.66 L48.72 406.2 L48.79 404.74 L48.86 403.27 L48.93 401.81 L49.01 400.35 L49.08 398.89 L49.16 397.43 L49.24 395.96 L49.32 394.5 L49.4 393.04 L49.48 391.57 L49.56 390.11 L49.65 388.65 L49.73 387.19 L49.81 385.73 L49.89 384.26 L49.96 382.8 L50.03 381.34 L50.1 379.88 L50.16 378.41 L50.22 376.95 L50.26 375.49 L50.3 374.02 L50.29 372.56 L50.24 371.1 L50.17 369.64 L50.09 368.18 L50 366.71 L49.91 365.25 L49.8 363.79 L49.7 362.32 L49.59 360.86 L49.49 359.4 L49.38 357.94 L49.28 356.48 L49.17 355.01 L49.07 353.55 L48.98 352.09 L48.88 350.62 L48.79 349.16 L48.71 347.7 L48.62 346.24 L48.54 344.77 L48.47 343.31 L48.4 341.85 L48.34 340.39 L48.27 338.93 L48.22 337.46 L48.16 336 L48.11 334.54 L48.07 333.07 L48.02 331.61 L47.98 330.15 L47.95 328.69 L47.91 327.23 L47.88 325.76 L47.86 324.3 L47.83 322.84 L47.83 321.38 L47.83 319.91 L47.83 318.45 L47.83 316.99 L47.83 315.52 L47.83 314.06 L47.83 312.6 L47.83 311.14 L47.83 309.68 L47.83 308.21 L47.83 306.75 L47.83 305.29 L47.83 303.82 L47.83 302.36 L47.83 300.9 L47.83 299.44 L47.83 297.98 L47.83 296.51 L47.83 295.05 L47.83 293.59 L47.83 292.12 L47.38 292.12 L47.38 293.59 L47.38 295.05 L47.38 296.51 L47.38 297.98 L47.38 299.44 L47.38 300.9 L47.38 302.36 L47.38 303.82 L47.38 305.29 L47.38 306.75 L47.38 308.21 L47.38 309.68 L47.38 311.14 L47.38 312.6 L47.38 314.06 L47.38 315.52 L47.38 316.99 L47.38 318.45 L47.38 319.91 L47.38 321.38 L47.38 322.84 L47.35 324.3 L47.32 325.76 L47.29 327.23 L47.26 328.69 L47.22 330.15 L47.18 331.61 L47.14 333.07 L47.09 334.54 L47.04 336 L46.99 337.46 L46.93 338.93 L46.87 340.39 L46.81 341.85 L46.74 343.31 L46.66 344.77 L46.58 346.24 L46.5 347.7 L46.41 349.16 L46.32 350.62 L46.23 352.09 L46.13 353.55 L46.03 355.01 L45.93 356.48 L45.83 357.94 L45.72 359.4 L45.61 360.86 L45.51 362.32 L45.4 363.79 L45.3 365.25 L45.2 366.71 L45.11 368.18 L45.03 369.64 L44.97 371.1 L44.92 372.56 L44.91 374.02 L44.94 375.49 L44.99 376.95 L45.04 378.41 L45.1 379.88 L45.17 381.34 L45.24 382.8 L45.32 384.26 L45.4 385.73 L45.48 387.19 L45.56 388.65 L45.64 390.11 L45.73 391.57 L45.81 393.04 L45.89 394.5 L45.97 395.96 L46.05 397.43 L46.13 398.89 L46.2 400.35 L46.27 401.81 L46.35 403.27 L46.42 404.74 L46.48 406.2 L46.55 407.66 L46.61 409.12 Z" fill="#c4e0a4" stroke="#8c9a84" stroke-width="0.45"/>
<path d="M65.88 409.12 L65.95 406.89 L66.02 404.66 L66.09 402.42 L66.16 400.19 L66.23 397.95 L66.3 395.72 L66.37 393.48 L66.44 391.25 L66.51 389.02 L66.58 386.78 L66.65 384.55 L66.72 382.31 L66.79 380.08 L66.86 377.84 L66.93 375.61 L67 373.38 L67.07 371.14 L67.13 368.91 L67.2 366.67 L67.27 364.44 L67.33 362.2 L67.39 359.97 L67.45 357.73 L67.5 355.5 L67.55 353.27 L67.59 351.03 L67.61 348.8 L67.61 346.56 L67.6 344.33 L67.58 342.09 L67.55 339.86 L67.51 337.62 L67.48 335.39 L67.43 333.16 L67.39 330.92 L67.35 328.69 L67.31 326.45 L67.26 324.22 L67.22 321.98 L67.17 319.75 L67.12 317.52 L67.08 315.28 L67.03 313.05 L66.99 310.81 L66.94 308.58 L66.89 306.34 L66.85 304.11 L66.8 301.88 L66.75 299.64 L66.71 297.41 L66.66 295.17 L66.61 292.94 L66.56 290.7 L66.52 288.47 L66.47 286.23 L66.42 284 L66.38 281.77 L66.33 279.53 L66.28 277.3 L66.23 275.06 L66.19 272.83 L66.14 270.59 L66.09 268.36 L66.04 266.12 L66 263.89 L65.95 261.66 L65.9 259.42 L65.85 257.19 L65.81 254.95 L65.76 252.72 L65.71 250.48 L65.67 248.25 L65.62 246.02 L65.57 243.78 L65.52 241.55 L65.48 239.31 L65.43 237.08 L65.38 234.84 L65.33 232.61 L65.29 230.38 L64.54 230.38 L64.49 232.61 L64.44 234.84 L64.39 237.08 L64.35 239.31 L64.3 241.55 L64.25 243.78 L64.2 246.02 L64.16 248.25 L64.11 250.48 L64.06 252.72 L64.01 254.95 L63.97 257.19 L63.92 259.42 L63.87 261.66 L63.82 263.89 L63.78 266.12 L63.73 268.36 L63.68 270.59 L63.63 272.83 L63.59 275.06 L63.54 277.3 L63.49 279.53 L63.45 281.77 L63.4 284 L63.35 286.23 L63.3 288.47 L63.26 290.7 L63.21 292.94 L63.16 295.17 L63.12 297.41 L63.07 299.64 L63.02 301.88 L62.98 304.11 L62.93 306.34 L62.88 308.58 L62.84 310.81 L62.79 313.05 L62.74 315.28 L62.7 317.52 L62.65 319.75 L62.61 321.98 L62.56 324.22 L62.52 326.45 L62.47 328.69 L62.43 330.92 L62.39 333.16 L62.35 335.39 L62.31 337.62 L62.27 339.86 L62.24 342.09 L62.22 344.33 L62.21 346.56 L62.21 348.8 L62.24 351.03 L62.27 353.27 L62.32 355.5 L62.37 357.73 L62.43 359.97 L62.49 362.2 L62.55 364.44 L62.62 366.67 L62.69 368.91 L62.75 371.14 L62.82 373.38 L62.89 375.61 L62.96 377.84 L63.03 380.08 L63.1 382.31 L63.17 384.55 L63.24 386.78 L63.31 389.02 L63.38 391.25 L63.45 393.48 L63.52 395.72 L63.59 397.95 L63.66 400.19 L63.73 402.42 L63.8 404.66 L63.87 406.89 L63.94 409.12 Z" fill="#c4e0a4" stroke="#8c9a84" stroke-width="0.45"/>
<path d="M78.73 409.12 L78.8 406.89 L78.87 404.66 L78.94 402.42 L79.02 400.19 L79.09 397.95 L79.16 395.72 L79.23 393.48 L79.3 391.25 L79.37 389.02 L79.44 386.78 L79.51 384.55 L79.58 382.31 L79.65 380.08 L79.72 377.84 L79.79 375.61 L79.86 373.38 L79.92 371.14 L79.99 368.91 L80.06 366.67 L80.13 364.44 L80.19 362.2 L80.26 359.97 L80.32 357.73 L80.38 355.5 L80.44 353.27 L80.49 351.03 L80.54 348.8 L80.57 346.56 L80.59 344.33 L80.59 342.09 L80.58 339.86 L80.55 337.62 L80.52 335.39 L80.49 333.16 L80.45 330.92 L80.41 328.69 L80.37 326.45 L80.32 324.22 L80.28 321.98 L80.23 319.75 L80.19 317.52 L80.14 315.28 L80.1 313.05 L80.05 310.81 L80 308.58 L79.96 306.34 L79.91 304.11 L79.86 301.88 L79.82 299.64 L79.77 297.41 L79.72 295.17 L79.68 292.94 L79.63 290.7 L79.58 288.47 L79.54 286.23 L79.49 284 L79.44 281.77 L79.39 279.53 L79.35 277.3 L79.3 275.06 L79.25 272.83 L79.21 270.59 L79.16 268.36 L79.11 266.12 L79.06 263.89 L79.02 261.66 L78.97 259.42 L78.92 257.19 L78.87 254.95 L78.83 252.72 L78.78 250.48 L78.73 248.25 L78.68 246.02 L78.64 243.78 L78.59 241.55 L78.54 239.31 L78.49 237.08 L78.45 234.84 L78.4 232.61 L78.35 230.38 L77.43 230.38 L77.38 232.61 L77.34 234.84 L77.29 237.08 L77.24 239.31 L77.19 241.55 L77.15 243.78 L77.1 246.02 L77.05 248.25 L77 250.48 L76.96 252.72 L76.91 254.95 L76.86 257.19 L76.81 259.42 L76.77 261.66 L76.72 263.89 L76.67 266.12 L76.62 268.36 L76.58 270.59 L76.53 272.83 L76.48 275.06 L76.43 277.3 L76.39 279.53 L76.34 281.77 L76.29 284 L76.25 286.23 L76.2 288.47 L76.15 290.7 L76.11 292.94 L76.06 295.17 L76.01 297.41 L75.96 299.64 L75.92 301.88 L75.87 304.11 L75.82 306.34 L75.78 308.58 L75.73 310.81 L75.69 313.05 L75.64 315.28 L75.59 317.52 L75.55 319.75 L75.5 321.98 L75.46 324.22 L75.42 326.45 L75.37 328.69 L75.33 330.92 L75.3 333.16 L75.26 335.39 L75.23 337.62 L75.21 339.86 L75.19 342.09 L75.19 344.33 L75.21 346.56 L75.24 348.8 L75.29 351.03 L75.34 353.27 L75.4 355.5 L75.46 357.73 L75.52 359.97 L75.59 362.2 L75.65 364.44 L75.72 366.67 L75.79 368.91 L75.86 371.14 L75.93 373.38 L76 375.61 L76.07 377.84 L76.13 380.08 L76.2 382.31 L76.27 384.55 L76.34 386.78 L76.41 389.02 L76.49 391.25 L76.56 393.48 L76.63 395.72 L76.7 397.95 L76.77 400.19 L76.84 402.42 L76.91 404.66 L76.98 406.89 L77.05 409.12 Z" fill="#c4e0a4" stroke="#8c9a84" stroke-width="0.45"/>
<path d="M86.55 409.12 L86.59 407.05 L86.63 404.98 L86.67 402.91 L86.72 400.84 L86.77 398.77 L86.81 396.69 L86.86 394.62 L86.92 392.55 L86.97 390.48 L87.03 388.41 L87.09 386.33 L87.15 384.26 L87.22 382.19 L87.28 380.12 L87.35 378.05 L87.42 375.98 L87.49 373.9 L87.57 371.83 L87.64 369.76 L87.72 367.69 L87.8 365.62 L87.87 363.54 L87.95 361.47 L88.03 359.4 L88.11 357.33 L88.18 355.26 L88.26 353.18 L88.33 351.11 L88.4 349.04 L88.47 346.97 L88.53 344.9 L88.58 342.82 L88.63 340.75 L88.67 338.68 L88.7 336.61 L88.7 334.54 L88.68 332.47 L88.65 330.39 L88.62 328.32 L88.59 326.25 L88.55 324.18 L88.51 322.11 L88.47 320.03 L88.42 317.96 L88.37 315.89 L88.32 313.82 L88.27 311.75 L88.22 309.68 L88.17 307.6 L88.12 305.53 L88.07 303.46 L88.01 301.39 L87.96 299.32 L87.91 297.24 L87.85 295.17 L87.8 293.1 L87.75 291.03 L87.69 288.96 L87.64 286.88 L87.59 284.81 L87.54 282.74 L87.49 280.67 L87.44 278.6 L87.39 276.53 L87.34 274.45 L87.3 272.38 L87.25 270.31 L87.21 268.24 L87.16 266.17 L87.12 264.09 L87.03 262.02 L86.88 259.95 L86.74 257.88 L86.61 255.81 L86.49 253.73 L86.38 251.66 L86.27 249.59 L86.23 247.52 L86.23 245.45 L86.23 243.38 L85.78 243.38 L85.78 245.45 L85.78 247.52 L85.74 249.59 L85.63 251.66 L85.52 253.73 L85.4 255.81 L85.27 257.88 L85.13 259.95 L84.98 262.02 L84.89 264.09 L84.85 266.17 L84.8 268.24 L84.76 270.31 L84.71 272.38 L84.66 274.45 L84.62 276.53 L84.57 278.6 L84.52 280.67 L84.47 282.74 L84.42 284.81 L84.37 286.88 L84.31 288.96 L84.26 291.03 L84.21 293.1 L84.16 295.17 L84.1 297.24 L84.05 299.32 L83.99 301.39 L83.94 303.46 L83.89 305.53 L83.84 307.6 L83.78 309.68 L83.73 311.75 L83.68 313.82 L83.64 315.89 L83.59 317.96 L83.54 320.03 L83.5 322.11 L83.46 324.18 L83.42 326.25 L83.39 328.32 L83.36 330.39 L83.33 332.47 L83.31 334.54 L83.31 336.61 L83.33 338.68 L83.37 340.75 L83.42 342.82 L83.48 344.9 L83.54 346.97 L83.61 349.04 L83.68 351.11 L83.75 353.18 L83.83 355.26 L83.9 357.33 L83.98 359.4 L84.06 361.47 L84.14 363.54 L84.21 365.62 L84.29 367.69 L84.37 369.76 L84.44 371.83 L84.51 373.9 L84.59 375.98 L84.66 378.05 L84.72 380.12 L84.79 382.19 L84.85 384.26 L84.92 386.33 L84.98 388.41 L85.03 390.48 L85.09 392.55 L85.14 394.62 L85.19 396.69 L85.24 398.77 L85.29 400.84 L85.33 402.91 L85.38 404.98 L85.42 407.05 L85.45 409.12 Z" fill="#c4e0a4" stroke="#8c9a84" stroke-width="0.45"/>
<path d="M96.13 409.12 L96.2 406.89 L96.26 404.66 L96.33 402.42 L96.4 400.19 L96.47 397.95 L96.54 395.72 L96.6 393.48 L96.67 391.25 L96.74 389.02 L96.81 386.78 L96.88 384.55 L96.95 382.31 L97.01 380.08 L97.08 377.84 L97.15 375.61 L97.22 373.38 L97.28 371.14 L97.35 368.91 L97.42 366.67 L97.49 364.44 L97.55 362.2 L97.62 359.97 L97.69 357.73 L97.75 355.5 L97.82 353.27 L97.88 351.03 L97.95 348.8 L98.01 346.56 L98.07 344.33 L98.13 342.09 L98.18 339.86 L98.24 337.62 L98.28 335.39 L98.32 333.16 L98.34 330.92 L98.34 328.69 L98.33 326.45 L98.31 324.22 L98.28 321.98 L98.25 319.75 L98.21 317.52 L98.17 315.28 L98.13 313.05 L98.09 310.81 L98.05 308.58 L98 306.34 L97.96 304.11 L97.92 301.88 L97.87 299.64 L97.83 297.41 L97.78 295.17 L97.74 292.94 L97.69 290.7 L97.65 288.47 L97.6 286.23 L97.56 284 L97.51 281.77 L97.47 279.53 L97.42 277.3 L97.38 275.06 L97.33 272.83 L97.29 270.59 L97.24 268.36 L97.2 266.12 L97.15 263.89 L97.1 261.66 L97.06 259.42 L97.01 257.19 L96.97 254.95 L96.92 252.72 L96.88 250.48 L96.83 248.25 L96.79 246.02 L96.74 243.78 L96.69 241.55 L96.65 239.31 L96.6 237.08 L96.56 234.84 L96.51 232.61 L96.47 230.38 L95.01 230.38 L94.97 232.61 L94.92 234.84 L94.88 237.08 L94.83 239.31 L94.78 241.55 L94.74 243.78 L94.69 246.02 L94.65 248.25 L94.6 250.48 L94.56 252.72 L94.51 254.95 L94.47 257.19 L94.42 259.42 L94.37 261.66 L94.33 263.89 L94.28 266.12 L94.24 268.36 L94.19 270.59 L94.15 272.83 L94.1 275.06 L94.06 277.3 L94.01 279.53 L93.97 281.77 L93.92 284 L93.88 286.23 L93.83 288.47 L93.79 290.7 L93.74 292.94 L93.7 295.17 L93.65 297.41 L93.61 299.64 L93.56 301.88 L93.52 304.11 L93.48 306.34 L93.43 308.58 L93.39 310.81 L93.35 313.05 L93.31 315.28 L93.27 317.52 L93.23 319.75 L93.2 321.98 L93.17 324.22 L93.15 326.45 L93.14 328.69 L93.14 330.92 L93.16 333.16 L93.2 335.39 L93.24 337.62 L93.29 339.86 L93.35 342.09 L93.41 344.33 L93.47 346.56 L93.53 348.8 L93.6 351.03 L93.66 353.27 L93.73 355.5 L93.79 357.73 L93.86 359.97 L93.93 362.2 L93.99 364.44 L94.06 366.67 L94.13 368.91 L94.19 371.14 L94.26 373.38 L94.33 375.61 L94.4 377.84 L94.47 380.08 L94.53 382.31 L94.6 384.55 L94.67 386.78 L94.74 389.02 L94.81 391.25 L94.87 393.48 L94.94 395.72 L95.01 397.95 L95.08 400.19 L95.15 402.42 L95.22 404.66 L95.28 406.89 L95.35 409.12 Z" fill="#c4e0a4" stroke="#8c9a84" stroke-width="0.45"/>
<path d="M104.26 409.12 L104.33 406.89 L104.4 404.66 L104.47 402.42 L104.54 400.19 L104.61 397.95 L104.67 395.72 L104.74 393.48 L104.81 391.25 L104.88 389.02 L104.95 386.78 L105.01 384.55 L105.08 382.31 L105.15 380.08 L105.22 377.84 L105.29 375.61 L105.35 373.38 L105.42 371.14 L105.49 368.91 L105.56 366.67 L105.62 364.44 L105.69 362.2 L105.76 359.97 L105.82 357.73 L105.89 355.5 L105.95 353.27 L106.02 351.03 L106.08 348.8 L106.14 346.56 L106.2 344.33 L106.26 342.09 L106.32 339.86 L106.37 337.62 L106.41 335.39 L106.44 333.16 L106.45 330.92 L106.45 328.69 L106.43 326.45 L106.41 324.22 L106.38 321.98 L106.35 319.75 L106.31 317.52 L106.27 315.28 L106.23 313.05 L106.19 310.81 L106.14 308.58 L106.1 306.34 L106.06 304.11 L106.01 301.88 L105.97 299.64 L105.92 297.41 L105.88 295.17 L105.83 292.94 L105.79 290.7 L105.74 288.47 L105.7 286.23 L105.65 284 L105.61 281.77 L105.56 279.53 L105.52 277.3 L105.47 275.06 L105.43 272.83 L105.38 270.59 L105.34 268.36 L105.29 266.12 L105.25 263.89 L105.2 261.66 L105.16 259.42 L105.11 257.19 L105.06 254.95 L105.02 252.72 L104.97 250.48 L104.93 248.25 L104.88 246.02 L104.84 243.78 L104.79 241.55 L104.74 239.31 L104.7 237.08 L104.65 234.84 L104.61 232.61 L104.56 230.38 L103.14 230.38 L103.1 232.61 L103.05 234.84 L103.01 237.08 L102.96 239.31 L102.91 241.55 L102.87 243.78 L102.82 246.02 L102.78 248.25 L102.73 250.48 L102.69 252.72 L102.64 254.95 L102.59 257.19 L102.55 259.42 L102.5 261.66 L102.46 263.89 L102.41 266.12 L102.37 268.36 L102.32 270.59 L102.28 272.83 L102.23 275.06 L102.19 277.3 L102.14 279.53 L102.1 281.77 L102.05 284 L102.01 286.23 L101.96 288.47 L101.92 290.7 L101.87 292.94 L101.83 295.17 L101.78 297.41 L101.74 299.64 L101.69 301.88 L101.65 304.11 L101.6 306.34 L101.56 308.58 L101.52 310.81 L101.48 313.05 L101.44 315.28 L101.4 317.52 L101.36 319.75 L101.32 321.98 L101.29 324.22 L101.27 326.45 L101.26 328.69 L101.25 330.92 L101.27 333.16 L101.3 335.39 L101.34 337.62 L101.39 339.86 L101.44 342.09 L101.5 344.33 L101.56 346.56 L101.62 348.8 L101.69 351.03 L101.75 353.27 L101.82 355.5 L101.88 357.73 L101.95 359.97 L102.01 362.2 L102.08 364.44 L102.15 366.67 L102.22 368.91 L102.28 371.14 L102.35 373.38 L102.42 375.61 L102.49 377.84 L102.55 380.08 L102.62 382.31 L102.69 384.55 L102.76 386.78 L102.83 389.02 L102.89 391.25 L102.96 393.48 L103.03 395.72 L103.1 397.95 L103.17 400.19 L103.24 402.42 L103.3 404.66 L103.37 406.89 L103.44 409.12 Z" fill="#c4e0a4" stroke="#8c9a84" stroke-width="0.45"/>
<path d="M113.85 409.12 L113.85 406.89 L113.85 404.66 L113.88 402.42 L113.95 400.19 L114.02 397.95 L114.09 395.72 L114.16 393.48 L114.22 391.25 L114.29 389.02 L114.36 386.78 L114.43 384.55 L114.5 382.31 L114.56 380.08 L114.63 377.84 L114.7 375.61 L114.77 373.38 L114.84 371.14 L114.9 368.91 L114.97 366.67 L115.04 364.44 L115.11 362.2 L115.18 359.97 L115.24 357.73 L115.31 355.5 L115.38 353.27 L115.44 351.03 L115.51 348.8 L115.58 346.56 L115.64 344.33 L115.71 342.09 L115.77 339.86 L115.83 337.62 L115.9 335.39 L115.96 333.16 L116.01 330.92 L116.07 328.69 L116.11 326.45 L116.15 324.22 L116.18 321.98 L116.19 319.75 L116.18 317.52 L116.16 315.28 L116.14 313.05 L116.11 310.81 L116.07 308.58 L116.03 306.34 L115.99 304.11 L115.95 301.88 L115.91 299.64 L115.87 297.41 L115.82 295.17 L115.78 292.94 L115.74 290.7 L115.69 288.47 L115.65 286.23 L115.6 284 L115.56 281.77 L115.51 279.53 L115.47 277.3 L115.42 275.06 L115.38 272.83 L115.33 270.59 L115.29 268.36 L115.24 266.12 L115.2 263.89 L115.15 261.66 L115.11 259.42 L115.06 257.19 L115.01 254.95 L114.97 252.72 L114.92 250.48 L114.88 248.25 L114.83 246.02 L114.79 243.78 L114.74 241.55 L114.7 239.31 L114.65 237.08 L114.6 234.84 L114.56 232.61 L114.51 230.38 L112.66 230.38 L112.62 232.61 L112.57 234.84 L112.53 237.08 L112.48 239.31 L112.43 241.55 L112.39 243.78 L112.34 246.02 L112.3 248.25 L112.25 250.48 L112.21 252.72 L112.16 254.95 L112.12 257.19 L112.07 259.42 L112.02 261.66 L111.98 263.89 L111.93 266.12 L111.89 268.36 L111.84 270.59 L111.8 272.83 L111.75 275.06 L111.71 277.3 L111.66 279.53 L111.62 281.77 L111.57 284 L111.53 286.23 L111.48 288.47 L111.44 290.7 L111.4 292.94 L111.35 295.17 L111.31 297.41 L111.27 299.64 L111.22 301.88 L111.18 304.11 L111.14 306.34 L111.1 308.58 L111.07 310.81 L111.04 313.05 L111.01 315.28 L110.99 317.52 L110.99 319.75 L111 321.98 L111.02 324.22 L111.06 326.45 L111.11 328.69 L111.16 330.92 L111.22 333.16 L111.28 335.39 L111.34 337.62 L111.41 339.86 L111.47 342.09 L111.53 344.33 L111.6 346.56 L111.67 348.8 L111.73 351.03 L111.8 353.27 L111.87 355.5 L111.93 357.73 L112 359.97 L112.07 362.2 L112.14 364.44 L112.2 366.67 L112.27 368.91 L112.34 371.14 L112.41 373.38 L112.47 375.61 L112.54 377.84 L112.61 380.08 L112.68 382.31 L112.75 384.55 L112.82 386.78 L112.88 389.02 L112.95 391.25 L113.02 393.48 L113.09 395.72 L113.16 397.95 L113.23 400.19 L113.29 402.42 L113.33 404.66 L113.33 406.89 L113.33 409.12 Z" fill="#c4e0a4" stroke="#8c9a84" stroke-width="0.45"/>
<path d="M132.23 409.12 L132.25 406.89 L132.31 404.66 L132.38 402.42 L132.44 400.19 L132.51 397.95 L132.58 395.72 L132.64 393.48 L132.71 391.25 L132.77 389.02 L132.84 386.78 L132.9 384.55 L132.97 382.31 L133.04 380.08 L133.1 377.84 L133.17 375.61 L133.23 373.38 L133.3 371.14 L133.36 368.91 L133.43 366.67 L133.49 364.44 L133.56 362.2 L133.62 359.97 L133.69 357.73 L133.75 355.5 L133.81 353.27 L133.88 351.03 L133.94 348.8 L134 346.56 L134.06 344.33 L134.13 342.09 L134.19 339.86 L134.24 337.62 L134.3 335.39 L134.35 333.16 L134.4 330.92 L134.44 328.69 L134.46 326.45 L134.48 324.22 L134.47 321.98 L134.46 319.75 L134.43 317.52 L134.4 315.28 L134.37 313.05 L134.33 310.81 L134.3 308.58 L134.26 306.34 L134.22 304.11 L134.18 301.88 L134.13 299.64 L134.09 297.41 L134.05 295.17 L134.01 292.94 L133.96 290.7 L133.92 288.47 L133.88 286.23 L133.84 284 L133.79 281.77 L133.75 279.53 L133.71 277.3 L133.66 275.06 L133.62 272.83 L133.58 270.59 L133.53 268.36 L133.49 266.12 L133.44 263.89 L133.4 261.66 L133.36 259.42 L133.31 257.19 L133.27 254.95 L133.23 252.72 L133.18 250.48 L133.14 248.25 L133.09 246.02 L133.05 243.78 L133.01 241.55 L132.96 239.31 L132.92 237.08 L132.88 234.84 L132.83 232.61 L132.79 230.38 L131.17 230.38 L131.12 232.61 L131.08 234.84 L131.03 237.08 L130.99 239.31 L130.95 241.55 L130.9 243.78 L130.86 246.02 L130.82 248.25 L130.77 250.48 L130.73 252.72 L130.68 254.95 L130.64 257.19 L130.6 259.42 L130.55 261.66 L130.51 263.89 L130.47 266.12 L130.42 268.36 L130.38 270.59 L130.33 272.83 L130.29 275.06 L130.25 277.3 L130.2 279.53 L130.16 281.77 L130.12 284 L130.07 286.23 L130.03 288.47 L129.99 290.7 L129.95 292.94 L129.9 295.17 L129.86 297.41 L129.82 299.64 L129.78 301.88 L129.74 304.11 L129.7 306.34 L129.66 308.58 L129.62 310.81 L129.58 313.05 L129.55 315.28 L129.52 317.52 L129.5 319.75 L129.48 321.98 L129.48 324.22 L129.49 326.45 L129.52 328.69 L129.56 330.92 L129.6 333.16 L129.65 335.39 L129.71 337.62 L129.77 339.86 L129.83 342.09 L129.89 344.33 L129.95 346.56 L130.01 348.8 L130.08 351.03 L130.14 353.27 L130.2 355.5 L130.27 357.73 L130.33 359.97 L130.4 362.2 L130.46 364.44 L130.53 366.67 L130.59 368.91 L130.66 371.14 L130.72 373.38 L130.79 375.61 L130.85 377.84 L130.92 380.08 L130.98 382.31 L131.05 384.55 L131.11 386.78 L131.18 389.02 L131.25 391.25 L131.31 393.48 L131.38 395.72 L131.44 397.95 L131.51 400.19 L131.57 402.42 L131.64 404.66 L131.71 406.89 L131.73 409.12 Z" fill="#c4e0a4" stroke="#8c9a84" stroke-width="0.45"/>
<path d="M154.94 409.12 L154.94 406.89 L154.94 404.66 L154.94 402.42 L154.94 400.19 L154.94 397.95 L154.94 395.72 L154.98 393.48 L155.04 391.25 L155.11 389.02 L155.17 386.78 L155.24 384.55 L155.3 382.31 L155.37 380.08 L155.44 377.84 L155.5 375.61 L155.57 373.38 L155.63 371.14 L155.7 368.91 L155.76 366.67 L155.83 364.44 L155.89 362.2 L155.96 359.97 L156.02 357.73 L156.09 355.5 L156.15 353.27 L156.22 351.03 L156.28 348.8 L156.35 346.56 L156.41 344.33 L156.48 342.09 L156.54 339.86 L156.6 337.62 L156.67 335.39 L156.73 333.16 L156.79 330.92 L156.85 328.69 L156.91 326.45 L156.97 324.22 L157.02 321.98 L157.08 319.75 L157.12 317.52 L157.16 315.28 L157.18 313.05 L157.19 310.81 L157.19 308.58 L157.17 306.34 L157.15 304.11 L157.11 301.88 L157.08 299.64 L157.04 297.41 L157.01 295.17 L156.97 292.94 L156.93 290.7 L156.88 288.47 L156.84 286.23 L156.8 284 L156.76 281.77 L156.72 279.53 L156.67 277.3 L156.63 275.06 L156.59 272.83 L156.54 270.59 L156.5 268.36 L156.46 266.12 L156.41 263.89 L156.37 261.66 L156.33 259.42 L156.28 257.19 L156.24 254.95 L156.2 252.72 L156.15 250.48 L156.11 248.25 L156.07 246.02 L156.02 243.78 L155.98 241.55 L155.93 239.31 L155.89 237.08 L155.85 234.84 L155.8 232.61 L155.76 230.38 L153.63 230.38 L153.58 232.61 L153.54 234.84 L153.5 237.08 L153.45 239.31 L153.41 241.55 L153.36 243.78 L153.32 246.02 L153.28 248.25 L153.23 250.48 L153.19 252.72 L153.15 254.95 L153.1 257.19 L153.06 259.42 L153.02 261.66 L152.97 263.89 L152.93 266.12 L152.89 268.36 L152.84 270.59 L152.8 272.83 L152.76 275.06 L152.71 277.3 L152.67 279.53 L152.63 281.77 L152.59 284 L152.54 286.23 L152.5 288.47 L152.46 290.7 L152.42 292.94 L152.38 295.17 L152.34 297.41 L152.31 299.64 L152.27 301.88 L152.24 304.11 L152.22 306.34 L152.2 308.58 L152.19 310.81 L152.2 313.05 L152.23 315.28 L152.26 317.52 L152.31 319.75 L152.36 321.98 L152.42 324.22 L152.47 326.45 L152.53 328.69 L152.59 330.92 L152.66 333.16 L152.72 335.39 L152.78 337.62 L152.84 339.86 L152.91 342.09 L152.97 344.33 L153.04 346.56 L153.1 348.8 L153.17 351.03 L153.23 353.27 L153.3 355.5 L153.36 357.73 L153.43 359.97 L153.49 362.2 L153.56 364.44 L153.62 366.67 L153.69 368.91 L153.75 371.14 L153.82 373.38 L153.88 375.61 L153.95 377.84 L154.02 380.08 L154.08 382.31 L154.15 384.55 L154.21 386.78 L154.28 389.02 L154.34 391.25 L154.41 393.48 L154.44 395.72 L154.44 397.95 L154.44 400.19 L154.44 402.42 L154.44 404.66 L154.44 406.89 L154.44 409.12 Z" fill="#c4e0a4" stroke="#8c9a84" stroke-width="0.45"/>
<path d="M193.88 409.12 L193.88 406.89 L193.88 404.66 L193.88 402.42 L193.89 400.19 L193.95 397.95 L194.02 395.72 L194.08 393.48 L194.15 391.25 L194.22 389.02 L194.28 386.78 L194.35 384.55 L194.41 382.31 L194.48 380.08 L194.54 377.84 L194.61 375.61 L194.68 373.38 L194.74 371.14 L194.81 368.91 L194.87 366.67 L194.94 364.44 L195 362.2 L195.07 359.97 L195.13 357.73 L195.2 355.5 L195.26 353.27 L195.33 351.03 L195.39 348.8 L195.45 346.56 L195.52 344.33 L195.58 342.09 L195.64 339.86 L195.71 337.62 L195.77 335.39 L195.83 333.16 L195.89 330.92 L195.94 328.69 L195.99 326.45 L196.04 324.22 L196.08 321.98 L196.12 319.75 L196.13 317.52 L196.13 315.28 L196.12 313.05 L196.1 310.81 L196.07 308.58 L196.04 306.34 L196 304.11 L195.96 301.88 L195.93 299.64 L195.89 297.41 L195.84 295.17 L195.8 292.94 L195.76 290.7 L195.72 288.47 L195.68 286.23 L195.63 284 L195.59 281.77 L195.55 279.53 L195.51 277.3 L195.46 275.06 L195.42 272.83 L195.38 270.59 L195.33 268.36 L195.29 266.12 L195.24 263.89 L195.2 261.66 L195.16 259.42 L195.11 257.19 L195.07 254.95 L195.03 252.72 L194.98 250.48 L194.94 248.25 L194.9 246.02 L194.85 243.78 L194.81 241.55 L194.76 239.31 L194.72 237.08 L194.68 234.84 L194.63 232.61 L194.59 230.38 L192.68 230.38 L192.64 232.61 L192.59 234.84 L192.55 237.08 L192.51 239.31 L192.46 241.55 L192.42 243.78 L192.37 246.02 L192.33 248.25 L192.29 250.48 L192.24 252.72 L192.2 254.95 L192.16 257.19 L192.11 259.42 L192.07 261.66 L192.02 263.89 L191.98 266.12 L191.94 268.36 L191.89 270.59 L191.85 272.83 L191.81 275.06 L191.76 277.3 L191.72 279.53 L191.68 281.77 L191.64 284 L191.59 286.23 L191.55 288.47 L191.51 290.7 L191.47 292.94 L191.42 295.17 L191.38 297.41 L191.34 299.64 L191.3 301.88 L191.27 304.11 L191.23 306.34 L191.2 308.58 L191.17 310.81 L191.15 313.05 L191.14 315.28 L191.14 317.52 L191.15 319.75 L191.18 321.98 L191.23 324.22 L191.27 326.45 L191.33 328.69 L191.38 330.92 L191.44 333.16 L191.5 335.39 L191.56 337.62 L191.63 339.86 L191.69 342.09 L191.75 344.33 L191.82 346.56 L191.88 348.8 L191.94 351.03 L192.01 353.27 L192.07 355.5 L192.14 357.73 L192.2 359.97 L192.27 362.2 L192.33 364.44 L192.4 366.67 L192.46 368.91 L192.53 371.14 L192.59 373.38 L192.66 375.61 L192.72 377.84 L192.79 380.08 L192.86 382.31 L192.92 384.55 L192.99 386.78 L193.05 389.02 L193.12 391.25 L193.18 393.48 L193.25 395.72 L193.32 397.95 L193.38 400.19 L193.38 402.42 L193.38 404.66 L193.38 406.89 L193.38 409.12 Z" fill="#c4e0a4" stroke="#8c9a84" stroke-width="0.45"/>
</g>
<g stroke="#f08a4a" stroke-width="1.1" stroke-dasharray="3.2 2.6" fill="none">
<line x1="33" y1="295.38" x2="222.3" y2="295.38" stroke="#f08a4a" stroke-width="1.1"/>
<line x1="33" y1="376.62" x2="222.3" y2="376.62" stroke="#f08a4a" stroke-width="1.1"/>
<line x1="222.3" y1="295.38" x2="247.6" y2="238.6" stroke="#f08a4a" stroke-width="1.1"/>
<line x1="222.3" y1="376.62" x2="247.6" y2="400.9" stroke="#f08a4a" stroke-width="1.1"/>
</g>
<rect x="45" y="367.82" width="5.2" height="2" fill="#000" stroke="none" stroke-width="1"/>
<rect x="45" y="374" width="5.2" height="2" fill="#ff1010" stroke="none" stroke-width="1"/>
<rect x="62.31" y="346.86" width="5.2" height="2" fill="#000" stroke="none" stroke-width="1"/>
<rect x="62.31" y="345.56" width="5.2" height="2" fill="#ff1010" stroke="none" stroke-width="1"/>
<rect x="75.29" y="341.82" width="5.2" height="2" fill="#000" stroke="none" stroke-width="1"/>
<rect x="75.29" y="343.12" width="5.2" height="2" fill="#ff1010" stroke="none" stroke-width="1"/>
<rect x="83.4" y="336.14" width="5.2" height="2" fill="#000" stroke="none" stroke-width="1"/>
<rect x="83.4" y="333.38" width="5.2" height="2" fill="#ff1010" stroke="none" stroke-width="1"/>
<rect x="93.14" y="328.18" width="5.2" height="2" fill="#000" stroke="none" stroke-width="1"/>
<rect x="93.14" y="327.85" width="5.2" height="2" fill="#ff1010" stroke="none" stroke-width="1"/>
<rect x="101.25" y="327.85" width="5.2" height="2" fill="#000" stroke="none" stroke-width="1"/>
<rect x="101.25" y="330.45" width="5.2" height="2" fill="#ff1010" stroke="none" stroke-width="1"/>
<rect x="110.99" y="319.07" width="5.2" height="2" fill="#000" stroke="none" stroke-width="1"/>
<rect x="110.99" y="318.75" width="5.2" height="2" fill="#ff1010" stroke="none" stroke-width="1"/>
<rect x="129.38" y="320.05" width="5.2" height="2" fill="#000" stroke="none" stroke-width="1"/>
<rect x="129.38" y="324.76" width="5.2" height="2" fill="#ff1010" stroke="none" stroke-width="1"/>
<rect x="152.09" y="307.38" width="5.2" height="2" fill="#000" stroke="none" stroke-width="1"/>
<rect x="152.09" y="311.6" width="5.2" height="2" fill="#ff1010" stroke="none" stroke-width="1"/>
<rect x="191.03" y="309.49" width="5.2" height="2" fill="#000" stroke="none" stroke-width="1"/>
<rect x="191.03" y="318.91" width="5.2" height="2" fill="#ff1010" stroke="none" stroke-width="1"/>
<rect x="33" y="238.5" width="189.3" height="162.5" fill="none" stroke="#2b2b2b" stroke-width="1"/>
<line x1="33" y1="401" x2="33" y2="399" stroke="#2b2b2b" stroke-width="0.8"/>
<line x1="33" y1="238.5" x2="33" y2="240.5" stroke="#2b2b2b" stroke-width="0.8"/>
<text x="33" y="411.9" font-size="9.3" text-anchor="middle" fill="#222" stroke="#222" stroke-width="0.18">0.5</text>
<line x1="60.04" y1="401" x2="60.04" y2="399" stroke="#2b2b2b" stroke-width="0.8"/>
<line x1="60.04" y1="238.5" x2="60.04" y2="240.5" stroke="#2b2b2b" stroke-width="0.8"/>
<text x="60.04" y="411.9" font-size="9.3" text-anchor="middle" fill="#222" stroke="#222" stroke-width="0.18">1.0</text>
<line x1="87.09" y1="401" x2="87.09" y2="399" stroke="#2b2b2b" stroke-width="0.8"/>
<line x1="87.09" y1="238.5" x2="87.09" y2="240.5" stroke="#2b2b2b" stroke-width="0.8"/>
<text x="87.09" y="411.9" font-size="9.3" text-anchor="middle" fill="#222" stroke="#222" stroke-width="0.18">1.5</text>
<line x1="114.13" y1="401" x2="114.13" y2="399" stroke="#2b2b2b" stroke-width="0.8"/>
<line x1="114.13" y1="238.5" x2="114.13" y2="240.5" stroke="#2b2b2b" stroke-width="0.8"/>
<text x="114.13" y="411.9" font-size="9.3" text-anchor="middle" fill="#222" stroke="#222" stroke-width="0.18">2.0</text>
<line x1="141.17" y1="401" x2="141.17" y2="399" stroke="#2b2b2b" stroke-width="0.8"/>
<line x1="141.17" y1="238.5" x2="141.17" y2="240.5" stroke="#2b2b2b" stroke-width="0.8"/>
<text x="141.17" y="411.9" font-size="9.3" text-anchor="middle" fill="#222" stroke="#222" stroke-width="0.18">2.5</text>
<line x1="168.21" y1="401" x2="168.21" y2="399" stroke="#2b2b2b" stroke-width="0.8"/>
<line x1="168.21" y1="238.5" x2="168.21" y2="240.5" stroke="#2b2b2b" stroke-width="0.8"/>
<text x="168.21" y="411.9" font-size="9.3" text-anchor="middle" fill="#222" stroke="#222" stroke-width="0.18">3.0</text>
<line x1="195.26" y1="401" x2="195.26" y2="399" stroke="#2b2b2b" stroke-width="0.8"/>
<line x1="195.26" y1="238.5" x2="195.26" y2="240.5" stroke="#2b2b2b" stroke-width="0.8"/>
<text x="195.26" y="411.9" font-size="9.3" text-anchor="middle" fill="#222" stroke="#222" stroke-width="0.18">3.5</text>
<line x1="222.3" y1="401" x2="222.3" y2="399" stroke="#2b2b2b" stroke-width="0.8"/>
<line x1="222.3" y1="238.5" x2="222.3" y2="240.5" stroke="#2b2b2b" stroke-width="0.8"/>
<text x="222.3" y="411.9" font-size="9.3" text-anchor="middle" fill="#222" stroke="#222" stroke-width="0.18">4.0</text>
<line x1="33" y1="401" x2="35" y2="401" stroke="#2b2b2b" stroke-width="0.8"/>
<line x1="222.3" y1="401" x2="220.3" y2="401" stroke="#2b2b2b" stroke-width="0.8"/>
<text x="31.2" y="403.6" font-size="9.3" text-anchor="end" fill="#222" stroke="#222" stroke-width="0.18">-20</text>
<line x1="33" y1="368.5" x2="35" y2="368.5" stroke="#2b2b2b" stroke-width="0.8"/>
<line x1="222.3" y1="368.5" x2="220.3" y2="368.5" stroke="#2b2b2b" stroke-width="0.8"/>
<text x="31.2" y="371.1" font-size="9.3" text-anchor="end" fill="#222" stroke="#222" stroke-width="0.18">0</text>
<line x1="33" y1="336" x2="35" y2="336" stroke="#2b2b2b" stroke-width="0.8"/>
<line x1="222.3" y1="336" x2="220.3" y2="336" stroke="#2b2b2b" stroke-width="0.8"/>
<text x="31.2" y="338.6" font-size="9.3" text-anchor="end" fill="#222" stroke="#222" stroke-width="0.18">20</text>
<line x1="33" y1="303.5" x2="35" y2="303.5" stroke="#2b2b2b" stroke-width="0.8"/>
<line x1="222.3" y1="303.5" x2="220.3" y2="303.5" stroke="#2b2b2b" stroke-width="0.8"/>
<text x="31.2" y="306.1" font-size="9.3" text-anchor="end" fill="#222" stroke="#222" stroke-width="0.18">40</text>
<line x1="33" y1="271" x2="35" y2="271" stroke="#2b2b2b" stroke-width="0.8"/>
<line x1="222.3" y1="271" x2="220.3" y2="271" stroke="#2b2b2b" stroke-width="0.8"/>
<text x="31.2" y="273.6" font-size="9.3" text-anchor="end" fill="#222" stroke="#222" stroke-width="0.18">60</text>
<line x1="33" y1="238.5" x2="35" y2="238.5" stroke="#2b2b2b" stroke-width="0.8"/>
<line x1="222.3" y1="238.5" x2="220.3" y2="238.5" stroke="#2b2b2b" stroke-width="0.8"/>
<text x="31.2" y="241.1" font-size="9.3" text-anchor="end" fill="#222" stroke="#222" stroke-width="0.18">80</text>
<text x="218.6" y="396.9" font-size="9.2" text-anchor="end" fill="#222" stroke="#222" stroke-width="0.18">n = 1152</text>
<text x="10.4" y="319" font-size="10.3" text-anchor="middle" fill="#222" transform="rotate(-90 10.4 319)" stroke="#222" stroke-width="0.18">Average velocity of single particle (nm/s)</text>
<text x="127.9" y="425.1" font-size="10.3" text-anchor="middle" fill="#222" stroke="#222" stroke-width="0.18">Diameter (µm)</text>
<g clip-path="url(#clip140634828842688)">
<path d="M264.5 417.13 L264.56 414.82 L264.62 412.5 L264.68 410.19 L264.73 407.88 L264.78 405.57 L264.83 403.25 L264.87 400.94 L264.9 398.63 L264.93 396.32 L264.94 394 L264.91 391.69 L264.87 389.38 L264.81 387.06 L264.75 384.75 L264.68 382.44 L264.61 380.13 L264.53 377.81 L264.45 375.5 L264.37 373.19 L264.29 370.87 L264.2 368.56 L264.12 366.25 L264.03 363.94 L263.95 361.62 L263.87 359.31 L263.79 357 L263.71 354.69 L263.63 352.37 L263.56 350.06 L263.48 347.75 L263.41 345.43 L263.34 343.12 L263.28 340.81 L263.22 338.5 L263.16 336.18 L263.1 333.87 L263.04 331.56 L262.99 329.24 L262.94 326.93 L262.89 324.62 L262.85 322.31 L262.81 319.99 L262.77 317.68 L262.73 315.37 L262.69 313.06 L262.66 310.74 L262.63 308.43 L262.6 306.12 L262.57 303.8 L262.55 301.49 L262.52 299.18 L262.5 296.87 L262.48 294.55 L262.47 292.24 L262.47 289.93 L262.47 287.61 L262.47 285.3 L262.47 282.99 L262.47 280.68 L262.47 278.36 L262.47 276.05 L262.47 273.74 L262.47 271.43 L262.47 269.11 L262.47 266.8 L262.47 264.49 L262.47 262.17 L262.47 259.86 L262.47 257.55 L262.47 255.24 L262.47 252.92 L262.47 250.61 L262.47 248.3 L262.47 245.98 L262.47 243.67 L262.47 241.36 L262.47 239.05 L262.47 236.73 L262.47 234.42 L262.47 232.11 L262.02 232.11 L262.02 234.42 L262.02 236.73 L262.02 239.05 L262.02 241.36 L262.02 243.67 L262.02 245.98 L262.02 248.3 L262.02 250.61 L262.02 252.92 L262.02 255.24 L262.02 257.55 L262.02 259.86 L262.02 262.17 L262.02 264.49 L262.02 266.8 L262.02 269.11 L262.02 271.43 L262.02 273.74 L262.02 276.05 L262.02 278.36 L262.02 280.68 L262.02 282.99 L262.02 285.3 L262.02 287.61 L262.02 289.93 L262.02 292.24 L262.01 294.55 L261.98 296.87 L261.96 299.18 L261.94 301.49 L261.91 303.8 L261.88 306.12 L261.86 308.43 L261.82 310.74 L261.79 313.06 L261.76 315.37 L261.72 317.68 L261.68 319.99 L261.64 322.31 L261.59 324.62 L261.54 326.93 L261.49 329.24 L261.44 331.56 L261.39 333.87 L261.33 336.18 L261.27 338.5 L261.21 340.81 L261.14 343.12 L261.07 345.43 L261 347.75 L260.93 350.06 L260.85 352.37 L260.78 354.69 L260.7 357 L260.62 359.31 L260.53 361.62 L260.45 363.94 L260.37 366.25 L260.28 368.56 L260.2 370.87 L260.11 373.19 L260.03 375.5 L259.95 377.81 L259.87 380.13 L259.8 382.44 L259.73 384.75 L259.67 387.06 L259.62 389.38 L259.57 391.69 L259.54 394 L259.55 396.32 L259.58 398.63 L259.62 400.94 L259.66 403.25 L259.7 405.57 L259.75 407.88 L259.81 410.19 L259.87 412.5 L259.92 414.82 L259.99 417.13 Z" fill="#c4e0a4" stroke="#8c9a84" stroke-width="0.45"/>
<path d="M281.33 417.13 L281.37 414.7 L281.41 412.26 L281.45 409.83 L281.48 407.39 L281.52 404.96 L281.56 402.52 L281.6 400.09 L281.63 397.65 L281.67 395.22 L281.71 392.78 L281.75 390.35 L281.78 387.92 L281.82 385.48 L281.86 383.05 L281.89 380.61 L281.93 378.18 L281.96 375.74 L282 373.31 L282.03 370.87 L282.06 368.44 L282.1 366.01 L282.13 363.57 L282.16 361.14 L282.19 358.7 L282.21 356.27 L282.24 353.83 L282.26 351.4 L282.27 348.96 L282.29 346.53 L282.29 344.09 L282.29 341.66 L282.29 339.23 L282.28 336.79 L282.27 334.36 L282.26 331.92 L282.25 329.49 L282.23 327.05 L282.21 324.62 L282.19 322.18 L282.17 319.75 L282.15 317.32 L282.13 314.88 L282.1 312.45 L282.08 310.01 L282.06 307.58 L282.03 305.14 L282.01 302.71 L281.99 300.27 L281.96 297.84 L281.94 295.4 L281.91 292.97 L281.89 290.54 L281.86 288.1 L281.84 285.67 L281.81 283.23 L281.79 280.8 L281.76 278.36 L281.74 275.93 L281.71 273.49 L281.69 271.06 L281.66 268.63 L281.64 266.19 L281.61 263.76 L281.59 261.32 L281.56 258.89 L281.53 256.45 L281.51 254.02 L281.48 251.58 L281.46 249.15 L281.43 246.72 L281.41 244.28 L281.38 241.85 L281.36 239.41 L281.33 236.98 L281.3 234.54 L281.28 232.11 L281.25 229.67 L281.23 227.24 L281.2 224.8 L281.18 222.37 L278.01 222.37 L277.99 224.8 L277.96 227.24 L277.94 229.67 L277.91 232.11 L277.89 234.54 L277.86 236.98 L277.83 239.41 L277.81 241.85 L277.78 244.28 L277.76 246.72 L277.73 249.15 L277.71 251.58 L277.68 254.02 L277.66 256.45 L277.63 258.89 L277.6 261.32 L277.58 263.76 L277.55 266.19 L277.53 268.63 L277.5 271.06 L277.48 273.49 L277.45 275.93 L277.43 278.36 L277.4 280.8 L277.38 283.23 L277.35 285.67 L277.33 288.1 L277.3 290.54 L277.28 292.97 L277.25 295.4 L277.23 297.84 L277.2 300.27 L277.18 302.71 L277.16 305.14 L277.13 307.58 L277.11 310.01 L277.09 312.45 L277.06 314.88 L277.04 317.32 L277.02 319.75 L277 322.18 L276.98 324.62 L276.96 327.05 L276.94 329.49 L276.93 331.92 L276.92 334.36 L276.91 336.79 L276.9 339.23 L276.9 341.66 L276.9 344.09 L276.9 346.53 L276.91 348.96 L276.93 351.4 L276.95 353.83 L276.98 356.27 L277 358.7 L277.03 361.14 L277.06 363.57 L277.09 366.01 L277.13 368.44 L277.16 370.87 L277.19 373.31 L277.23 375.74 L277.26 378.18 L277.3 380.61 L277.33 383.05 L277.37 385.48 L277.41 387.92 L277.44 390.35 L277.48 392.78 L277.52 395.22 L277.56 397.65 L277.59 400.09 L277.63 402.52 L277.67 404.96 L277.71 407.39 L277.74 409.83 L277.78 412.26 L277.82 414.7 L277.86 417.13 Z" fill="#c4e0a4" stroke="#8c9a84" stroke-width="0.45"/>
<path d="M294.22 417.13 L294.26 414.7 L294.3 412.26 L294.33 409.83 L294.37 407.39 L294.41 404.96 L294.45 402.52 L294.49 400.09 L294.52 397.65 L294.56 395.22 L294.6 392.78 L294.64 390.35 L294.67 387.92 L294.71 385.48 L294.75 383.05 L294.79 380.61 L294.82 378.18 L294.86 375.74 L294.89 373.31 L294.93 370.87 L294.97 368.44 L295 366.01 L295.03 363.57 L295.07 361.14 L295.1 358.7 L295.13 356.27 L295.16 353.83 L295.19 351.4 L295.22 348.96 L295.24 346.53 L295.27 344.09 L295.28 341.66 L295.3 339.23 L295.31 336.79 L295.31 334.36 L295.31 331.92 L295.3 329.49 L295.29 327.05 L295.28 324.62 L295.27 322.18 L295.25 319.75 L295.23 317.32 L295.21 314.88 L295.19 312.45 L295.17 310.01 L295.15 307.58 L295.13 305.14 L295.1 302.71 L295.08 300.27 L295.06 297.84 L295.03 295.4 L295.01 292.97 L294.98 290.54 L294.96 288.1 L294.94 285.67 L294.91 283.23 L294.89 280.8 L294.86 278.36 L294.84 275.93 L294.81 273.49 L294.79 271.06 L294.76 268.63 L294.74 266.19 L294.71 263.76 L294.68 261.32 L294.66 258.89 L294.63 256.45 L294.61 254.02 L294.58 251.58 L294.56 249.15 L294.53 246.72 L294.51 244.28 L294.48 241.85 L294.46 239.41 L294.43 236.98 L294.4 234.54 L294.38 232.11 L294.35 229.67 L294.33 227.24 L294.3 224.8 L294.28 222.37 L290.94 222.37 L290.92 224.8 L290.89 227.24 L290.87 229.67 L290.84 232.11 L290.82 234.54 L290.79 236.98 L290.76 239.41 L290.74 241.85 L290.71 244.28 L290.69 246.72 L290.66 249.15 L290.64 251.58 L290.61 254.02 L290.59 256.45 L290.56 258.89 L290.53 261.32 L290.51 263.76 L290.48 266.19 L290.46 268.63 L290.43 271.06 L290.41 273.49 L290.38 275.93 L290.36 278.36 L290.33 280.8 L290.31 283.23 L290.28 285.67 L290.26 288.1 L290.23 290.54 L290.21 292.97 L290.19 295.4 L290.16 297.84 L290.14 300.27 L290.12 302.71 L290.09 305.14 L290.07 307.58 L290.05 310.01 L290.03 312.45 L290.01 314.88 L289.99 317.32 L289.97 319.75 L289.95 322.18 L289.94 324.62 L289.93 327.05 L289.92 329.49 L289.91 331.92 L289.91 334.36 L289.91 336.79 L289.92 339.23 L289.93 341.66 L289.95 344.09 L289.97 346.53 L290 348.96 L290.03 351.4 L290.06 353.83 L290.09 356.27 L290.12 358.7 L290.15 361.14 L290.18 363.57 L290.22 366.01 L290.25 368.44 L290.29 370.87 L290.33 373.31 L290.36 375.74 L290.4 378.18 L290.43 380.61 L290.47 383.05 L290.51 385.48 L290.55 387.92 L290.58 390.35 L290.62 392.78 L290.66 395.22 L290.7 397.65 L290.73 400.09 L290.77 402.52 L290.81 404.96 L290.85 407.39 L290.88 409.83 L290.92 412.26 L290.96 414.7 L291 417.13 Z" fill="#c4e0a4" stroke="#8c9a84" stroke-width="0.45"/>
<path d="M301.88 417.13 L301.92 414.7 L301.95 412.26 L301.99 409.83 L302.03 407.39 L302.07 404.96 L302.11 402.52 L302.15 400.09 L302.2 397.65 L302.24 395.22 L302.28 392.78 L302.33 390.35 L302.37 387.92 L302.41 385.48 L302.46 383.05 L302.5 380.61 L302.55 378.18 L302.59 375.74 L302.64 373.31 L302.69 370.87 L302.73 368.44 L302.78 366.01 L302.82 363.57 L302.87 361.14 L302.91 358.7 L302.96 356.27 L303 353.83 L303.04 351.4 L303.09 348.96 L303.13 346.53 L303.17 344.09 L303.21 341.66 L303.24 339.23 L303.28 336.79 L303.31 334.36 L303.34 331.92 L303.37 329.49 L303.4 327.05 L303.42 324.62 L303.43 322.18 L303.44 319.75 L303.44 317.32 L303.43 314.88 L303.42 312.45 L303.4 310.01 L303.39 307.58 L303.37 305.14 L303.35 302.71 L303.33 300.27 L303.31 297.84 L303.28 295.4 L303.26 292.97 L303.23 290.54 L303.21 288.1 L303.18 285.67 L303.15 283.23 L303.13 280.8 L303.1 278.36 L303.07 275.93 L303.04 273.49 L303.01 271.06 L302.98 268.63 L302.95 266.19 L302.92 263.76 L302.89 261.32 L302.86 258.89 L302.83 256.45 L302.8 254.02 L302.77 251.58 L302.73 249.15 L302.7 246.72 L302.67 244.28 L302.64 241.85 L302.61 239.41 L302.58 236.98 L302.55 234.54 L302.51 232.11 L302.48 229.67 L302.45 227.24 L302.42 224.8 L302.39 222.37 L299.1 222.37 L299.07 224.8 L299.04 227.24 L299 229.67 L298.97 232.11 L298.94 234.54 L298.91 236.98 L298.88 239.41 L298.85 241.85 L298.82 244.28 L298.79 246.72 L298.75 249.15 L298.72 251.58 L298.69 254.02 L298.66 256.45 L298.63 258.89 L298.6 261.32 L298.57 263.76 L298.54 266.19 L298.51 268.63 L298.48 271.06 L298.45 273.49 L298.42 275.93 L298.39 278.36 L298.36 280.8 L298.33 283.23 L298.31 285.67 L298.28 288.1 L298.25 290.54 L298.23 292.97 L298.21 295.4 L298.18 297.84 L298.16 300.27 L298.14 302.71 L298.12 305.14 L298.1 307.58 L298.09 310.01 L298.07 312.45 L298.06 314.88 L298.05 317.32 L298.04 319.75 L298.05 322.18 L298.07 324.62 L298.09 327.05 L298.12 329.49 L298.15 331.92 L298.18 334.36 L298.21 336.79 L298.25 339.23 L298.28 341.66 L298.32 344.09 L298.36 346.53 L298.4 348.96 L298.44 351.4 L298.49 353.83 L298.53 356.27 L298.58 358.7 L298.62 361.14 L298.67 363.57 L298.71 366.01 L298.76 368.44 L298.8 370.87 L298.85 373.31 L298.89 375.74 L298.94 378.18 L298.98 380.61 L299.03 383.05 L299.07 385.48 L299.12 387.92 L299.16 390.35 L299.21 392.78 L299.25 395.22 L299.29 397.65 L299.33 400.09 L299.38 402.52 L299.42 404.96 L299.46 407.39 L299.5 409.83 L299.53 412.26 L299.57 414.7 L299.61 417.13 Z" fill="#c4e0a4" stroke="#8c9a84" stroke-width="0.45"/>
<path d="M311.64 417.13 L311.67 414.7 L311.71 412.26 L311.75 409.83 L311.79 407.39 L311.82 404.96 L311.86 402.52 L311.9 400.09 L311.93 397.65 L311.97 395.22 L312.01 392.78 L312.04 390.35 L312.08 387.92 L312.12 385.48 L312.15 383.05 L312.19 380.61 L312.23 378.18 L312.26 375.74 L312.3 373.31 L312.34 370.87 L312.37 368.44 L312.41 366.01 L312.45 363.57 L312.48 361.14 L312.52 358.7 L312.55 356.27 L312.59 353.83 L312.62 351.4 L312.66 348.96 L312.69 346.53 L312.73 344.09 L312.76 341.66 L312.8 339.23 L312.83 336.79 L312.86 334.36 L312.89 331.92 L312.93 329.49 L312.95 327.05 L312.98 324.62 L313.01 322.18 L313.03 319.75 L313.06 317.32 L313.08 314.88 L313.09 312.45 L313.1 310.01 L313.1 307.58 L313.1 305.14 L313.1 302.71 L313.09 300.27 L313.08 297.84 L313.07 295.4 L313.05 292.97 L313.04 290.54 L313.02 288.1 L313 285.67 L312.98 283.23 L312.96 280.8 L312.94 278.36 L312.91 275.93 L312.89 273.49 L312.87 271.06 L312.85 268.63 L312.82 266.19 L312.8 263.76 L312.78 261.32 L312.75 258.89 L312.73 256.45 L312.71 254.02 L312.68 251.58 L312.66 249.15 L312.63 246.72 L312.61 244.28 L312.58 241.85 L312.56 239.41 L312.54 236.98 L312.51 234.54 L312.49 232.11 L312.46 229.67 L312.44 227.24 L312.41 224.8 L312.39 222.37 L308.62 222.37 L308.6 224.8 L308.57 227.24 L308.55 229.67 L308.52 232.11 L308.5 234.54 L308.47 236.98 L308.45 239.41 L308.43 241.85 L308.4 244.28 L308.38 246.72 L308.35 249.15 L308.33 251.58 L308.31 254.02 L308.28 256.45 L308.26 258.89 L308.23 261.32 L308.21 263.76 L308.19 266.19 L308.16 268.63 L308.14 271.06 L308.12 273.49 L308.1 275.93 L308.07 278.36 L308.05 280.8 L308.03 283.23 L308.01 285.67 L307.99 288.1 L307.97 290.54 L307.96 292.97 L307.94 295.4 L307.93 297.84 L307.92 300.27 L307.91 302.71 L307.91 305.14 L307.91 307.58 L307.91 310.01 L307.92 312.45 L307.93 314.88 L307.95 317.32 L307.98 319.75 L308 322.18 L308.03 324.62 L308.06 327.05 L308.09 329.49 L308.12 331.92 L308.15 334.36 L308.18 336.79 L308.21 339.23 L308.25 341.66 L308.28 344.09 L308.32 346.53 L308.35 348.96 L308.39 351.4 L308.42 353.83 L308.46 356.27 L308.49 358.7 L308.53 361.14 L308.57 363.57 L308.6 366.01 L308.64 368.44 L308.67 370.87 L308.71 373.31 L308.75 375.74 L308.78 378.18 L308.82 380.61 L308.86 383.05 L308.89 385.48 L308.93 387.92 L308.97 390.35 L309 392.78 L309.04 395.22 L309.08 397.65 L309.11 400.09 L309.15 402.52 L309.19 404.96 L309.23 407.39 L309.26 409.83 L309.3 412.26 L309.34 414.7 L309.37 417.13 Z" fill="#c4e0a4" stroke="#8c9a84" stroke-width="0.45"/>
<path d="M319.8 417.13 L319.83 414.7 L319.87 412.26 L319.91 409.83 L319.94 407.39 L319.98 404.96 L320.02 402.52 L320.05 400.09 L320.09 397.65 L320.13 395.22 L320.17 392.78 L320.2 390.35 L320.24 387.92 L320.28 385.48 L320.31 383.05 L320.35 380.61 L320.39 378.18 L320.42 375.74 L320.46 373.31 L320.49 370.87 L320.53 368.44 L320.57 366.01 L320.6 363.57 L320.64 361.14 L320.68 358.7 L320.71 356.27 L320.75 353.83 L320.78 351.4 L320.82 348.96 L320.85 346.53 L320.89 344.09 L320.92 341.66 L320.95 339.23 L320.99 336.79 L321.02 334.36 L321.05 331.92 L321.08 329.49 L321.11 327.05 L321.14 324.62 L321.16 322.18 L321.18 319.75 L321.2 317.32 L321.22 314.88 L321.23 312.45 L321.24 310.01 L321.24 307.58 L321.24 305.14 L321.23 302.71 L321.22 300.27 L321.21 297.84 L321.19 295.4 L321.18 292.97 L321.16 290.54 L321.14 288.1 L321.12 285.67 L321.1 283.23 L321.08 280.8 L321.06 278.36 L321.03 275.93 L321.01 273.49 L320.99 271.06 L320.97 268.63 L320.94 266.19 L320.92 263.76 L320.89 261.32 L320.87 258.89 L320.85 256.45 L320.82 254.02 L320.8 251.58 L320.78 249.15 L320.75 246.72 L320.73 244.28 L320.7 241.85 L320.68 239.41 L320.65 236.98 L320.63 234.54 L320.61 232.11 L320.58 229.67 L320.56 227.24 L320.53 224.8 L320.51 222.37 L316.77 222.37 L316.75 224.8 L316.72 227.24 L316.7 229.67 L316.67 232.11 L316.65 234.54 L316.62 236.98 L316.6 239.41 L316.58 241.85 L316.55 244.28 L316.53 246.72 L316.5 249.15 L316.48 251.58 L316.46 254.02 L316.43 256.45 L316.41 258.89 L316.38 261.32 L316.36 263.76 L316.34 266.19 L316.31 268.63 L316.29 271.06 L316.27 273.49 L316.25 275.93 L316.22 278.36 L316.2 280.8 L316.18 283.23 L316.16 285.67 L316.14 288.1 L316.12 290.54 L316.1 292.97 L316.09 295.4 L316.07 297.84 L316.06 300.27 L316.05 302.71 L316.04 305.14 L316.04 307.58 L316.04 310.01 L316.05 312.45 L316.06 314.88 L316.07 317.32 L316.09 319.75 L316.12 322.18 L316.14 324.62 L316.17 327.05 L316.2 329.49 L316.23 331.92 L316.26 334.36 L316.29 336.79 L316.33 339.23 L316.36 341.66 L316.39 344.09 L316.43 346.53 L316.46 348.96 L316.5 351.4 L316.53 353.83 L316.57 356.27 L316.6 358.7 L316.64 361.14 L316.68 363.57 L316.71 366.01 L316.75 368.44 L316.78 370.87 L316.82 373.31 L316.86 375.74 L316.89 378.18 L316.93 380.61 L316.97 383.05 L317 385.48 L317.04 387.92 L317.08 390.35 L317.11 392.78 L317.15 395.22 L317.19 397.65 L317.22 400.09 L317.26 402.52 L317.3 404.96 L317.33 407.39 L317.37 409.83 L317.41 412.26 L317.45 414.7 L317.48 417.13 Z" fill="#c4e0a4" stroke="#8c9a84" stroke-width="0.45"/>
<path d="M329.24 417.13 L329.27 414.7 L329.31 412.26 L329.35 409.83 L329.38 407.39 L329.42 404.96 L329.46 402.52 L329.5 400.09 L329.53 397.65 L329.57 395.22 L329.61 392.78 L329.64 390.35 L329.68 387.92 L329.72 385.48 L329.75 383.05 L329.79 380.61 L329.83 378.18 L329.87 375.74 L329.9 373.31 L329.94 370.87 L329.98 368.44 L330.01 366.01 L330.05 363.57 L330.09 361.14 L330.12 358.7 L330.16 356.27 L330.2 353.83 L330.23 351.4 L330.27 348.96 L330.3 346.53 L330.34 344.09 L330.38 341.66 L330.41 339.23 L330.45 336.79 L330.48 334.36 L330.52 331.92 L330.55 329.49 L330.59 327.05 L330.62 324.62 L330.66 322.18 L330.69 319.75 L330.72 317.32 L330.76 314.88 L330.79 312.45 L330.82 310.01 L330.85 307.58 L330.88 305.14 L330.91 302.71 L330.93 300.27 L330.95 297.84 L330.97 295.4 L330.99 292.97 L331 290.54 L331 288.1 L331 285.67 L331 283.23 L330.99 280.8 L330.98 278.36 L330.96 275.93 L330.95 273.49 L330.93 271.06 L330.91 268.63 L330.89 266.19 L330.87 263.76 L330.85 261.32 L330.83 258.89 L330.81 256.45 L330.79 254.02 L330.76 251.58 L330.74 249.15 L330.72 246.72 L330.7 244.28 L330.67 241.85 L330.65 239.41 L330.62 236.98 L330.6 234.54 L330.58 232.11 L330.55 229.67 L330.53 227.24 L330.5 224.8 L330.48 222.37 L326.32 222.37 L326.3 224.8 L326.27 227.24 L326.25 229.67 L326.22 232.11 L326.2 234.54 L326.18 236.98 L326.15 239.41 L326.13 241.85 L326.11 244.28 L326.08 246.72 L326.06 249.15 L326.04 251.58 L326.01 254.02 L325.99 256.45 L325.97 258.89 L325.95 261.32 L325.93 263.76 L325.91 266.19 L325.89 268.63 L325.87 271.06 L325.85 273.49 L325.84 275.93 L325.82 278.36 L325.81 280.8 L325.81 283.23 L325.8 285.67 L325.8 288.1 L325.81 290.54 L325.82 292.97 L325.83 295.4 L325.85 297.84 L325.87 300.27 L325.9 302.71 L325.92 305.14 L325.95 307.58 L325.98 310.01 L326.01 312.45 L326.04 314.88 L326.08 317.32 L326.11 319.75 L326.14 322.18 L326.18 324.62 L326.21 327.05 L326.25 329.49 L326.28 331.92 L326.32 334.36 L326.35 336.79 L326.39 339.23 L326.42 341.66 L326.46 344.09 L326.5 346.53 L326.53 348.96 L326.57 351.4 L326.61 353.83 L326.64 356.27 L326.68 358.7 L326.72 361.14 L326.75 363.57 L326.79 366.01 L326.83 368.44 L326.86 370.87 L326.9 373.31 L326.94 375.74 L326.97 378.18 L327.01 380.61 L327.05 383.05 L327.08 385.48 L327.12 387.92 L327.16 390.35 L327.19 392.78 L327.23 395.22 L327.27 397.65 L327.31 400.09 L327.34 402.52 L327.38 404.96 L327.42 407.39 L327.45 409.83 L327.49 412.26 L327.53 414.7 L327.57 417.13 Z" fill="#c4e0a4" stroke="#8c9a84" stroke-width="0.45"/>
<path d="M347.76 417.13 L347.8 414.7 L347.83 412.26 L347.87 409.83 L347.9 407.39 L347.94 404.96 L347.97 402.52 L348.01 400.09 L348.05 397.65 L348.08 395.22 L348.12 392.78 L348.15 390.35 L348.19 387.92 L348.22 385.48 L348.26 383.05 L348.29 380.61 L348.33 378.18 L348.36 375.74 L348.4 373.31 L348.44 370.87 L348.47 368.44 L348.51 366.01 L348.54 363.57 L348.58 361.14 L348.61 358.7 L348.65 356.27 L348.68 353.83 L348.72 351.4 L348.75 348.96 L348.78 346.53 L348.82 344.09 L348.85 341.66 L348.89 339.23 L348.92 336.79 L348.95 334.36 L348.99 331.92 L349.02 329.49 L349.05 327.05 L349.08 324.62 L349.11 322.18 L349.15 319.75 L349.17 317.32 L349.2 314.88 L349.23 312.45 L349.26 310.01 L349.28 307.58 L349.3 305.14 L349.32 302.71 L349.33 300.27 L349.34 297.84 L349.34 295.4 L349.34 292.97 L349.33 290.54 L349.32 288.1 L349.31 285.67 L349.3 283.23 L349.28 280.8 L349.27 278.36 L349.25 275.93 L349.23 273.49 L349.21 271.06 L349.19 268.63 L349.17 266.19 L349.15 263.76 L349.13 261.32 L349.1 258.89 L349.08 256.45 L349.06 254.02 L349.04 251.58 L349.01 249.15 L348.99 246.72 L348.97 244.28 L348.95 241.85 L348.92 239.41 L348.9 236.98 L348.88 234.54 L348.85 232.11 L348.83 229.67 L348.81 227.24 L348.78 224.8 L348.76 222.37 L344.92 222.37 L344.89 224.8 L344.87 227.24 L344.85 229.67 L344.82 232.11 L344.8 234.54 L344.78 236.98 L344.75 239.41 L344.73 241.85 L344.71 244.28 L344.68 246.72 L344.66 249.15 L344.64 251.58 L344.62 254.02 L344.59 256.45 L344.57 258.89 L344.55 261.32 L344.53 263.76 L344.51 266.19 L344.49 268.63 L344.47 271.06 L344.45 273.49 L344.43 275.93 L344.41 278.36 L344.39 280.8 L344.38 283.23 L344.36 285.67 L344.35 288.1 L344.35 290.54 L344.34 292.97 L344.34 295.4 L344.34 297.84 L344.35 300.27 L344.36 302.71 L344.38 305.14 L344.4 307.58 L344.42 310.01 L344.45 312.45 L344.47 314.88 L344.5 317.32 L344.53 319.75 L344.56 322.18 L344.59 324.62 L344.62 327.05 L344.66 329.49 L344.69 331.92 L344.72 334.36 L344.76 336.79 L344.79 339.23 L344.82 341.66 L344.86 344.09 L344.89 346.53 L344.93 348.96 L344.96 351.4 L345 353.83 L345.03 356.27 L345.07 358.7 L345.1 361.14 L345.14 363.57 L345.17 366.01 L345.21 368.44 L345.24 370.87 L345.28 373.31 L345.31 375.74 L345.35 378.18 L345.38 380.61 L345.42 383.05 L345.45 385.48 L345.49 387.92 L345.52 390.35 L345.56 392.78 L345.6 395.22 L345.63 397.65 L345.67 400.09 L345.7 402.52 L345.74 404.96 L345.77 407.39 L345.81 409.83 L345.85 412.26 L345.88 414.7 L345.92 417.13 Z" fill="#c4e0a4" stroke="#8c9a84" stroke-width="0.45"/>
<path d="M370.15 417.13 L370.19 414.7 L370.23 412.26 L370.26 409.83 L370.3 407.39 L370.33 404.96 L370.37 402.52 L370.4 400.09 L370.44 397.65 L370.48 395.22 L370.51 392.78 L370.55 390.35 L370.58 387.92 L370.62 385.48 L370.65 383.05 L370.69 380.61 L370.73 378.18 L370.76 375.74 L370.8 373.31 L370.83 370.87 L370.87 368.44 L370.9 366.01 L370.94 363.57 L370.98 361.14 L371.01 358.7 L371.05 356.27 L371.08 353.83 L371.12 351.4 L371.15 348.96 L371.19 346.53 L371.22 344.09 L371.26 341.66 L371.29 339.23 L371.33 336.79 L371.36 334.36 L371.4 331.92 L371.43 329.49 L371.47 327.05 L371.5 324.62 L371.54 322.18 L371.57 319.75 L371.61 317.32 L371.64 314.88 L371.67 312.45 L371.71 310.01 L371.74 307.58 L371.77 305.14 L371.81 302.71 L371.84 300.27 L371.87 297.84 L371.9 295.4 L371.93 292.97 L371.96 290.54 L371.99 288.1 L372.01 285.67 L372.04 283.23 L372.06 280.8 L372.08 278.36 L372.1 275.93 L372.11 273.49 L372.11 271.06 L372.11 268.63 L372.11 266.19 L372.1 263.76 L372.1 261.32 L372.08 258.89 L372.07 256.45 L372.05 254.02 L372.04 251.58 L372.02 249.15 L372 246.72 L371.98 244.28 L371.96 241.85 L371.94 239.41 L371.92 236.98 L371.89 234.54 L371.87 232.11 L371.85 229.67 L371.83 227.24 L371.81 224.8 L371.78 222.37 L367.45 222.37 L367.42 224.8 L367.4 227.24 L367.38 229.67 L367.36 232.11 L367.33 234.54 L367.31 236.98 L367.29 239.41 L367.27 241.85 L367.25 244.28 L367.23 246.72 L367.21 249.15 L367.19 251.58 L367.18 254.02 L367.16 256.45 L367.15 258.89 L367.13 261.32 L367.12 263.76 L367.12 266.19 L367.11 268.63 L367.12 271.06 L367.12 273.49 L367.13 275.93 L367.15 278.36 L367.17 280.8 L367.19 283.23 L367.21 285.67 L367.24 288.1 L367.27 290.54 L367.3 292.97 L367.33 295.4 L367.36 297.84 L367.39 300.27 L367.42 302.71 L367.45 305.14 L367.49 307.58 L367.52 310.01 L367.55 312.45 L367.59 314.88 L367.62 317.32 L367.66 319.75 L367.69 322.18 L367.73 324.62 L367.76 327.05 L367.8 329.49 L367.83 331.92 L367.87 334.36 L367.9 336.79 L367.94 339.23 L367.97 341.66 L368.01 344.09 L368.04 346.53 L368.08 348.96 L368.11 351.4 L368.15 353.83 L368.18 356.27 L368.22 358.7 L368.25 361.14 L368.29 363.57 L368.32 366.01 L368.36 368.44 L368.4 370.87 L368.43 373.31 L368.47 375.74 L368.5 378.18 L368.54 380.61 L368.57 383.05 L368.61 385.48 L368.65 387.92 L368.68 390.35 L368.72 392.78 L368.75 395.22 L368.79 397.65 L368.82 400.09 L368.86 402.52 L368.9 404.96 L368.93 407.39 L368.97 409.83 L369 412.26 L369.04 414.7 L369.07 417.13 Z" fill="#c4e0a4" stroke="#8c9a84" stroke-width="0.45"/>
<path d="M409.37 417.13 L409.4 414.7 L409.44 412.26 L409.47 409.83 L409.51 407.39 L409.54 404.96 L409.58 402.52 L409.62 400.09 L409.65 397.65 L409.69 395.22 L409.72 392.78 L409.76 390.35 L409.79 387.92 L409.83 385.48 L409.87 383.05 L409.9 380.61 L409.94 378.18 L409.97 375.74 L410.01 373.31 L410.04 370.87 L410.08 368.44 L410.11 366.01 L410.15 363.57 L410.19 361.14 L410.22 358.7 L410.26 356.27 L410.29 353.83 L410.33 351.4 L410.36 348.96 L410.4 346.53 L410.43 344.09 L410.47 341.66 L410.5 339.23 L410.54 336.79 L410.57 334.36 L410.6 331.92 L410.64 329.49 L410.67 327.05 L410.71 324.62 L410.74 322.18 L410.77 319.75 L410.81 317.32 L410.84 314.88 L410.87 312.45 L410.9 310.01 L410.94 307.58 L410.97 305.14 L411 302.71 L411.02 300.27 L411.05 297.84 L411.08 295.4 L411.1 292.97 L411.12 290.54 L411.14 288.1 L411.15 285.67 L411.16 283.23 L411.16 280.8 L411.16 278.36 L411.15 275.93 L411.14 273.49 L411.13 271.06 L411.12 268.63 L411.1 266.19 L411.09 263.76 L411.07 261.32 L411.05 258.89 L411.03 256.45 L411.01 254.02 L410.99 251.58 L410.97 249.15 L410.95 246.72 L410.92 244.28 L410.9 241.85 L410.88 239.41 L410.86 236.98 L410.84 234.54 L410.81 232.11 L410.79 229.67 L410.77 227.24 L410.74 224.8 L410.72 222.37 L406.6 222.37 L406.57 224.8 L406.55 227.24 L406.53 229.67 L406.51 232.11 L406.48 234.54 L406.46 236.98 L406.44 239.41 L406.42 241.85 L406.39 244.28 L406.37 246.72 L406.35 249.15 L406.33 251.58 L406.31 254.02 L406.29 256.45 L406.27 258.89 L406.25 261.32 L406.23 263.76 L406.21 266.19 L406.2 268.63 L406.19 271.06 L406.17 273.49 L406.17 275.93 L406.16 278.36 L406.16 280.8 L406.16 283.23 L406.17 285.67 L406.18 288.1 L406.2 290.54 L406.22 292.97 L406.24 295.4 L406.27 297.84 L406.29 300.27 L406.32 302.71 L406.35 305.14 L406.38 307.58 L406.41 310.01 L406.45 312.45 L406.48 314.88 L406.51 317.32 L406.54 319.75 L406.58 322.18 L406.61 324.62 L406.64 327.05 L406.68 329.49 L406.71 331.92 L406.75 334.36 L406.78 336.79 L406.82 339.23 L406.85 341.66 L406.89 344.09 L406.92 346.53 L406.96 348.96 L406.99 351.4 L407.03 353.83 L407.06 356.27 L407.1 358.7 L407.13 361.14 L407.17 363.57 L407.2 366.01 L407.24 368.44 L407.27 370.87 L407.31 373.31 L407.35 375.74 L407.38 378.18 L407.42 380.61 L407.45 383.05 L407.49 385.48 L407.52 387.92 L407.56 390.35 L407.59 392.78 L407.63 395.22 L407.67 397.65 L407.7 400.09 L407.74 402.52 L407.77 404.96 L407.81 407.39 L407.84 409.83 L407.88 412.26 L407.92 414.7 L407.95 417.13 Z" fill="#c4e0a4" stroke="#8c9a84" stroke-width="0.45"/>
</g>
<g clip-path="url(#clip140634828842688)">
<rect x="259.14" y="396.45" width="6.2" height="2.4" fill="#ff1010" stroke="none" stroke-width="1"/>
<rect x="276.49" y="339.65" width="6.2" height="2.4" fill="#ff1010" stroke="none" stroke-width="1"/>
<rect x="289.51" y="334.78" width="6.2" height="2.4" fill="#ff1010" stroke="none" stroke-width="1"/>
<rect x="297.64" y="315.3" width="6.2" height="2.4" fill="#ff1010" stroke="none" stroke-width="1"/>
<rect x="307.41" y="304.27" width="6.2" height="2.4" fill="#ff1010" stroke="none" stroke-width="1"/>
<rect x="315.54" y="309.46" width="6.2" height="2.4" fill="#ff1010" stroke="none" stroke-width="1"/>
<rect x="325.3" y="286.09" width="6.2" height="2.4" fill="#ff1010" stroke="none" stroke-width="1"/>
<rect x="343.74" y="298.1" width="6.2" height="2.4" fill="#ff1010" stroke="none" stroke-width="1"/>
<rect x="366.51" y="271.81" width="6.2" height="2.4" fill="#ff1010" stroke="none" stroke-width="1"/>
<rect x="405.56" y="286.41" width="6.2" height="2.4" fill="#ff1010" stroke="none" stroke-width="1"/>
</g>
<g clip-path="url(#clip140634828842688)">
<line x1="262.24" y1="370.06" x2="262.24" y2="400.9" stroke="#1a72c0" stroke-width="1"/>
<line x1="260.84" y1="370.06" x2="263.64" y2="370.06" stroke="#1a72c0" stroke-width="1"/>
<line x1="260.84" y1="400.9" x2="263.64" y2="400.9" stroke="#1a72c0" stroke-width="1"/>
<line x1="260.04" y1="385.32" x2="264.44" y2="385.32" stroke="#1a72c0" stroke-width="1.2"/>
<line x1="279.59" y1="337.28" x2="279.59" y2="350.26" stroke="#1a72c0" stroke-width="1"/>
<line x1="278.19" y1="337.28" x2="280.99" y2="337.28" stroke="#1a72c0" stroke-width="1"/>
<line x1="278.19" y1="350.26" x2="280.99" y2="350.26" stroke="#1a72c0" stroke-width="1"/>
<line x1="277.39" y1="343.45" x2="281.79" y2="343.45" stroke="#1a72c0" stroke-width="1.2"/>
<line x1="292.61" y1="328.51" x2="292.61" y2="338.58" stroke="#1a72c0" stroke-width="1"/>
<line x1="291.21" y1="328.51" x2="294.01" y2="328.51" stroke="#1a72c0" stroke-width="1"/>
<line x1="291.21" y1="338.58" x2="294.01" y2="338.58" stroke="#1a72c0" stroke-width="1"/>
<line x1="290.41" y1="333.38" x2="294.81" y2="333.38" stroke="#1a72c0" stroke-width="1.2"/>
<line x1="300.74" y1="317.15" x2="300.74" y2="326.89" stroke="#1a72c0" stroke-width="1"/>
<line x1="299.34" y1="317.15" x2="302.14" y2="317.15" stroke="#1a72c0" stroke-width="1"/>
<line x1="299.34" y1="326.89" x2="302.14" y2="326.89" stroke="#1a72c0" stroke-width="1"/>
<line x1="298.54" y1="322.02" x2="302.94" y2="322.02" stroke="#1a72c0" stroke-width="1.2"/>
<line x1="310.51" y1="301.25" x2="310.51" y2="310.99" stroke="#1a72c0" stroke-width="1"/>
<line x1="309.11" y1="301.25" x2="311.91" y2="301.25" stroke="#1a72c0" stroke-width="1"/>
<line x1="309.11" y1="310.99" x2="311.91" y2="310.99" stroke="#1a72c0" stroke-width="1"/>
<line x1="308.31" y1="306.12" x2="312.71" y2="306.12" stroke="#1a72c0" stroke-width="1.2"/>
<line x1="318.64" y1="298.65" x2="318.64" y2="312.28" stroke="#1a72c0" stroke-width="1"/>
<line x1="317.24" y1="298.65" x2="320.04" y2="298.65" stroke="#1a72c0" stroke-width="1"/>
<line x1="317.24" y1="312.28" x2="320.04" y2="312.28" stroke="#1a72c0" stroke-width="1"/>
<line x1="316.44" y1="305.47" x2="320.84" y2="305.47" stroke="#1a72c0" stroke-width="1.2"/>
<line x1="328.4" y1="281.45" x2="328.4" y2="294.43" stroke="#1a72c0" stroke-width="1"/>
<line x1="327" y1="281.45" x2="329.8" y2="281.45" stroke="#1a72c0" stroke-width="1"/>
<line x1="327" y1="294.43" x2="329.8" y2="294.43" stroke="#1a72c0" stroke-width="1"/>
<line x1="326.2" y1="287.94" x2="330.6" y2="287.94" stroke="#1a72c0" stroke-width="1.2"/>
<line x1="346.84" y1="280.15" x2="346.84" y2="299.62" stroke="#1a72c0" stroke-width="1"/>
<line x1="345.44" y1="280.15" x2="348.24" y2="280.15" stroke="#1a72c0" stroke-width="1"/>
<line x1="345.44" y1="299.62" x2="348.24" y2="299.62" stroke="#1a72c0" stroke-width="1"/>
<line x1="344.64" y1="289.89" x2="349.04" y2="289.89" stroke="#1a72c0" stroke-width="1.2"/>
<line x1="369.61" y1="238.6" x2="369.61" y2="291.83" stroke="#1a72c0" stroke-width="1"/>
<line x1="368.21" y1="238.6" x2="371.01" y2="238.6" stroke="#1a72c0" stroke-width="1"/>
<line x1="368.21" y1="291.83" x2="371.01" y2="291.83" stroke="#1a72c0" stroke-width="1"/>
<line x1="367.41" y1="264.57" x2="371.81" y2="264.57" stroke="#1a72c0" stroke-width="1.2"/>
<line x1="408.66" y1="241.2" x2="408.66" y2="297.03" stroke="#1a72c0" stroke-width="1"/>
<line x1="407.26" y1="241.2" x2="410.06" y2="241.2" stroke="#1a72c0" stroke-width="1"/>
<line x1="407.26" y1="297.03" x2="410.06" y2="297.03" stroke="#1a72c0" stroke-width="1"/>
<line x1="406.46" y1="268.79" x2="410.86" y2="268.79" stroke="#1a72c0" stroke-width="1.2"/>
<path d="M262.24 385.32 L279.59 343.45 L292.61 333.38 L300.74 322.02 L310.51 306.12 L318.64 305.47 L328.4 287.94 L346.84 289.89 L369.61 264.57 L408.66 268.79" fill="none" stroke="#1a72c0" stroke-width="2" fill="none" stroke-linejoin="round"/>
<path d="M259.74 382.82 l5 5 M264.74 382.82 l-5 5" stroke="#1a72c0" stroke-width="1.5"/>
<circle cx="262.24" cy="385.32" r="2" fill="#1a72c0"/>
<path d="M277.09 340.95 l5 5 M282.09 340.95 l-5 5" stroke="#1a72c0" stroke-width="1.5"/>
<circle cx="279.59" cy="343.45" r="2" fill="#1a72c0"/>
<path d="M290.11 330.88 l5 5 M295.11 330.88 l-5 5" stroke="#1a72c0" stroke-width="1.5"/>
<circle cx="292.61" cy="333.38" r="2" fill="#1a72c0"/>
<path d="M298.24 319.52 l5 5 M303.24 319.52 l-5 5" stroke="#1a72c0" stroke-width="1.5"/>
<circle cx="300.74" cy="322.02" r="2" fill="#1a72c0"/>
<path d="M308.01 303.62 l5 5 M313.01 303.62 l-5 5" stroke="#1a72c0" stroke-width="1.5"/>
<circle cx="310.51" cy="306.12" r="2" fill="#1a72c0"/>
<path d="M316.14 302.97 l5 5 M321.14 302.97 l-5 5" stroke="#1a72c0" stroke-width="1.5"/>
<circle cx="318.64" cy="305.47" r="2" fill="#1a72c0"/>
<path d="M325.9 285.44 l5 5 M330.9 285.44 l-5 5" stroke="#1a72c0" stroke-width="1.5"/>
<circle cx="328.4" cy="287.94" r="2" fill="#1a72c0"/>
<path d="M344.34 287.39 l5 5 M349.34 287.39 l-5 5" stroke="#1a72c0" stroke-width="1.5"/>
<circle cx="346.84" cy="289.89" r="2" fill="#1a72c0"/>
<path d="M367.11 262.07 l5 5 M372.11 262.07 l-5 5" stroke="#1a72c0" stroke-width="1.5"/>
<circle cx="369.61" cy="264.57" r="2" fill="#1a72c0"/>
<path d="M406.16 266.29 l5 5 M411.16 266.29 l-5 5" stroke="#1a72c0" stroke-width="1.5"/>
<circle cx="408.66" cy="268.79" r="2" fill="#1a72c0"/>
<line x1="408.66" y1="268.79" x2="416.66" y2="269.09" stroke="#1a72c0" stroke-width="1.5"/>
<path d="M417.66 269.09 L415.16 267.49 L415.16 270.69 Z" fill="#1a72c0" stroke="none" stroke-width="1"/>
</g>
<rect x="247.6" y="238.6" width="189.8" height="162.3" fill="none" stroke="#2b2b2b" stroke-width="1"/>
<line x1="247.6" y1="400.9" x2="247.6" y2="398.9" stroke="#2b2b2b" stroke-width="0.8"/>
<line x1="247.6" y1="238.6" x2="247.6" y2="240.6" stroke="#2b2b2b" stroke-width="0.8"/>
<text x="247.6" y="411.8" font-size="9.3" text-anchor="middle" fill="#222" stroke="#222" stroke-width="0.18">0.5</text>
<line x1="274.71" y1="400.9" x2="274.71" y2="398.9" stroke="#2b2b2b" stroke-width="0.8"/>
<line x1="274.71" y1="238.6" x2="274.71" y2="240.6" stroke="#2b2b2b" stroke-width="0.8"/>
<text x="274.71" y="411.8" font-size="9.3" text-anchor="middle" fill="#222" stroke="#222" stroke-width="0.18">1.0</text>
<line x1="301.83" y1="400.9" x2="301.83" y2="398.9" stroke="#2b2b2b" stroke-width="0.8"/>
<line x1="301.83" y1="238.6" x2="301.83" y2="240.6" stroke="#2b2b2b" stroke-width="0.8"/>
<text x="301.83" y="411.8" font-size="9.3" text-anchor="middle" fill="#222" stroke="#222" stroke-width="0.18">1.5</text>
<line x1="328.94" y1="400.9" x2="328.94" y2="398.9" stroke="#2b2b2b" stroke-width="0.8"/>
<line x1="328.94" y1="238.6" x2="328.94" y2="240.6" stroke="#2b2b2b" stroke-width="0.8"/>
<text x="328.94" y="411.8" font-size="9.3" text-anchor="middle" fill="#222" stroke="#222" stroke-width="0.18">2.0</text>
<line x1="356.06" y1="400.9" x2="356.06" y2="398.9" stroke="#2b2b2b" stroke-width="0.8"/>
<line x1="356.06" y1="238.6" x2="356.06" y2="240.6" stroke="#2b2b2b" stroke-width="0.8"/>
<text x="356.06" y="411.8" font-size="9.3" text-anchor="middle" fill="#222" stroke="#222" stroke-width="0.18">2.5</text>
<line x1="383.17" y1="400.9" x2="383.17" y2="398.9" stroke="#2b2b2b" stroke-width="0.8"/>
<line x1="383.17" y1="238.6" x2="383.17" y2="240.6" stroke="#2b2b2b" stroke-width="0.8"/>
<text x="383.17" y="411.8" font-size="9.3" text-anchor="middle" fill="#222" stroke="#222" stroke-width="0.18">3.0</text>
<line x1="410.29" y1="400.9" x2="410.29" y2="398.9" stroke="#2b2b2b" stroke-width="0.8"/>
<line x1="410.29" y1="238.6" x2="410.29" y2="240.6" stroke="#2b2b2b" stroke-width="0.8"/>
<text x="410.29" y="411.8" font-size="9.3" text-anchor="middle" fill="#222" stroke="#222" stroke-width="0.18">3.5</text>
<line x1="437.4" y1="400.9" x2="437.4" y2="398.9" stroke="#2b2b2b" stroke-width="0.8"/>
<line x1="437.4" y1="238.6" x2="437.4" y2="240.6" stroke="#2b2b2b" stroke-width="0.8"/>
<text x="437.4" y="411.8" font-size="9.3" text-anchor="middle" fill="#222" stroke="#222" stroke-width="0.18">4.0</text>
<line x1="247.6" y1="400.9" x2="249.6" y2="400.9" stroke="#2b2b2b" stroke-width="0.8"/>
<line x1="437.4" y1="400.9" x2="435.4" y2="400.9" stroke="#2b2b2b" stroke-width="0.8"/>
<text x="245.8" y="403.5" font-size="9.3" text-anchor="end" fill="#222" stroke="#222" stroke-width="0.18">-5</text>
<line x1="247.6" y1="368.44" x2="249.6" y2="368.44" stroke="#2b2b2b" stroke-width="0.8"/>
<line x1="437.4" y1="368.44" x2="435.4" y2="368.44" stroke="#2b2b2b" stroke-width="0.8"/>
<text x="245.8" y="371.04" font-size="9.3" text-anchor="end" fill="#222" stroke="#222" stroke-width="0.18">5</text>
<line x1="247.6" y1="335.98" x2="249.6" y2="335.98" stroke="#2b2b2b" stroke-width="0.8"/>
<line x1="437.4" y1="335.98" x2="435.4" y2="335.98" stroke="#2b2b2b" stroke-width="0.8"/>
<text x="245.8" y="338.58" font-size="9.3" text-anchor="end" fill="#222" stroke="#222" stroke-width="0.18">15</text>
<line x1="247.6" y1="303.52" x2="249.6" y2="303.52" stroke="#2b2b2b" stroke-width="0.8"/>
<line x1="437.4" y1="303.52" x2="435.4" y2="303.52" stroke="#2b2b2b" stroke-width="0.8"/>
<text x="245.8" y="306.12" font-size="9.3" text-anchor="end" fill="#222" stroke="#222" stroke-width="0.18">25</text>
<line x1="247.6" y1="271.06" x2="249.6" y2="271.06" stroke="#2b2b2b" stroke-width="0.8"/>
<line x1="437.4" y1="271.06" x2="435.4" y2="271.06" stroke="#2b2b2b" stroke-width="0.8"/>
<text x="245.8" y="273.66" font-size="9.3" text-anchor="end" fill="#222" stroke="#222" stroke-width="0.18">35</text>
<line x1="247.6" y1="238.6" x2="249.6" y2="238.6" stroke="#2b2b2b" stroke-width="0.8"/>
<line x1="437.4" y1="238.6" x2="435.4" y2="238.6" stroke="#2b2b2b" stroke-width="0.8"/>
<text x="245.8" y="241.2" font-size="9.3" text-anchor="end" fill="#222" stroke="#222" stroke-width="0.18">45</text>
<text x="342.8" y="425.1" font-size="10.3" text-anchor="middle" fill="#222" stroke="#222" stroke-width="0.18">Diameter (µm)</text>
<line x1="340.2" y1="231.8" x2="355" y2="231.8" stroke="#000" stroke-width="2"/>
<path d="M341 234.3 L344.5 233.6 L350.5 230 L354 229.4 M345.6 229.6 l3.8 4.2 M349.4 229.6 l-3.8 4.2" stroke="#1a72c0" stroke-width="1.5" fill="none"/>
<text x="357.8" y="233.9" font-size="9" text-anchor="start" fill="#222" stroke="#222" stroke-width="0.18">Mean</text>
<line x1="389.2" y1="231.8" x2="403.7" y2="231.8" stroke="#ff1010" stroke-width="2.2"/>
<text x="406.7" y="233.9" font-size="9" text-anchor="start" fill="#222" stroke="#222" stroke-width="0.18">Median</text>
<text x="464" y="221.6" font-size="18.2" text-anchor="start" fill="#000" font-weight="bold" stroke="#000" stroke-width="0.18">E</text>
<rect x="504.5" y="250.5" width="17.2" height="143" fill="#f5d0e4" stroke="none" stroke-width="1"/>
<rect x="521.7" y="250.5" width="17.2" height="143" fill="#e3efd5" stroke="none" stroke-width="1"/>
<rect x="538.9" y="250.5" width="57.33" height="143" fill="#f5d0e4" stroke="none" stroke-width="1"/>
<rect x="596.23" y="250.5" width="11.47" height="143" fill="#e3efd5" stroke="none" stroke-width="1"/>
<rect x="607.7" y="250.5" width="51.6" height="143" fill="#f5d0e4" stroke="none" stroke-width="1"/>
<rect x="659.3" y="250.5" width="17.2" height="143" fill="#e3efd5" stroke="none" stroke-width="1"/>
<line x1="510.23" y1="393.5" x2="675.5" y2="254.16" stroke="#1fa6ea" stroke-width="1.5" stroke-dasharray="3 2.2"/>
<path d="M670.5 253.06 L676.5 253.56 M675 258.56 L676.5 253.56" stroke="#1fa6ea" stroke-width="1.3" fill="none"/>
<path d="M509.66 393.5 L515.39 391.87 L521.41 385.33 L526.86 356.73 L533.17 343.25 L538.9 296.26 L544.06 306.27 L549.79 309.74 L556.67 310.76 L562.41 315.46 L567.57 322 L573.3 322 L578.46 306.27 L584.19 320.77 L590.5 313.62 L596.23 328.74 L600.82 308.11 L607.13 271.75 L612.86 276.65 L624.33 276.65 L629.49 277.67 L636.37 281.55 L641.53 280.94 L646.11 284.41 L652.99 285.02 L658.73 291.15 L665.03 274.4 L669.62 261.74 L674.78 254.18" fill="none" stroke="#111" stroke-width="1.45" fill="none" stroke-linejoin="round"/>
<rect x="504.5" y="250.5" width="172" height="143" fill="none" stroke="#2b2b2b" stroke-width="1"/>
<line x1="504.5" y1="393.5" x2="504.5" y2="391.5" stroke="#2b2b2b" stroke-width="0.8"/>
<line x1="504.5" y1="250.5" x2="504.5" y2="252.5" stroke="#2b2b2b" stroke-width="0.8"/>
<text x="504.5" y="403.7" font-size="9.3" text-anchor="middle" fill="#222" stroke="#222" stroke-width="0.18">0</text>
<line x1="533.17" y1="393.5" x2="533.17" y2="391.5" stroke="#2b2b2b" stroke-width="0.8"/>
<line x1="533.17" y1="250.5" x2="533.17" y2="252.5" stroke="#2b2b2b" stroke-width="0.8"/>
<text x="533.17" y="403.7" font-size="9.3" text-anchor="middle" fill="#222" stroke="#222" stroke-width="0.18">5</text>
<line x1="561.83" y1="393.5" x2="561.83" y2="391.5" stroke="#2b2b2b" stroke-width="0.8"/>
<line x1="561.83" y1="250.5" x2="561.83" y2="252.5" stroke="#2b2b2b" stroke-width="0.8"/>
<text x="561.83" y="403.7" font-size="9.3" text-anchor="middle" fill="#222" stroke="#222" stroke-width="0.18">10</text>
<line x1="590.5" y1="393.5" x2="590.5" y2="391.5" stroke="#2b2b2b" stroke-width="0.8"/>
<line x1="590.5" y1="250.5" x2="590.5" y2="252.5" stroke="#2b2b2b" stroke-width="0.8"/>
<text x="590.5" y="403.7" font-size="9.3" text-anchor="middle" fill="#222" stroke="#222" stroke-width="0.18">15</text>
<line x1="619.17" y1="393.5" x2="619.17" y2="391.5" stroke="#2b2b2b" stroke-width="0.8"/>
<line x1="619.17" y1="250.5" x2="619.17" y2="252.5" stroke="#2b2b2b" stroke-width="0.8"/>
<text x="619.17" y="403.7" font-size="9.3" text-anchor="middle" fill="#222" stroke="#222" stroke-width="0.18">20</text>
<line x1="647.83" y1="393.5" x2="647.83" y2="391.5" stroke="#2b2b2b" stroke-width="0.8"/>
<line x1="647.83" y1="250.5" x2="647.83" y2="252.5" stroke="#2b2b2b" stroke-width="0.8"/>
<text x="647.83" y="403.7" font-size="9.3" text-anchor="middle" fill="#222" stroke="#222" stroke-width="0.18">25</text>
<line x1="676.5" y1="393.5" x2="676.5" y2="391.5" stroke="#2b2b2b" stroke-width="0.8"/>
<line x1="676.5" y1="250.5" x2="676.5" y2="252.5" stroke="#2b2b2b" stroke-width="0.8"/>
<text x="676.5" y="403.7" font-size="9.3" text-anchor="middle" fill="#222" stroke="#222" stroke-width="0.18">30</text>
<line x1="504.5" y1="393.5" x2="506.5" y2="393.5" stroke="#2b2b2b" stroke-width="0.8"/>
<line x1="676.5" y1="393.5" x2="674.5" y2="393.5" stroke="#2b2b2b" stroke-width="0.8"/>
<text x="502.7" y="396.1" font-size="9.3" text-anchor="end" fill="#222" stroke="#222" stroke-width="0.18">0</text>
<line x1="504.5" y1="373.07" x2="506.5" y2="373.07" stroke="#2b2b2b" stroke-width="0.8"/>
<line x1="676.5" y1="373.07" x2="674.5" y2="373.07" stroke="#2b2b2b" stroke-width="0.8"/>
<text x="502.7" y="375.67" font-size="9.3" text-anchor="end" fill="#222" stroke="#222" stroke-width="0.18">10</text>
<line x1="504.5" y1="352.64" x2="506.5" y2="352.64" stroke="#2b2b2b" stroke-width="0.8"/>
<line x1="676.5" y1="352.64" x2="674.5" y2="352.64" stroke="#2b2b2b" stroke-width="0.8"/>
<text x="502.7" y="355.24" font-size="9.3" text-anchor="end" fill="#222" stroke="#222" stroke-width="0.18">20</text>
<line x1="504.5" y1="332.21" x2="506.5" y2="332.21" stroke="#2b2b2b" stroke-width="0.8"/>
<line x1="676.5" y1="332.21" x2="674.5" y2="332.21" stroke="#2b2b2b" stroke-width="0.8"/>
<text x="502.7" y="334.81" font-size="9.3" text-anchor="end" fill="#222" stroke="#222" stroke-width="0.18">30</text>
<line x1="504.5" y1="311.79" x2="506.5" y2="311.79" stroke="#2b2b2b" stroke-width="0.8"/>
<line x1="676.5" y1="311.79" x2="674.5" y2="311.79" stroke="#2b2b2b" stroke-width="0.8"/>
<text x="502.7" y="314.39" font-size="9.3" text-anchor="end" fill="#222" stroke="#222" stroke-width="0.18">40</text>
<line x1="504.5" y1="291.36" x2="506.5" y2="291.36" stroke="#2b2b2b" stroke-width="0.8"/>
<line x1="676.5" y1="291.36" x2="674.5" y2="291.36" stroke="#2b2b2b" stroke-width="0.8"/>
<text x="502.7" y="293.96" font-size="9.3" text-anchor="end" fill="#222" stroke="#222" stroke-width="0.18">50</text>
<line x1="504.5" y1="270.93" x2="506.5" y2="270.93" stroke="#2b2b2b" stroke-width="0.8"/>
<line x1="676.5" y1="270.93" x2="674.5" y2="270.93" stroke="#2b2b2b" stroke-width="0.8"/>
<text x="502.7" y="273.53" font-size="9.3" text-anchor="end" fill="#222" stroke="#222" stroke-width="0.18">60</text>
<line x1="504.5" y1="250.5" x2="506.5" y2="250.5" stroke="#2b2b2b" stroke-width="0.8"/>
<line x1="676.5" y1="250.5" x2="674.5" y2="250.5" stroke="#2b2b2b" stroke-width="0.8"/>
<text x="502.7" y="253.1" font-size="9.3" text-anchor="end" fill="#222" stroke="#222" stroke-width="0.18">70</text>
<text x="530.3" y="234.7" font-size="10.1" text-anchor="middle" fill="#a9d5a0" font-weight="bold" stroke="#a9d5a0" stroke-width="0.18">Transport</text>
<text x="530.3" y="246.8" font-size="10.1" text-anchor="middle" fill="#a9d5a0" font-weight="bold" stroke="#a9d5a0" stroke-width="0.18">Engaged</text>
<text x="633.4" y="247" font-size="10.1" text-anchor="middle" fill="#f283bb" font-weight="bold" stroke="#f283bb" stroke-width="0.18">Pause</text>
<text x="619" y="344.9" font-size="10.3" text-anchor="middle" fill="#1fa6ea" font-weight="bold" stroke="#1fa6ea" stroke-width="0.18">Average velocity</text>
<text x="590.5" y="424.8" font-size="10.3" text-anchor="middle" fill="#222" stroke="#222" stroke-width="0.18">Elapsed time (minutes)</text>
<text x="482" y="321.7" font-size="10.3" text-anchor="middle" fill="#222" transform="rotate(-90 482 321.7)" stroke="#222" stroke-width="0.18">Travel distance to MTOC (µm)</text>
<text x="1" y="441.5" font-size="18.2" text-anchor="start" fill="#000" font-weight="bold" stroke="#000" stroke-width="0.18">F</text>
<line x1="55.82" y1="544.12" x2="55.82" y2="577.9" stroke="#f9b066" stroke-width="1"/>
<line x1="54.52" y1="544.12" x2="57.12" y2="544.12" stroke="#f9b066" stroke-width="1"/>
<line x1="54.52" y1="577.9" x2="57.12" y2="577.9" stroke="#f9b066" stroke-width="1"/>
<line x1="53.22" y1="561.32" x2="58.42" y2="561.32" stroke="#f9b066" stroke-width="1"/>
<line x1="70.17" y1="554.36" x2="70.17" y2="566.64" stroke="#f9b066" stroke-width="1"/>
<line x1="68.87" y1="554.36" x2="71.47" y2="554.36" stroke="#f9b066" stroke-width="1"/>
<line x1="68.87" y1="566.64" x2="71.47" y2="566.64" stroke="#f9b066" stroke-width="1"/>
<line x1="67.57" y1="560.7" x2="72.77" y2="560.7" stroke="#f9b066" stroke-width="1"/>
<line x1="85.66" y1="564.59" x2="85.66" y2="568.69" stroke="#f9b066" stroke-width="1"/>
<line x1="84.36" y1="564.59" x2="86.96" y2="564.59" stroke="#f9b066" stroke-width="1"/>
<line x1="84.36" y1="568.69" x2="86.96" y2="568.69" stroke="#f9b066" stroke-width="1"/>
<line x1="83.06" y1="566.84" x2="88.26" y2="566.84" stroke="#f9b066" stroke-width="1"/>
<line x1="101.74" y1="566.64" x2="101.74" y2="570.73" stroke="#f9b066" stroke-width="1"/>
<line x1="100.44" y1="566.64" x2="103.04" y2="566.64" stroke="#f9b066" stroke-width="1"/>
<line x1="100.44" y1="570.73" x2="103.04" y2="570.73" stroke="#f9b066" stroke-width="1"/>
<line x1="99.14" y1="568.69" x2="104.34" y2="568.69" stroke="#f9b066" stroke-width="1"/>
<line x1="116.66" y1="565.62" x2="116.66" y2="571.76" stroke="#f9b066" stroke-width="1"/>
<line x1="115.36" y1="565.62" x2="117.96" y2="565.62" stroke="#f9b066" stroke-width="1"/>
<line x1="115.36" y1="571.76" x2="117.96" y2="571.76" stroke="#f9b066" stroke-width="1"/>
<line x1="114.06" y1="568.69" x2="119.26" y2="568.69" stroke="#f9b066" stroke-width="1"/>
<line x1="133.31" y1="561.52" x2="133.31" y2="574.83" stroke="#f9b066" stroke-width="1"/>
<line x1="132.01" y1="561.52" x2="134.61" y2="561.52" stroke="#f9b066" stroke-width="1"/>
<line x1="132.01" y1="574.83" x2="134.61" y2="574.83" stroke="#f9b066" stroke-width="1"/>
<line x1="130.71" y1="568.07" x2="135.91" y2="568.07" stroke="#f9b066" stroke-width="1"/>
<line x1="177.5" y1="565.62" x2="177.5" y2="575.85" stroke="#f9b066" stroke-width="1"/>
<line x1="176.2" y1="565.62" x2="178.8" y2="565.62" stroke="#f9b066" stroke-width="1"/>
<line x1="176.2" y1="575.85" x2="178.8" y2="575.85" stroke="#f9b066" stroke-width="1"/>
<line x1="174.9" y1="570.53" x2="180.1" y2="570.53" stroke="#f9b066" stroke-width="1"/>
<path d="M55.82 561.32 L70.17 560.7 L85.66 566.84 L101.74 568.69 L116.66 568.69 L133.31 568.07 L177.5 570.53" fill="none" stroke="#f9b066" stroke-width="2" fill="none" stroke-linejoin="round"/>
<path d="M53.62 559.12 l4.4 4.4 M58.02 559.12 l-4.4 4.4" stroke="#f9b066" stroke-width="1.4"/>
<circle cx="55.82" cy="561.32" r="1.6" fill="#f9b066"/>
<path d="M67.97 558.5 l4.4 4.4 M72.37 558.5 l-4.4 4.4" stroke="#f9b066" stroke-width="1.4"/>
<circle cx="70.17" cy="560.7" r="1.6" fill="#f9b066"/>
<path d="M83.46 564.64 l4.4 4.4 M87.86 564.64 l-4.4 4.4" stroke="#f9b066" stroke-width="1.4"/>
<circle cx="85.66" cy="566.84" r="1.6" fill="#f9b066"/>
<path d="M99.54 566.49 l4.4 4.4 M103.94 566.49 l-4.4 4.4" stroke="#f9b066" stroke-width="1.4"/>
<circle cx="101.74" cy="568.69" r="1.6" fill="#f9b066"/>
<path d="M114.46 566.49 l4.4 4.4 M118.86 566.49 l-4.4 4.4" stroke="#f9b066" stroke-width="1.4"/>
<circle cx="116.66" cy="568.69" r="1.6" fill="#f9b066"/>
<path d="M131.11 565.87 l4.4 4.4 M135.51 565.87 l-4.4 4.4" stroke="#f9b066" stroke-width="1.4"/>
<circle cx="133.31" cy="568.07" r="1.6" fill="#f9b066"/>
<path d="M175.3 568.33 l4.4 4.4 M179.7 568.33 l-4.4 4.4" stroke="#f9b066" stroke-width="1.4"/>
<circle cx="177.5" cy="570.53" r="1.6" fill="#f9b066"/>
<line x1="177.5" y1="570.53" x2="183" y2="570.53" stroke="#f9b066" stroke-width="1.2"/>
<line x1="183" y1="569.33" x2="183" y2="571.73" stroke="#f9b066" stroke-width="1"/>
<line x1="55.82" y1="513.41" x2="55.82" y2="554.36" stroke="#bcdfa2" stroke-width="1"/>
<line x1="54.52" y1="513.41" x2="57.12" y2="513.41" stroke="#bcdfa2" stroke-width="1"/>
<line x1="54.52" y1="554.36" x2="57.12" y2="554.36" stroke="#bcdfa2" stroke-width="1"/>
<line x1="53.22" y1="534.5" x2="58.42" y2="534.5" stroke="#bcdfa2" stroke-width="1"/>
<line x1="70.17" y1="532.86" x2="70.17" y2="548.22" stroke="#bcdfa2" stroke-width="1"/>
<line x1="68.87" y1="532.86" x2="71.47" y2="532.86" stroke="#bcdfa2" stroke-width="1"/>
<line x1="68.87" y1="548.22" x2="71.47" y2="548.22" stroke="#bcdfa2" stroke-width="1"/>
<line x1="67.57" y1="540.64" x2="72.77" y2="540.64" stroke="#bcdfa2" stroke-width="1"/>
<line x1="85.66" y1="540.03" x2="85.66" y2="544.12" stroke="#bcdfa2" stroke-width="1"/>
<line x1="84.36" y1="540.03" x2="86.96" y2="540.03" stroke="#bcdfa2" stroke-width="1"/>
<line x1="84.36" y1="544.12" x2="86.96" y2="544.12" stroke="#bcdfa2" stroke-width="1"/>
<line x1="83.06" y1="542.07" x2="88.26" y2="542.07" stroke="#bcdfa2" stroke-width="1"/>
<line x1="101.74" y1="523.65" x2="101.74" y2="529.79" stroke="#bcdfa2" stroke-width="1"/>
<line x1="100.44" y1="523.65" x2="103.04" y2="523.65" stroke="#bcdfa2" stroke-width="1"/>
<line x1="100.44" y1="529.79" x2="103.04" y2="529.79" stroke="#bcdfa2" stroke-width="1"/>
<line x1="99.14" y1="526.31" x2="104.34" y2="526.31" stroke="#bcdfa2" stroke-width="1"/>
<line x1="116.66" y1="504.2" x2="116.66" y2="516.49" stroke="#bcdfa2" stroke-width="1"/>
<line x1="115.36" y1="504.2" x2="117.96" y2="504.2" stroke="#bcdfa2" stroke-width="1"/>
<line x1="115.36" y1="516.49" x2="117.96" y2="516.49" stroke="#bcdfa2" stroke-width="1"/>
<line x1="114.06" y1="510.55" x2="119.26" y2="510.55" stroke="#bcdfa2" stroke-width="1"/>
<line x1="133.31" y1="497.04" x2="133.31" y2="515.46" stroke="#bcdfa2" stroke-width="1"/>
<line x1="132.01" y1="497.04" x2="134.61" y2="497.04" stroke="#bcdfa2" stroke-width="1"/>
<line x1="132.01" y1="515.46" x2="134.61" y2="515.46" stroke="#bcdfa2" stroke-width="1"/>
<line x1="130.71" y1="506.25" x2="135.91" y2="506.25" stroke="#bcdfa2" stroke-width="1"/>
<line x1="177.5" y1="489.87" x2="177.5" y2="517.51" stroke="#bcdfa2" stroke-width="1"/>
<line x1="176.2" y1="489.87" x2="178.8" y2="489.87" stroke="#bcdfa2" stroke-width="1"/>
<line x1="176.2" y1="517.51" x2="178.8" y2="517.51" stroke="#bcdfa2" stroke-width="1"/>
<line x1="174.9" y1="504" x2="180.1" y2="504" stroke="#bcdfa2" stroke-width="1"/>
<path d="M55.82 534.5 L70.17 540.64 L85.66 542.07 L101.74 526.31 L116.66 510.55 L133.31 506.25 L177.5 504" fill="none" stroke="#bcdfa2" stroke-width="2" fill="none" stroke-linejoin="round"/>
<path d="M53.62 532.3 l4.4 4.4 M58.02 532.3 l-4.4 4.4" stroke="#bcdfa2" stroke-width="1.4"/>
<circle cx="55.82" cy="534.5" r="1.6" fill="#bcdfa2"/>
<path d="M67.97 538.44 l4.4 4.4 M72.37 538.44 l-4.4 4.4" stroke="#bcdfa2" stroke-width="1.4"/>
<circle cx="70.17" cy="540.64" r="1.6" fill="#bcdfa2"/>
<path d="M83.46 539.87 l4.4 4.4 M87.86 539.87 l-4.4 4.4" stroke="#bcdfa2" stroke-width="1.4"/>
<circle cx="85.66" cy="542.07" r="1.6" fill="#bcdfa2"/>
<path d="M99.54 524.11 l4.4 4.4 M103.94 524.11 l-4.4 4.4" stroke="#bcdfa2" stroke-width="1.4"/>
<circle cx="101.74" cy="526.31" r="1.6" fill="#bcdfa2"/>
<path d="M114.46 508.35 l4.4 4.4 M118.86 508.35 l-4.4 4.4" stroke="#bcdfa2" stroke-width="1.4"/>
<circle cx="116.66" cy="510.55" r="1.6" fill="#bcdfa2"/>
<path d="M131.11 504.05 l4.4 4.4 M135.51 504.05 l-4.4 4.4" stroke="#bcdfa2" stroke-width="1.4"/>
<circle cx="133.31" cy="506.25" r="1.6" fill="#bcdfa2"/>
<path d="M175.3 501.8 l4.4 4.4 M179.7 501.8 l-4.4 4.4" stroke="#bcdfa2" stroke-width="1.4"/>
<circle cx="177.5" cy="504" r="1.6" fill="#bcdfa2"/>
<line x1="177.5" y1="504" x2="183" y2="504" stroke="#bcdfa2" stroke-width="1.2"/>
<line x1="183" y1="502.8" x2="183" y2="505.2" stroke="#bcdfa2" stroke-width="1"/>
<line x1="55.82" y1="482.71" x2="55.82" y2="511.37" stroke="#e98fc9" stroke-width="1"/>
<line x1="54.52" y1="482.71" x2="57.12" y2="482.71" stroke="#e98fc9" stroke-width="1"/>
<line x1="54.52" y1="511.37" x2="57.12" y2="511.37" stroke="#e98fc9" stroke-width="1"/>
<line x1="53.22" y1="496.83" x2="58.42" y2="496.83" stroke="#e98fc9" stroke-width="1"/>
<line x1="70.17" y1="465.31" x2="70.17" y2="483.73" stroke="#e98fc9" stroke-width="1"/>
<line x1="68.87" y1="465.31" x2="71.47" y2="465.31" stroke="#e98fc9" stroke-width="1"/>
<line x1="68.87" y1="483.73" x2="71.47" y2="483.73" stroke="#e98fc9" stroke-width="1"/>
<line x1="67.57" y1="474.31" x2="72.77" y2="474.31" stroke="#e98fc9" stroke-width="1"/>
<line x1="85.66" y1="483.73" x2="85.66" y2="489.87" stroke="#e98fc9" stroke-width="1"/>
<line x1="84.36" y1="483.73" x2="86.96" y2="483.73" stroke="#e98fc9" stroke-width="1"/>
<line x1="84.36" y1="489.87" x2="86.96" y2="489.87" stroke="#e98fc9" stroke-width="1"/>
<line x1="83.06" y1="486.8" x2="88.26" y2="486.8" stroke="#e98fc9" stroke-width="1"/>
<line x1="101.74" y1="488.85" x2="101.74" y2="496.01" stroke="#e98fc9" stroke-width="1"/>
<line x1="100.44" y1="488.85" x2="103.04" y2="488.85" stroke="#e98fc9" stroke-width="1"/>
<line x1="100.44" y1="496.01" x2="103.04" y2="496.01" stroke="#e98fc9" stroke-width="1"/>
<line x1="99.14" y1="492.53" x2="104.34" y2="492.53" stroke="#e98fc9" stroke-width="1"/>
<line x1="116.66" y1="484.75" x2="116.66" y2="493.97" stroke="#e98fc9" stroke-width="1"/>
<line x1="115.36" y1="484.75" x2="117.96" y2="484.75" stroke="#e98fc9" stroke-width="1"/>
<line x1="115.36" y1="493.97" x2="117.96" y2="493.97" stroke="#e98fc9" stroke-width="1"/>
<line x1="114.06" y1="489.67" x2="119.26" y2="489.67" stroke="#e98fc9" stroke-width="1"/>
<line x1="133.31" y1="504.2" x2="133.31" y2="513.41" stroke="#e98fc9" stroke-width="1"/>
<line x1="132.01" y1="504.2" x2="134.61" y2="504.2" stroke="#e98fc9" stroke-width="1"/>
<line x1="132.01" y1="513.41" x2="134.61" y2="513.41" stroke="#e98fc9" stroke-width="1"/>
<line x1="130.71" y1="509.32" x2="135.91" y2="509.32" stroke="#e98fc9" stroke-width="1"/>
<line x1="177.5" y1="481.68" x2="177.5" y2="506.25" stroke="#e98fc9" stroke-width="1"/>
<line x1="176.2" y1="481.68" x2="178.8" y2="481.68" stroke="#e98fc9" stroke-width="1"/>
<line x1="176.2" y1="506.25" x2="178.8" y2="506.25" stroke="#e98fc9" stroke-width="1"/>
<line x1="174.9" y1="493.97" x2="180.1" y2="493.97" stroke="#e98fc9" stroke-width="1"/>
<path d="M55.82 496.83 L70.17 474.31 L85.66 486.8 L101.74 492.53 L116.66 489.67 L133.31 509.32 L177.5 493.97" fill="none" stroke="#e98fc9" stroke-width="2" fill="none" stroke-linejoin="round"/>
<path d="M53.62 494.63 l4.4 4.4 M58.02 494.63 l-4.4 4.4" stroke="#e98fc9" stroke-width="1.4"/>
<circle cx="55.82" cy="496.83" r="1.6" fill="#e98fc9"/>
<path d="M67.97 472.11 l4.4 4.4 M72.37 472.11 l-4.4 4.4" stroke="#e98fc9" stroke-width="1.4"/>
<circle cx="70.17" cy="474.31" r="1.6" fill="#e98fc9"/>
<path d="M83.46 484.6 l4.4 4.4 M87.86 484.6 l-4.4 4.4" stroke="#e98fc9" stroke-width="1.4"/>
<circle cx="85.66" cy="486.8" r="1.6" fill="#e98fc9"/>
<path d="M99.54 490.33 l4.4 4.4 M103.94 490.33 l-4.4 4.4" stroke="#e98fc9" stroke-width="1.4"/>
<circle cx="101.74" cy="492.53" r="1.6" fill="#e98fc9"/>
<path d="M114.46 487.47 l4.4 4.4 M118.86 487.47 l-4.4 4.4" stroke="#e98fc9" stroke-width="1.4"/>
<circle cx="116.66" cy="489.67" r="1.6" fill="#e98fc9"/>
<path d="M131.11 507.12 l4.4 4.4 M135.51 507.12 l-4.4 4.4" stroke="#e98fc9" stroke-width="1.4"/>
<circle cx="133.31" cy="509.32" r="1.6" fill="#e98fc9"/>
<path d="M175.3 491.77 l4.4 4.4 M179.7 491.77 l-4.4 4.4" stroke="#e98fc9" stroke-width="1.4"/>
<circle cx="177.5" cy="493.97" r="1.6" fill="#e98fc9"/>
<line x1="177.5" y1="493.97" x2="183" y2="493.97" stroke="#e98fc9" stroke-width="1.2"/>
<line x1="183" y1="492.77" x2="183" y2="495.17" stroke="#e98fc9" stroke-width="1"/>
<rect x="36.3" y="452" width="172.2" height="143.3" fill="none" stroke="#2b2b2b" stroke-width="1"/>
<line x1="36.3" y1="595.3" x2="36.3" y2="593.3" stroke="#2b2b2b" stroke-width="0.8"/>
<line x1="36.3" y1="452" x2="36.3" y2="454" stroke="#2b2b2b" stroke-width="0.8"/>
<text x="36.3" y="605.5" font-size="9.3" text-anchor="middle" fill="#222" stroke="#222" stroke-width="0.18">0.5</text>
<line x1="65" y1="595.3" x2="65" y2="593.3" stroke="#2b2b2b" stroke-width="0.8"/>
<line x1="65" y1="452" x2="65" y2="454" stroke="#2b2b2b" stroke-width="0.8"/>
<text x="65" y="605.5" font-size="9.3" text-anchor="middle" fill="#222" stroke="#222" stroke-width="0.18">1.0</text>
<line x1="93.7" y1="595.3" x2="93.7" y2="593.3" stroke="#2b2b2b" stroke-width="0.8"/>
<line x1="93.7" y1="452" x2="93.7" y2="454" stroke="#2b2b2b" stroke-width="0.8"/>
<text x="93.7" y="605.5" font-size="9.3" text-anchor="middle" fill="#222" stroke="#222" stroke-width="0.18">1.5</text>
<line x1="122.4" y1="595.3" x2="122.4" y2="593.3" stroke="#2b2b2b" stroke-width="0.8"/>
<line x1="122.4" y1="452" x2="122.4" y2="454" stroke="#2b2b2b" stroke-width="0.8"/>
<text x="122.4" y="605.5" font-size="9.3" text-anchor="middle" fill="#222" stroke="#222" stroke-width="0.18">2.0</text>
<line x1="151.1" y1="595.3" x2="151.1" y2="593.3" stroke="#2b2b2b" stroke-width="0.8"/>
<line x1="151.1" y1="452" x2="151.1" y2="454" stroke="#2b2b2b" stroke-width="0.8"/>
<text x="151.1" y="605.5" font-size="9.3" text-anchor="middle" fill="#222" stroke="#222" stroke-width="0.18">2.5</text>
<line x1="179.8" y1="595.3" x2="179.8" y2="593.3" stroke="#2b2b2b" stroke-width="0.8"/>
<line x1="179.8" y1="452" x2="179.8" y2="454" stroke="#2b2b2b" stroke-width="0.8"/>
<text x="179.8" y="605.5" font-size="9.3" text-anchor="middle" fill="#222" stroke="#222" stroke-width="0.18">3.0</text>
<line x1="208.5" y1="595.3" x2="208.5" y2="593.3" stroke="#2b2b2b" stroke-width="0.8"/>
<line x1="208.5" y1="452" x2="208.5" y2="454" stroke="#2b2b2b" stroke-width="0.8"/>
<text x="208.5" y="605.5" font-size="9.3" text-anchor="middle" fill="#222" stroke="#222" stroke-width="0.18">3.5</text>
<line x1="36.3" y1="595.3" x2="38.3" y2="595.3" stroke="#2b2b2b" stroke-width="0.8"/>
<line x1="208.5" y1="595.3" x2="206.5" y2="595.3" stroke="#2b2b2b" stroke-width="0.8"/>
<text x="34.5" y="597.9" font-size="9.3" text-anchor="end" fill="#222" stroke="#222" stroke-width="0.18">1</text>
<line x1="36.3" y1="574.83" x2="38.3" y2="574.83" stroke="#2b2b2b" stroke-width="0.8"/>
<line x1="208.5" y1="574.83" x2="206.5" y2="574.83" stroke="#2b2b2b" stroke-width="0.8"/>
<text x="34.5" y="577.43" font-size="9.3" text-anchor="end" fill="#222" stroke="#222" stroke-width="0.18">2</text>
<line x1="36.3" y1="554.36" x2="38.3" y2="554.36" stroke="#2b2b2b" stroke-width="0.8"/>
<line x1="208.5" y1="554.36" x2="206.5" y2="554.36" stroke="#2b2b2b" stroke-width="0.8"/>
<text x="34.5" y="556.96" font-size="9.3" text-anchor="end" fill="#222" stroke="#222" stroke-width="0.18">3</text>
<line x1="36.3" y1="533.89" x2="38.3" y2="533.89" stroke="#2b2b2b" stroke-width="0.8"/>
<line x1="208.5" y1="533.89" x2="206.5" y2="533.89" stroke="#2b2b2b" stroke-width="0.8"/>
<text x="34.5" y="536.49" font-size="9.3" text-anchor="end" fill="#222" stroke="#222" stroke-width="0.18">4</text>
<line x1="36.3" y1="513.41" x2="38.3" y2="513.41" stroke="#2b2b2b" stroke-width="0.8"/>
<line x1="208.5" y1="513.41" x2="206.5" y2="513.41" stroke="#2b2b2b" stroke-width="0.8"/>
<text x="34.5" y="516.01" font-size="9.3" text-anchor="end" fill="#222" stroke="#222" stroke-width="0.18">5</text>
<line x1="36.3" y1="492.94" x2="38.3" y2="492.94" stroke="#2b2b2b" stroke-width="0.8"/>
<line x1="208.5" y1="492.94" x2="206.5" y2="492.94" stroke="#2b2b2b" stroke-width="0.8"/>
<text x="34.5" y="495.54" font-size="9.3" text-anchor="end" fill="#222" stroke="#222" stroke-width="0.18">6</text>
<line x1="36.3" y1="472.47" x2="38.3" y2="472.47" stroke="#2b2b2b" stroke-width="0.8"/>
<line x1="208.5" y1="472.47" x2="206.5" y2="472.47" stroke="#2b2b2b" stroke-width="0.8"/>
<text x="34.5" y="475.07" font-size="9.3" text-anchor="end" fill="#222" stroke="#222" stroke-width="0.18">7</text>
<line x1="36.3" y1="452" x2="38.3" y2="452" stroke="#2b2b2b" stroke-width="0.8"/>
<line x1="208.5" y1="452" x2="206.5" y2="452" stroke="#2b2b2b" stroke-width="0.8"/>
<text x="34.5" y="454.6" font-size="9.3" text-anchor="end" fill="#222" stroke="#222" stroke-width="0.18">8</text>
<rect x="148.4" y="524.4" width="51" height="30.9" fill="#fff" stroke="#444" stroke-width="0.9"/>
<path d="M153 533.1 L160.5 531.3 M160.5 530.9 L167.6 529.1" stroke="#e98fc9" stroke-width="1.6"/>
<path d="M157.6 528.3 l5.2 4 M162.8 528.3 l-5.2 4 M160.2 527.1 l0 6.4" stroke="#e98fc9" stroke-width="1.2"/>
<text x="174.7" y="532.6" font-size="7" text-anchor="start" fill="#222" stroke="#222" stroke-width="0.18">Pause</text>
<path d="M153 542.3 L160.5 540.5 M160.5 540.1 L167.6 538.3" stroke="#bcdfa2" stroke-width="1.6"/>
<path d="M157.6 537.5 l5.2 4 M162.8 537.5 l-5.2 4 M160.2 536.3 l0 6.4" stroke="#bcdfa2" stroke-width="1.2"/>
<text x="174.7" y="541.8" font-size="7" text-anchor="start" fill="#222" stroke="#222" stroke-width="0.18">TE (+)</text>
<path d="M153 551.3 L160.5 549.5 M160.5 549.1 L167.6 547.3" stroke="#f9b066" stroke-width="1.6"/>
<path d="M157.6 546.5 l5.2 4 M162.8 546.5 l-5.2 4 M160.2 545.3 l0 6.4" stroke="#f9b066" stroke-width="1.2"/>
<text x="174.7" y="550.8" font-size="7" text-anchor="start" fill="#222" stroke="#222" stroke-width="0.18">TE (–)</text>
<text x="202.8" y="589.5" font-size="8.9" text-anchor="end" fill="#222" stroke="#222" stroke-width="0.18">n = 851</text>
<text x="122.5" y="621.5" font-size="10.3" text-anchor="middle" fill="#222" stroke="#222" stroke-width="0.18">Diameter (µm)</text>
<text x="13.4" y="524.2" font-size="10.4" text-anchor="middle" fill="#222" transform="rotate(-90 13.4 524.2)" stroke="#222" stroke-width="0.18">Mean segment length (min)</text>
<text x="236" y="443.2" font-size="18.2" text-anchor="start" fill="#000" font-weight="bold" stroke="#000" stroke-width="0.18">G</text>
<line x1="290.47" y1="456.35" x2="290.47" y2="492.89" stroke="#1a72c0" stroke-width="1"/>
<line x1="289.17" y1="456.35" x2="291.77" y2="456.35" stroke="#1a72c0" stroke-width="1"/>
<line x1="289.17" y1="492.89" x2="291.77" y2="492.89" stroke="#1a72c0" stroke-width="1"/>
<line x1="287.87" y1="474.62" x2="293.07" y2="474.62" stroke="#1a72c0" stroke-width="1"/>
<line x1="310.64" y1="476.94" x2="310.64" y2="482.32" stroke="#1a72c0" stroke-width="1"/>
<line x1="309.34" y1="476.94" x2="311.94" y2="476.94" stroke="#1a72c0" stroke-width="1"/>
<line x1="309.34" y1="482.32" x2="311.94" y2="482.32" stroke="#1a72c0" stroke-width="1"/>
<line x1="308.04" y1="479.63" x2="313.24" y2="479.63" stroke="#1a72c0" stroke-width="1"/>
<line x1="323.32" y1="484.47" x2="323.32" y2="489.12" stroke="#1a72c0" stroke-width="1"/>
<line x1="322.02" y1="484.47" x2="324.62" y2="484.47" stroke="#1a72c0" stroke-width="1"/>
<line x1="322.02" y1="489.12" x2="324.62" y2="489.12" stroke="#1a72c0" stroke-width="1"/>
<line x1="320.72" y1="486.8" x2="325.92" y2="486.8" stroke="#1a72c0" stroke-width="1"/>
<line x1="333.12" y1="490.56" x2="333.12" y2="495.93" stroke="#1a72c0" stroke-width="1"/>
<line x1="331.81" y1="490.56" x2="334.42" y2="490.56" stroke="#1a72c0" stroke-width="1"/>
<line x1="331.81" y1="495.93" x2="334.42" y2="495.93" stroke="#1a72c0" stroke-width="1"/>
<line x1="330.51" y1="493.24" x2="335.72" y2="493.24" stroke="#1a72c0" stroke-width="1"/>
<line x1="344.07" y1="494.14" x2="344.07" y2="499.51" stroke="#1a72c0" stroke-width="1"/>
<line x1="342.77" y1="494.14" x2="345.37" y2="494.14" stroke="#1a72c0" stroke-width="1"/>
<line x1="342.77" y1="499.51" x2="345.37" y2="499.51" stroke="#1a72c0" stroke-width="1"/>
<line x1="341.47" y1="496.83" x2="346.67" y2="496.83" stroke="#1a72c0" stroke-width="1"/>
<line x1="355.02" y1="498.44" x2="355.02" y2="508.11" stroke="#1a72c0" stroke-width="1"/>
<line x1="353.72" y1="498.44" x2="356.32" y2="498.44" stroke="#1a72c0" stroke-width="1"/>
<line x1="353.72" y1="508.11" x2="356.32" y2="508.11" stroke="#1a72c0" stroke-width="1"/>
<line x1="352.42" y1="503.28" x2="357.62" y2="503.28" stroke="#1a72c0" stroke-width="1"/>
<line x1="366.54" y1="503.1" x2="366.54" y2="512.05" stroke="#1a72c0" stroke-width="1"/>
<line x1="365.24" y1="503.1" x2="367.84" y2="503.1" stroke="#1a72c0" stroke-width="1"/>
<line x1="365.24" y1="512.05" x2="367.84" y2="512.05" stroke="#1a72c0" stroke-width="1"/>
<line x1="363.94" y1="507.57" x2="369.14" y2="507.57" stroke="#1a72c0" stroke-width="1"/>
<line x1="413.23" y1="511.34" x2="413.23" y2="523.16" stroke="#1a72c0" stroke-width="1"/>
<line x1="411.93" y1="511.34" x2="414.53" y2="511.34" stroke="#1a72c0" stroke-width="1"/>
<line x1="411.93" y1="523.16" x2="414.53" y2="523.16" stroke="#1a72c0" stroke-width="1"/>
<line x1="410.63" y1="517.25" x2="415.83" y2="517.25" stroke="#1a72c0" stroke-width="1"/>
<path d="M290.47 474.62 L310.64 479.63 L323.32 486.8 L333.12 493.24 L344.07 496.83 L355.02 503.28 L366.54 507.57 L413.23 517.25" fill="none" stroke="#1a72c0" stroke-width="2" fill="none" stroke-linejoin="round"/>
<path d="M288.27 472.42 l4.4 4.4 M292.67 472.42 l-4.4 4.4" stroke="#1a72c0" stroke-width="1.4"/>
<circle cx="290.47" cy="474.62" r="1.6" fill="#1a72c0"/>
<path d="M308.44 477.43 l4.4 4.4 M312.84 477.43 l-4.4 4.4" stroke="#1a72c0" stroke-width="1.4"/>
<circle cx="310.64" cy="479.63" r="1.6" fill="#1a72c0"/>
<path d="M321.12 484.6 l4.4 4.4 M325.52 484.6 l-4.4 4.4" stroke="#1a72c0" stroke-width="1.4"/>
<circle cx="323.32" cy="486.8" r="1.6" fill="#1a72c0"/>
<path d="M330.92 491.04 l4.4 4.4 M335.31 491.04 l-4.4 4.4" stroke="#1a72c0" stroke-width="1.4"/>
<circle cx="333.12" cy="493.24" r="1.6" fill="#1a72c0"/>
<path d="M341.87 494.63 l4.4 4.4 M346.27 494.63 l-4.4 4.4" stroke="#1a72c0" stroke-width="1.4"/>
<circle cx="344.07" cy="496.83" r="1.6" fill="#1a72c0"/>
<path d="M352.82 501.08 l4.4 4.4 M357.22 501.08 l-4.4 4.4" stroke="#1a72c0" stroke-width="1.4"/>
<circle cx="355.02" cy="503.28" r="1.6" fill="#1a72c0"/>
<path d="M364.34 505.37 l4.4 4.4 M368.74 505.37 l-4.4 4.4" stroke="#1a72c0" stroke-width="1.4"/>
<circle cx="366.54" cy="507.57" r="1.6" fill="#1a72c0"/>
<path d="M411.03 515.05 l4.4 4.4 M415.43 515.05 l-4.4 4.4" stroke="#1a72c0" stroke-width="1.4"/>
<circle cx="413.23" cy="517.25" r="1.6" fill="#1a72c0"/>
<line x1="413.23" y1="517.25" x2="420.73" y2="517.25" stroke="#1a72c0" stroke-width="1.2"/>
<line x1="420.73" y1="516.05" x2="420.73" y2="518.45" stroke="#1a72c0" stroke-width="1"/>
<rect x="272.6" y="453.3" width="172.9" height="143.3" fill="none" stroke="#2b2b2b" stroke-width="1"/>
<line x1="272.6" y1="596.6" x2="272.6" y2="594.6" stroke="#2b2b2b" stroke-width="0.8"/>
<line x1="272.6" y1="453.3" x2="272.6" y2="455.3" stroke="#2b2b2b" stroke-width="0.8"/>
<text x="272.6" y="607.1" font-size="9.3" text-anchor="middle" fill="#222" stroke="#222" stroke-width="0.18">0.5</text>
<line x1="301.42" y1="596.6" x2="301.42" y2="594.6" stroke="#2b2b2b" stroke-width="0.8"/>
<line x1="301.42" y1="453.3" x2="301.42" y2="455.3" stroke="#2b2b2b" stroke-width="0.8"/>
<text x="301.42" y="607.1" font-size="9.3" text-anchor="middle" fill="#222" stroke="#222" stroke-width="0.18">1.0</text>
<line x1="330.23" y1="596.6" x2="330.23" y2="594.6" stroke="#2b2b2b" stroke-width="0.8"/>
<line x1="330.23" y1="453.3" x2="330.23" y2="455.3" stroke="#2b2b2b" stroke-width="0.8"/>
<text x="330.23" y="607.1" font-size="9.3" text-anchor="middle" fill="#222" stroke="#222" stroke-width="0.18">1.5</text>
<line x1="359.05" y1="596.6" x2="359.05" y2="594.6" stroke="#2b2b2b" stroke-width="0.8"/>
<line x1="359.05" y1="453.3" x2="359.05" y2="455.3" stroke="#2b2b2b" stroke-width="0.8"/>
<text x="359.05" y="607.1" font-size="9.3" text-anchor="middle" fill="#222" stroke="#222" stroke-width="0.18">2.0</text>
<line x1="387.87" y1="596.6" x2="387.87" y2="594.6" stroke="#2b2b2b" stroke-width="0.8"/>
<line x1="387.87" y1="453.3" x2="387.87" y2="455.3" stroke="#2b2b2b" stroke-width="0.8"/>
<text x="387.87" y="607.1" font-size="9.3" text-anchor="middle" fill="#222" stroke="#222" stroke-width="0.18">2.5</text>
<line x1="416.68" y1="596.6" x2="416.68" y2="594.6" stroke="#2b2b2b" stroke-width="0.8"/>
<line x1="416.68" y1="453.3" x2="416.68" y2="455.3" stroke="#2b2b2b" stroke-width="0.8"/>
<text x="416.68" y="607.1" font-size="9.3" text-anchor="middle" fill="#222" stroke="#222" stroke-width="0.18">3.0</text>
<line x1="445.5" y1="596.6" x2="445.5" y2="594.6" stroke="#2b2b2b" stroke-width="0.8"/>
<line x1="445.5" y1="453.3" x2="445.5" y2="455.3" stroke="#2b2b2b" stroke-width="0.8"/>
<text x="445.5" y="607.1" font-size="9.3" text-anchor="middle" fill="#222" stroke="#222" stroke-width="0.18">3.5</text>
<line x1="272.6" y1="596.6" x2="274.6" y2="596.6" stroke="#2b2b2b" stroke-width="0.8"/>
<line x1="445.5" y1="596.6" x2="443.5" y2="596.6" stroke="#2b2b2b" stroke-width="0.8"/>
<text x="270.8" y="599.2" font-size="9.3" text-anchor="end" fill="#222" stroke="#222" stroke-width="0.18">0</text>
<line x1="272.6" y1="560.77" x2="274.6" y2="560.77" stroke="#2b2b2b" stroke-width="0.8"/>
<line x1="445.5" y1="560.77" x2="443.5" y2="560.77" stroke="#2b2b2b" stroke-width="0.8"/>
<text x="270.8" y="563.38" font-size="9.3" text-anchor="end" fill="#222" stroke="#222" stroke-width="0.18">0.2</text>
<line x1="272.6" y1="524.95" x2="274.6" y2="524.95" stroke="#2b2b2b" stroke-width="0.8"/>
<line x1="445.5" y1="524.95" x2="443.5" y2="524.95" stroke="#2b2b2b" stroke-width="0.8"/>
<text x="270.8" y="527.55" font-size="9.3" text-anchor="end" fill="#222" stroke="#222" stroke-width="0.18">0.4</text>
<line x1="272.6" y1="489.12" x2="274.6" y2="489.12" stroke="#2b2b2b" stroke-width="0.8"/>
<line x1="445.5" y1="489.12" x2="443.5" y2="489.12" stroke="#2b2b2b" stroke-width="0.8"/>
<text x="270.8" y="491.73" font-size="9.3" text-anchor="end" fill="#222" stroke="#222" stroke-width="0.18">0.6</text>
<line x1="272.6" y1="453.3" x2="274.6" y2="453.3" stroke="#2b2b2b" stroke-width="0.8"/>
<line x1="445.5" y1="453.3" x2="443.5" y2="453.3" stroke="#2b2b2b" stroke-width="0.8"/>
<text x="270.8" y="455.9" font-size="9.3" text-anchor="end" fill="#222" stroke="#222" stroke-width="0.18">0.8</text>
<text x="440.3" y="592.2" font-size="8.9" text-anchor="end" fill="#222" stroke="#222" stroke-width="0.18">n = 851</text>
<text x="359" y="621.5" font-size="10.3" text-anchor="middle" fill="#222" stroke="#222" stroke-width="0.18">Diameter (µm)</text>
<text x="239.3" y="527" font-size="9.9" text-anchor="middle" fill="#222" transform="rotate(-90 239.3 527)" stroke="#222" stroke-width="0.18">Mean proportion of</text>
<text x="251.9" y="527" font-size="9.9" text-anchor="middle" fill="#222" transform="rotate(-90 251.9 527)" stroke="#222" stroke-width="0.18">pause segment</text>
<text x="465" y="443.2" font-size="18.2" text-anchor="start" fill="#000" font-weight="bold" stroke="#000" stroke-width="0.18">H</text>
<clipPath id="clipH"><rect x="507.9" y="453.4" width="168.7" height="143.3"/></clipPath>
<g clip-path="url(#clipH)">
<line x1="511.27" y1="594.01" x2="676.6" y2="463.61" stroke="#1a78c8" stroke-width="2" stroke-dasharray="4.2 3"/>
</g>
<line x1="543.09" y1="542.96" x2="543.09" y2="555.14" stroke="#8f8f8f" stroke-width="1.3"/>
<line x1="539.89" y1="549.41" x2="546.29" y2="549.41" stroke="#8f8f8f" stroke-width="1.3"/>
<line x1="550.32" y1="540.1" x2="550.32" y2="551.2" stroke="#8f8f8f" stroke-width="1.3"/>
<line x1="547.12" y1="545.83" x2="553.52" y2="545.83" stroke="#8f8f8f" stroke-width="1.3"/>
<line x1="557.45" y1="533.11" x2="557.45" y2="546.9" stroke="#8f8f8f" stroke-width="1.3"/>
<line x1="554.25" y1="540.45" x2="560.65" y2="540.45" stroke="#8f8f8f" stroke-width="1.3"/>
<line x1="565.26" y1="530.42" x2="565.26" y2="542.96" stroke="#8f8f8f" stroke-width="1.3"/>
<line x1="562.06" y1="536.87" x2="568.46" y2="536.87" stroke="#8f8f8f" stroke-width="1.3"/>
<line x1="579.72" y1="528.63" x2="579.72" y2="540.28" stroke="#8f8f8f" stroke-width="1.3"/>
<line x1="576.52" y1="535.08" x2="582.92" y2="535.08" stroke="#8f8f8f" stroke-width="1.3"/>
<line x1="662.62" y1="473.1" x2="662.62" y2="504.45" stroke="#8f8f8f" stroke-width="1.3"/>
<line x1="659.42" y1="489.23" x2="665.82" y2="489.23" stroke="#8f8f8f" stroke-width="1.3"/>
<path d="M543.09 549.41 L550.32 545.83 L557.45 540.45 L565.26 536.87 L579.72 535.08 L662.62 489.23" fill="none" stroke="#8f8f8f" stroke-width="1.8" fill="none" stroke-linejoin="round"/>
<circle cx="543.09" cy="549.41" r="2.1" fill="#8f8f8f"/>
<circle cx="550.32" cy="545.83" r="2.1" fill="#8f8f8f"/>
<circle cx="557.45" cy="540.45" r="2.1" fill="#8f8f8f"/>
<circle cx="565.26" cy="536.87" r="2.1" fill="#8f8f8f"/>
<circle cx="579.72" cy="535.08" r="2.1" fill="#8f8f8f"/>
<circle cx="662.62" cy="489.23" r="2.1" fill="#8f8f8f"/>
<line x1="535.18" y1="563.56" x2="535.18" y2="583.27" stroke="#f0a3d2" stroke-width="1.3"/>
<line x1="531.98" y1="574.67" x2="538.38" y2="574.67" stroke="#f0a3d2" stroke-width="1.3"/>
<line x1="543.76" y1="570.73" x2="543.76" y2="575.03" stroke="#f0a3d2" stroke-width="1.3"/>
<line x1="540.56" y1="572.88" x2="546.96" y2="572.88" stroke="#f0a3d2" stroke-width="1.3"/>
<line x1="552.05" y1="565.89" x2="552.05" y2="573.77" stroke="#f0a3d2" stroke-width="1.3"/>
<line x1="548.85" y1="569.83" x2="555.25" y2="569.83" stroke="#f0a3d2" stroke-width="1.3"/>
<line x1="560.34" y1="559.8" x2="560.34" y2="562.67" stroke="#f0a3d2" stroke-width="1.3"/>
<line x1="557.14" y1="561.23" x2="563.54" y2="561.23" stroke="#f0a3d2" stroke-width="1.3"/>
<line x1="573.64" y1="553.35" x2="573.64" y2="556.22" stroke="#f0a3d2" stroke-width="1.3"/>
<line x1="570.44" y1="554.78" x2="576.84" y2="554.78" stroke="#f0a3d2" stroke-width="1.3"/>
<line x1="590.42" y1="536.69" x2="590.42" y2="540.28" stroke="#f0a3d2" stroke-width="1.3"/>
<line x1="587.22" y1="538.48" x2="593.62" y2="538.48" stroke="#f0a3d2" stroke-width="1.3"/>
<line x1="623.77" y1="468.63" x2="623.77" y2="488.33" stroke="#f0a3d2" stroke-width="1.3"/>
<line x1="620.57" y1="478.3" x2="626.97" y2="478.3" stroke="#f0a3d2" stroke-width="1.3"/>
<path d="M535.18 574.67 L543.76 572.88 L552.05 569.83 L560.34 561.23 L573.64 554.78 L590.42 538.48 L623.77 478.3" fill="none" stroke="#f0a3d2" stroke-width="1.8" fill="none" stroke-linejoin="round"/>
<circle cx="535.18" cy="574.67" r="2.1" fill="#f0a3d2"/>
<circle cx="543.76" cy="572.88" r="2.1" fill="#f0a3d2"/>
<circle cx="552.05" cy="569.83" r="2.1" fill="#f0a3d2"/>
<circle cx="560.34" cy="561.23" r="2.1" fill="#f0a3d2"/>
<circle cx="573.64" cy="554.78" r="2.1" fill="#f0a3d2"/>
<circle cx="590.42" cy="538.48" r="2.1" fill="#f0a3d2"/>
<circle cx="623.77" cy="478.3" r="2.1" fill="#f0a3d2"/>
<rect x="507.9" y="453.4" width="168.7" height="143.3" fill="none" stroke="#2b2b2b" stroke-width="1"/>
<line x1="507.9" y1="596.7" x2="507.9" y2="594.7" stroke="#2b2b2b" stroke-width="0.8"/>
<line x1="507.9" y1="453.4" x2="507.9" y2="455.4" stroke="#2b2b2b" stroke-width="0.8"/>
<text x="507.9" y="606.7" font-size="9.3" text-anchor="middle" fill="#222" stroke="#222" stroke-width="0.18">0</text>
<line x1="556.1" y1="596.7" x2="556.1" y2="594.7" stroke="#2b2b2b" stroke-width="0.8"/>
<line x1="556.1" y1="453.4" x2="556.1" y2="455.4" stroke="#2b2b2b" stroke-width="0.8"/>
<text x="556.1" y="606.7" font-size="9.3" text-anchor="middle" fill="#222" stroke="#222" stroke-width="0.18">0.5</text>
<line x1="604.3" y1="596.7" x2="604.3" y2="594.7" stroke="#2b2b2b" stroke-width="0.8"/>
<line x1="604.3" y1="453.4" x2="604.3" y2="455.4" stroke="#2b2b2b" stroke-width="0.8"/>
<text x="604.3" y="606.7" font-size="9.3" text-anchor="middle" fill="#222" stroke="#222" stroke-width="0.18">1</text>
<line x1="652.5" y1="596.7" x2="652.5" y2="594.7" stroke="#2b2b2b" stroke-width="0.8"/>
<line x1="652.5" y1="453.4" x2="652.5" y2="455.4" stroke="#2b2b2b" stroke-width="0.8"/>
<text x="652.5" y="606.7" font-size="9.3" text-anchor="middle" fill="#222" stroke="#222" stroke-width="0.18">1.5</text>
<line x1="507.9" y1="596.7" x2="509.9" y2="596.7" stroke="#2b2b2b" stroke-width="0.8"/>
<line x1="676.6" y1="596.7" x2="674.6" y2="596.7" stroke="#2b2b2b" stroke-width="0.8"/>
<text x="503.5" y="599.3" font-size="9.3" text-anchor="end" fill="#222" stroke="#222" stroke-width="0.18">0</text>
<line x1="507.9" y1="560.88" x2="509.9" y2="560.88" stroke="#2b2b2b" stroke-width="0.8"/>
<line x1="676.6" y1="560.88" x2="674.6" y2="560.88" stroke="#2b2b2b" stroke-width="0.8"/>
<text x="503.5" y="563.48" font-size="9.3" text-anchor="end" fill="#222" stroke="#222" stroke-width="0.18">0.02</text>
<line x1="507.9" y1="525.05" x2="509.9" y2="525.05" stroke="#2b2b2b" stroke-width="0.8"/>
<line x1="676.6" y1="525.05" x2="674.6" y2="525.05" stroke="#2b2b2b" stroke-width="0.8"/>
<text x="503.5" y="527.65" font-size="9.3" text-anchor="end" fill="#222" stroke="#222" stroke-width="0.18">0.04</text>
<line x1="507.9" y1="489.23" x2="509.9" y2="489.23" stroke="#2b2b2b" stroke-width="0.8"/>
<line x1="676.6" y1="489.23" x2="674.6" y2="489.23" stroke="#2b2b2b" stroke-width="0.8"/>
<text x="503.5" y="491.83" font-size="9.3" text-anchor="end" fill="#222" stroke="#222" stroke-width="0.18">0.06</text>
<line x1="507.9" y1="453.4" x2="509.9" y2="453.4" stroke="#2b2b2b" stroke-width="0.8"/>
<line x1="676.6" y1="453.4" x2="674.6" y2="453.4" stroke="#2b2b2b" stroke-width="0.8"/>
<text x="503.5" y="456" font-size="9.3" text-anchor="end" fill="#222" stroke="#222" stroke-width="0.18">0.08</text>
<rect x="510.8" y="457.2" width="81.9" height="31.9" fill="#fff" stroke="#444" stroke-width="0.9"/>
<line x1="511.8" y1="462.6" x2="525" y2="462.6" stroke="#1a78c8" stroke-width="1.9" stroke-dasharray="4.2 4.2"/>
<line x1="513.5" y1="472" x2="524" y2="472" stroke="#f0a3d2" stroke-width="1.4"/>
<line x1="518.8" y1="468.2" x2="518.8" y2="475.8" stroke="#f0a3d2" stroke-width="1.4"/>
<line x1="513.5" y1="481" x2="524" y2="481" stroke="#8f8f8f" stroke-width="1.4"/>
<line x1="518.8" y1="477.2" x2="518.8" y2="484.8" stroke="#8f8f8f" stroke-width="1.4"/>
<text x="525.1" y="465.3" font-size="7" text-anchor="start" fill="#222" stroke="#222" stroke-width="0.18">Stokes-Einstein</text>
<text x="525.1" y="475" font-size="7" text-anchor="start" fill="#222" stroke="#222" stroke-width="0.18">Untreated (n=908)</text>
<text x="525.1" y="484" font-size="7" text-anchor="start" fill="#222" stroke="#222" stroke-width="0.18">CC1 treated (n=324)</text>
<text x="592.6" y="621.3" font-size="10.4" text-anchor="middle" fill="#222" stroke="#222" stroke-width="0.18">1/Diameter (µm<tspan dy="-3.6" font-size="6.3">-1</tspan><tspan dy="3.6">)</tspan></text>
<text x="477.9" y="524.2" font-size="10.4" text-anchor="middle" fill="#222" transform="rotate(-90 477.9 524.2)" stroke="#222" stroke-width="0.18">Diffusion constant (µm<tspan dy="-3.6" font-size="6.2">2</tspan><tspan dy="3.6">/s)</tspan></text>
</svg></body></html>
